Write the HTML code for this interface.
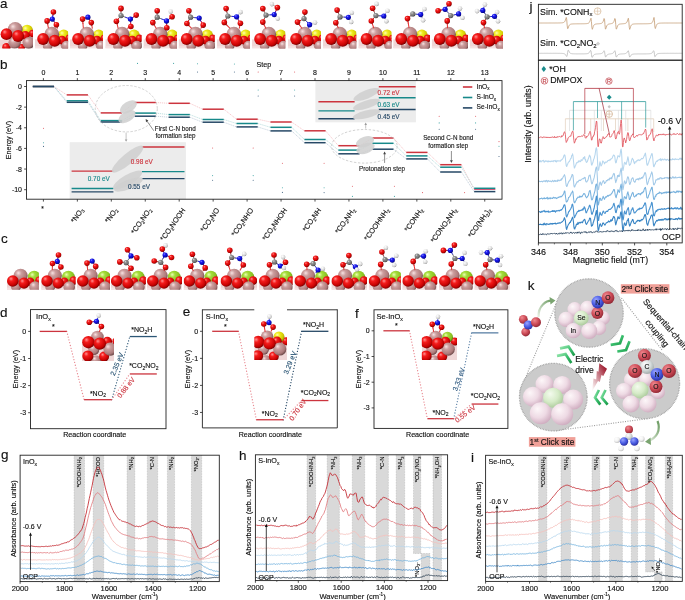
<!DOCTYPE html><html><head><meta charset="utf-8"><style>html,body{margin:0;padding:0;background:#fff;width:685px;height:600px;overflow:hidden;}svg{display:block;font-family:"Liberation Sans", sans-serif;filter:blur(0.3px);}</style></head><body>
<svg width="685" height="600" viewBox="0 0 685 600">
<defs>
<radialGradient id="gO" cx="0.4" cy="0.36" r="0.68" fx="0.34" fy="0.3"><stop offset="0" stop-color="#ff9090"/><stop offset="0.3" stop-color="#f41c1c"/><stop offset="0.75" stop-color="#c80202"/><stop offset="1" stop-color="#6a0000"/></radialGradient>
<radialGradient id="gIn" cx="0.4" cy="0.36" r="0.68" fx="0.34" fy="0.3"><stop offset="0" stop-color="#f8e2e2"/><stop offset="0.3" stop-color="#cc9e9e"/><stop offset="0.75" stop-color="#ac7a7a"/><stop offset="1" stop-color="#624040"/></radialGradient>
<radialGradient id="gS" cx="0.4" cy="0.36" r="0.68" fx="0.34" fy="0.3"><stop offset="0" stop-color="#ffffb0"/><stop offset="0.3" stop-color="#f0ec20"/><stop offset="0.75" stop-color="#d0c800"/><stop offset="1" stop-color="#807800"/></radialGradient>
<radialGradient id="gSe" cx="0.4" cy="0.36" r="0.68" fx="0.34" fy="0.3"><stop offset="0" stop-color="#eaffb0"/><stop offset="0.3" stop-color="#a4dc3c"/><stop offset="0.75" stop-color="#88c020"/><stop offset="1" stop-color="#4a7a08"/></radialGradient>
<radialGradient id="gN" cx="0.4" cy="0.36" r="0.68" fx="0.34" fy="0.3"><stop offset="0" stop-color="#9090ff"/><stop offset="0.3" stop-color="#2020f0"/><stop offset="0.75" stop-color="#0808c0"/><stop offset="1" stop-color="#000060"/></radialGradient>
<radialGradient id="gC" cx="0.4" cy="0.36" r="0.68" fx="0.34" fy="0.3"><stop offset="0" stop-color="#e0e0e0"/><stop offset="0.3" stop-color="#909090"/><stop offset="0.75" stop-color="#707070"/><stop offset="1" stop-color="#303030"/></radialGradient>
<radialGradient id="gH" cx="0.4" cy="0.36" r="0.68" fx="0.34" fy="0.3"><stop offset="0" stop-color="#ffffff"/><stop offset="0.3" stop-color="#f0f0f0"/><stop offset="0.75" stop-color="#d0d0d0"/><stop offset="1" stop-color="#888888"/></radialGradient>
</defs>
<rect x="0" y="0" width="685" height="600" fill="#fff" stroke="none" stroke-width="1" />
<rect x="69.7" y="142.2" width="116.2" height="57" fill="#ececec" stroke="none" stroke-width="1" />
<rect x="315.4" y="80.6" width="100.5" height="41.7" fill="#ececec" stroke="none" stroke-width="1" />
<line x1="54" y1="86.5" x2="66.75" y2="94.9" stroke="#f0a0a6" stroke-width="0.55" stroke-dasharray="1.2 0.8"/>
<line x1="87.95" y1="94.9" x2="100.7" y2="112.9" stroke="#f0a0a6" stroke-width="0.55" stroke-dasharray="1.2 0.8"/>
<line x1="121.9" y1="112.9" x2="134.65" y2="102.5" stroke="#f0a0a6" stroke-width="0.55" stroke-dasharray="1.2 0.8"/>
<line x1="155.85" y1="102.5" x2="168.6" y2="103.3" stroke="#f0a0a6" stroke-width="0.55" stroke-dasharray="1.2 0.8"/>
<line x1="189.8" y1="103.3" x2="202.55" y2="109.2" stroke="#f0a0a6" stroke-width="0.55" stroke-dasharray="1.2 0.8"/>
<line x1="223.75" y1="109.2" x2="236.5" y2="119.2" stroke="#f0a0a6" stroke-width="0.55" stroke-dasharray="1.2 0.8"/>
<line x1="257.7" y1="119.2" x2="270.45" y2="122" stroke="#f0a0a6" stroke-width="0.55" stroke-dasharray="1.2 0.8"/>
<line x1="291.65" y1="122" x2="304.4" y2="130.8" stroke="#f0a0a6" stroke-width="0.55" stroke-dasharray="1.2 0.8"/>
<line x1="325.6" y1="130.8" x2="338.35" y2="145.7" stroke="#f0a0a6" stroke-width="0.55" stroke-dasharray="1.2 0.8"/>
<line x1="359.55" y1="145.7" x2="372.3" y2="138" stroke="#f0a0a6" stroke-width="0.55" stroke-dasharray="1.2 0.8"/>
<line x1="393.5" y1="138" x2="406.25" y2="152.4" stroke="#f0a0a6" stroke-width="0.55" stroke-dasharray="1.2 0.8"/>
<line x1="427.45" y1="152.4" x2="440.2" y2="164.7" stroke="#f0a0a6" stroke-width="0.55" stroke-dasharray="1.2 0.8"/>
<line x1="461.4" y1="164.7" x2="474.15" y2="189.5" stroke="#f0a0a6" stroke-width="0.55" stroke-dasharray="1.2 0.8"/>
<line x1="54" y1="86.5" x2="66.75" y2="100.8" stroke="#8cc8c8" stroke-width="0.55" stroke-dasharray="1.2 0.8"/>
<line x1="87.95" y1="100.8" x2="100.7" y2="120.6" stroke="#8cc8c8" stroke-width="0.55" stroke-dasharray="1.2 0.8"/>
<line x1="121.9" y1="120.6" x2="134.65" y2="113.1" stroke="#8cc8c8" stroke-width="0.55" stroke-dasharray="1.2 0.8"/>
<line x1="155.85" y1="113.1" x2="168.6" y2="114.6" stroke="#8cc8c8" stroke-width="0.55" stroke-dasharray="1.2 0.8"/>
<line x1="189.8" y1="114.6" x2="202.55" y2="119.5" stroke="#8cc8c8" stroke-width="0.55" stroke-dasharray="1.2 0.8"/>
<line x1="223.75" y1="119.5" x2="236.5" y2="123.5" stroke="#8cc8c8" stroke-width="0.55" stroke-dasharray="1.2 0.8"/>
<line x1="257.7" y1="123.5" x2="270.45" y2="127.3" stroke="#8cc8c8" stroke-width="0.55" stroke-dasharray="1.2 0.8"/>
<line x1="291.65" y1="127.3" x2="304.4" y2="139.5" stroke="#8cc8c8" stroke-width="0.55" stroke-dasharray="1.2 0.8"/>
<line x1="325.6" y1="139.5" x2="338.35" y2="150.1" stroke="#8cc8c8" stroke-width="0.55" stroke-dasharray="1.2 0.8"/>
<line x1="359.55" y1="150.1" x2="372.3" y2="143.3" stroke="#8cc8c8" stroke-width="0.55" stroke-dasharray="1.2 0.8"/>
<line x1="393.5" y1="143.3" x2="406.25" y2="155.9" stroke="#8cc8c8" stroke-width="0.55" stroke-dasharray="1.2 0.8"/>
<line x1="427.45" y1="155.9" x2="440.2" y2="167.2" stroke="#8cc8c8" stroke-width="0.55" stroke-dasharray="1.2 0.8"/>
<line x1="461.4" y1="167.2" x2="474.15" y2="188.3" stroke="#8cc8c8" stroke-width="0.55" stroke-dasharray="1.2 0.8"/>
<line x1="54" y1="86.5" x2="66.75" y2="102.3" stroke="#9cb0c4" stroke-width="0.55" stroke-dasharray="1.2 0.8"/>
<line x1="87.95" y1="102.3" x2="100.7" y2="122" stroke="#9cb0c4" stroke-width="0.55" stroke-dasharray="1.2 0.8"/>
<line x1="121.9" y1="122" x2="134.65" y2="116.2" stroke="#9cb0c4" stroke-width="0.55" stroke-dasharray="1.2 0.8"/>
<line x1="155.85" y1="116.2" x2="168.6" y2="117.2" stroke="#9cb0c4" stroke-width="0.55" stroke-dasharray="1.2 0.8"/>
<line x1="189.8" y1="117.2" x2="202.55" y2="122.2" stroke="#9cb0c4" stroke-width="0.55" stroke-dasharray="1.2 0.8"/>
<line x1="223.75" y1="122.2" x2="236.5" y2="126.9" stroke="#9cb0c4" stroke-width="0.55" stroke-dasharray="1.2 0.8"/>
<line x1="257.7" y1="126.9" x2="270.45" y2="130.9" stroke="#9cb0c4" stroke-width="0.55" stroke-dasharray="1.2 0.8"/>
<line x1="291.65" y1="130.9" x2="304.4" y2="142.7" stroke="#9cb0c4" stroke-width="0.55" stroke-dasharray="1.2 0.8"/>
<line x1="325.6" y1="142.7" x2="338.35" y2="153.8" stroke="#9cb0c4" stroke-width="0.55" stroke-dasharray="1.2 0.8"/>
<line x1="359.55" y1="153.8" x2="372.3" y2="149.2" stroke="#9cb0c4" stroke-width="0.55" stroke-dasharray="1.2 0.8"/>
<line x1="393.5" y1="149.2" x2="406.25" y2="158.9" stroke="#9cb0c4" stroke-width="0.55" stroke-dasharray="1.2 0.8"/>
<line x1="427.45" y1="158.9" x2="440.2" y2="172" stroke="#9cb0c4" stroke-width="0.55" stroke-dasharray="1.2 0.8"/>
<line x1="461.4" y1="172" x2="474.15" y2="191.6" stroke="#9cb0c4" stroke-width="0.55" stroke-dasharray="1.2 0.8"/>
<line x1="32.8" y1="86.5" x2="54" y2="86.5" stroke="#cc343e" stroke-width="1.5" />
<line x1="32.8" y1="86.5" x2="54" y2="86.5" stroke="#17898a" stroke-width="1.5" />
<line x1="32.8" y1="86.5" x2="54" y2="86.5" stroke="#264866" stroke-width="1.5" />
<line x1="66.75" y1="94.9" x2="87.95" y2="94.9" stroke="#cc343e" stroke-width="1.5" />
<line x1="66.75" y1="100.8" x2="87.95" y2="100.8" stroke="#17898a" stroke-width="1.5" />
<line x1="66.75" y1="102.3" x2="87.95" y2="102.3" stroke="#264866" stroke-width="1.5" />
<line x1="100.7" y1="112.9" x2="121.9" y2="112.9" stroke="#cc343e" stroke-width="1.5" />
<line x1="100.7" y1="120.6" x2="121.9" y2="120.6" stroke="#17898a" stroke-width="1.5" />
<line x1="100.7" y1="122" x2="121.9" y2="122" stroke="#264866" stroke-width="1.5" />
<line x1="134.65" y1="102.5" x2="155.85" y2="102.5" stroke="#cc343e" stroke-width="1.5" />
<line x1="134.65" y1="113.1" x2="155.85" y2="113.1" stroke="#17898a" stroke-width="1.5" />
<line x1="134.65" y1="116.2" x2="155.85" y2="116.2" stroke="#264866" stroke-width="1.5" />
<line x1="168.6" y1="103.3" x2="189.8" y2="103.3" stroke="#cc343e" stroke-width="1.5" />
<line x1="168.6" y1="114.6" x2="189.8" y2="114.6" stroke="#17898a" stroke-width="1.5" />
<line x1="168.6" y1="117.2" x2="189.8" y2="117.2" stroke="#264866" stroke-width="1.5" />
<line x1="202.55" y1="109.2" x2="223.75" y2="109.2" stroke="#cc343e" stroke-width="1.5" />
<line x1="202.55" y1="119.5" x2="223.75" y2="119.5" stroke="#17898a" stroke-width="1.5" />
<line x1="202.55" y1="122.2" x2="223.75" y2="122.2" stroke="#264866" stroke-width="1.5" />
<line x1="236.5" y1="119.2" x2="257.7" y2="119.2" stroke="#cc343e" stroke-width="1.5" />
<line x1="236.5" y1="123.5" x2="257.7" y2="123.5" stroke="#17898a" stroke-width="1.5" />
<line x1="236.5" y1="126.9" x2="257.7" y2="126.9" stroke="#264866" stroke-width="1.5" />
<line x1="270.45" y1="122" x2="291.65" y2="122" stroke="#cc343e" stroke-width="1.5" />
<line x1="270.45" y1="127.3" x2="291.65" y2="127.3" stroke="#17898a" stroke-width="1.5" />
<line x1="270.45" y1="130.9" x2="291.65" y2="130.9" stroke="#264866" stroke-width="1.5" />
<line x1="304.4" y1="130.8" x2="325.6" y2="130.8" stroke="#cc343e" stroke-width="1.5" />
<line x1="304.4" y1="139.5" x2="325.6" y2="139.5" stroke="#17898a" stroke-width="1.5" />
<line x1="304.4" y1="142.7" x2="325.6" y2="142.7" stroke="#264866" stroke-width="1.5" />
<line x1="338.35" y1="145.7" x2="359.55" y2="145.7" stroke="#cc343e" stroke-width="1.5" />
<line x1="338.35" y1="150.1" x2="359.55" y2="150.1" stroke="#17898a" stroke-width="1.5" />
<line x1="338.35" y1="153.8" x2="359.55" y2="153.8" stroke="#264866" stroke-width="1.5" />
<line x1="372.3" y1="138" x2="393.5" y2="138" stroke="#cc343e" stroke-width="1.5" />
<line x1="372.3" y1="143.3" x2="393.5" y2="143.3" stroke="#17898a" stroke-width="1.5" />
<line x1="372.3" y1="149.2" x2="393.5" y2="149.2" stroke="#264866" stroke-width="1.5" />
<line x1="406.25" y1="152.4" x2="427.45" y2="152.4" stroke="#cc343e" stroke-width="1.5" />
<line x1="406.25" y1="155.9" x2="427.45" y2="155.9" stroke="#17898a" stroke-width="1.5" />
<line x1="406.25" y1="158.9" x2="427.45" y2="158.9" stroke="#264866" stroke-width="1.5" />
<line x1="440.2" y1="164.7" x2="461.4" y2="164.7" stroke="#cc343e" stroke-width="1.5" />
<line x1="440.2" y1="167.2" x2="461.4" y2="167.2" stroke="#17898a" stroke-width="1.5" />
<line x1="440.2" y1="172" x2="461.4" y2="172" stroke="#264866" stroke-width="1.5" />
<line x1="474.15" y1="188.3" x2="495.35" y2="188.3" stroke="#17898a" stroke-width="1.5" />
<line x1="474.15" y1="191.6" x2="495.35" y2="191.6" stroke="#264866" stroke-width="1.5" />
<line x1="474.15" y1="189.5" x2="495.35" y2="189.5" stroke="#d45a7a" stroke-width="1" />
<ellipse cx="128.4" cy="107" rx="9.5" ry="5.2" fill="#cfcfcf" opacity="0.85" transform="rotate(-32 128.4 107)"/>
<ellipse cx="127" cy="116.6" rx="9.5" ry="5.2" fill="#cfcfcf" opacity="0.85" transform="rotate(-32 127 116.6)"/>
<ellipse cx="365" cy="141.8" rx="9.5" ry="5" fill="#cfcfcf" opacity="0.85" transform="rotate(-20 365 141.8)"/>
<ellipse cx="365.5" cy="148.5" rx="9.5" ry="5" fill="#cfcfcf" opacity="0.85" transform="rotate(-20 365.5 148.5)"/>
<ellipse cx="126.3" cy="108.7" rx="31" ry="23.2" fill="none" stroke="#b4b4b4" stroke-width="0.6" stroke-dasharray="2.4 1.6"/>
<ellipse cx="364.4" cy="146.3" rx="32.8" ry="16.8" fill="none" stroke="#b4b4b4" stroke-width="0.6" stroke-dasharray="2.4 1.6"/>
<line x1="71.6" y1="171.1" x2="113.4" y2="171.1" stroke="#cc343e" stroke-width="1.4" />
<line x1="141.8" y1="147" x2="184.5" y2="147" stroke="#cc343e" stroke-width="1.4" />
<line x1="71.6" y1="188.5" x2="113.4" y2="188.5" stroke="#17898a" stroke-width="1.4" />
<line x1="71.6" y1="191.9" x2="113.4" y2="191.9" stroke="#264866" stroke-width="1.4" />
<line x1="141.8" y1="171.6" x2="184.5" y2="171.6" stroke="#17898a" stroke-width="1.4" />
<line x1="141.8" y1="178.6" x2="184.5" y2="178.6" stroke="#264866" stroke-width="1.4" />
<ellipse cx="127.6" cy="159.1" rx="20" ry="5.4" fill="#cfcfcf" opacity="0.85" transform="rotate(-40 127.6 159.1)"/>
<ellipse cx="127.6" cy="180" rx="16.5" ry="5.2" fill="#cfcfcf" opacity="0.85" transform="rotate(-30 127.6 180)"/>
<ellipse cx="128.5" cy="184.5" rx="15.5" ry="4.6" fill="#cfcfcf" opacity="0.85" transform="rotate(-22 128.5 184.5)"/>
<text x="141.8" y="163.6" font-size="6.4" text-anchor="middle" fill="#cc343e"  stroke="#cc343e" stroke-width="0.14">0.98 eV</text>
<text x="98.8" y="180.6" font-size="6.4" text-anchor="middle" fill="#17898a"  stroke="#17898a" stroke-width="0.14">0.70 eV</text>
<text x="139" y="188.9" font-size="6.4" text-anchor="middle" fill="#264866"  stroke="#264866" stroke-width="0.14">0.55 eV</text>
<line x1="318.4" y1="101.8" x2="354.6" y2="101.8" stroke="#cc343e" stroke-width="1.4" />
<line x1="318.4" y1="110.9" x2="354.6" y2="110.9" stroke="#17898a" stroke-width="1.4" />
<line x1="318.4" y1="118.8" x2="354.6" y2="118.8" stroke="#264866" stroke-width="1.4" />
<line x1="378.8" y1="86.7" x2="415.6" y2="86.7" stroke="#cc343e" stroke-width="1.4" />
<line x1="378.8" y1="97.8" x2="415.6" y2="97.8" stroke="#17898a" stroke-width="1.4" />
<line x1="378.8" y1="109.5" x2="415.6" y2="109.5" stroke="#264866" stroke-width="1.4" />
<ellipse cx="366.5" cy="94.5" rx="14" ry="4.2" fill="#cfcfcf" opacity="0.85" transform="rotate(-22 366.5 94.5)"/>
<ellipse cx="366.5" cy="104.5" rx="14" ry="4" fill="#cfcfcf" opacity="0.85" transform="rotate(-18 366.5 104.5)"/>
<ellipse cx="366.5" cy="114.3" rx="14" ry="3.8" fill="#cfcfcf" opacity="0.85" transform="rotate(-14 366.5 114.3)"/>
<text x="377.6" y="95.2" font-size="6.4" text-anchor="start" fill="#cc343e"  stroke="#cc343e" stroke-width="0.14">0.72 eV</text>
<text x="377.6" y="107.4" font-size="6.4" text-anchor="start" fill="#17898a"  stroke="#17898a" stroke-width="0.14">0.63 eV</text>
<text x="377.6" y="119" font-size="6.4" text-anchor="start" fill="#264866"  stroke="#264866" stroke-width="0.14">0.45 eV</text>
<line x1="126.1" y1="132.6" x2="126.1" y2="139.9" stroke="#9a9a9a" stroke-width="0.6" />
<path d="M126.1 141.8 L124.8 139.4 L127.4 139.4 Z" fill="#9a9a9a"/>
<line x1="365.7" y1="128.6" x2="365.7" y2="124.5" stroke="#9a9a9a" stroke-width="0.6" />
<path d="M365.7 122.6 L367 125 L364.4 125 Z" fill="#9a9a9a"/>
<line x1="153.8" y1="130.8" x2="146.92" y2="120.98" stroke="#444" stroke-width="0.6" />
<path d="M145.6 119.1 L148.35 120.59 L146.06 122.2 Z" fill="#444"/>
<line x1="384.6" y1="162.9" x2="384.6" y2="153.8" stroke="#444" stroke-width="0.6" />
<path d="M384.6 151.5 L386 154.3 L383.2 154.3 Z" fill="#444"/>
<line x1="451.4" y1="151" x2="451.4" y2="160.7" stroke="#444" stroke-width="0.6" />
<path d="M451.4 163 L450 160.2 L452.8 160.2 Z" fill="#444"/>
<text x="175.3" y="130.8" font-size="6.3" text-anchor="middle" fill="#1a1a1a"  stroke="#1a1a1a" stroke-width="0.14">First C-N bond</text>
<text x="175.5" y="137.7" font-size="6.3" text-anchor="middle" fill="#1a1a1a"  stroke="#1a1a1a" stroke-width="0.14">formation step</text>
<text x="382" y="170.8" font-size="6.3" text-anchor="middle" fill="#1a1a1a"  stroke="#1a1a1a" stroke-width="0.14">Protonation step</text>
<text x="448.2" y="140.2" font-size="6.3" text-anchor="middle" fill="#1a1a1a"  stroke="#1a1a1a" stroke-width="0.14">Second C-N bond</text>
<text x="448.2" y="148.4" font-size="6.3" text-anchor="middle" fill="#1a1a1a"  stroke="#1a1a1a" stroke-width="0.14">formation step</text>
<line x1="462.9" y1="87" x2="472.3" y2="87" stroke="#cc343e" stroke-width="1.6" />
<text x="476.6" y="88.5" font-size="6.6" fill="#111" stroke="#111" stroke-width="0.14">InO<tspan font-size="4.6" dy="1.6">x</tspan></text>
<line x1="462.9" y1="97.5" x2="472.3" y2="97.5" stroke="#17898a" stroke-width="1.6" />
<text x="476.6" y="99" font-size="6.6" fill="#111" stroke="#111" stroke-width="0.14">S-InO<tspan font-size="4.6" dy="1.6">x</tspan></text>
<line x1="462.9" y1="107.9" x2="472.3" y2="107.9" stroke="#264866" stroke-width="1.6" />
<text x="476.6" y="109.4" font-size="6.6" fill="#111" stroke="#111" stroke-width="0.14">Se-InO<tspan font-size="4.6" dy="1.6">x</tspan></text>
<circle cx="43.5" cy="128.2" r="0.55" fill="#e05a62" />
<circle cx="43.5" cy="142.8" r="0.55" fill="#48a8a8" />
<circle cx="43.5" cy="146.4" r="0.55" fill="#4a6a88" />
<circle cx="137.5" cy="63.4" r="0.55" fill="#48a8a8" />
<circle cx="173.6" cy="63.4" r="0.55" fill="#48a8a8" />
<circle cx="197.5" cy="63.8" r="0.55" fill="#48a8a8" />
<circle cx="197.5" cy="72" r="0.55" fill="#4a6a88" />
<circle cx="234.4" cy="64" r="0.55" fill="#48a8a8" />
<circle cx="234.4" cy="72" r="0.55" fill="#4a6a88" />
<circle cx="258.2" cy="72" r="0.55" fill="#e05a62" />
<circle cx="258.2" cy="90" r="0.55" fill="#48a8a8" />
<circle cx="258.2" cy="96" r="0.55" fill="#4a6a88" />
<circle cx="294.6" cy="72" r="0.55" fill="#e05a62" />
<circle cx="294.6" cy="90" r="0.55" fill="#48a8a8" />
<circle cx="294.6" cy="96" r="0.55" fill="#4a6a88" />
<circle cx="212.6" cy="148" r="0.55" fill="#e05a62" />
<circle cx="212.6" cy="175.6" r="0.55" fill="#48a8a8" />
<circle cx="212.6" cy="180.2" r="0.55" fill="#4a6a88" />
<circle cx="253.2" cy="148" r="0.55" fill="#e05a62" />
<circle cx="253.2" cy="175.6" r="0.55" fill="#48a8a8" />
<circle cx="253.2" cy="180.2" r="0.55" fill="#4a6a88" />
<circle cx="282.4" cy="163.2" r="0.55" fill="#e05a62" />
<circle cx="282.4" cy="187.8" r="0.55" fill="#48a8a8" />
<circle cx="282.4" cy="192.4" r="0.55" fill="#4a6a88" />
<circle cx="324.1" cy="163.2" r="0.55" fill="#e05a62" />
<circle cx="324.1" cy="187.8" r="0.55" fill="#48a8a8" />
<circle cx="324.1" cy="192.6" r="0.55" fill="#4a6a88" />
<circle cx="352.4" cy="186.2" r="0.55" fill="#e05a62" />
<circle cx="352.4" cy="196.4" r="0.55" fill="#48a8a8" />
<circle cx="394.4" cy="186.2" r="0.55" fill="#e05a62" />
<circle cx="394.4" cy="196.4" r="0.55" fill="#48a8a8" />
<circle cx="422.5" cy="192.6" r="0.55" fill="#e05a62" />
<circle cx="464.6" cy="192.6" r="0.55" fill="#e05a62" />
<circle cx="439.2" cy="116.2" r="0.55" fill="#e05a62" />
<circle cx="439.2" cy="122.9" r="0.55" fill="#48a8a8" />
<circle cx="439.2" cy="129.2" r="0.55" fill="#4a6a88" />
<circle cx="475.6" cy="116.2" r="0.55" fill="#e05a62" />
<circle cx="475.6" cy="122.9" r="0.55" fill="#48a8a8" />
<circle cx="475.6" cy="129.2" r="0.55" fill="#4a6a88" />
<circle cx="499" cy="141.6" r="0.55" fill="#e05a62" />
<circle cx="499" cy="146.3" r="0.55" fill="#48a8a8" />
<circle cx="499" cy="156.5" r="0.55" fill="#4a6a88" />
<rect x="26.5" y="80.6" width="475.5" height="118.6" fill="none" stroke="#222" stroke-width="0.9" />
<line x1="43.4" y1="80.6" x2="43.4" y2="78.1" stroke="#222" stroke-width="0.8" />
<line x1="43.4" y1="199.2" x2="43.4" y2="201.6" stroke="#222" stroke-width="0.8" />
<text x="43.4" y="75.1" font-size="7" text-anchor="middle" fill="#111"  stroke="#111" stroke-width="0.14">0</text>
<line x1="77.35" y1="80.6" x2="77.35" y2="78.1" stroke="#222" stroke-width="0.8" />
<line x1="77.35" y1="199.2" x2="77.35" y2="201.6" stroke="#222" stroke-width="0.8" />
<text x="77.35" y="75.1" font-size="7" text-anchor="middle" fill="#111"  stroke="#111" stroke-width="0.14">1</text>
<line x1="111.3" y1="80.6" x2="111.3" y2="78.1" stroke="#222" stroke-width="0.8" />
<line x1="111.3" y1="199.2" x2="111.3" y2="201.6" stroke="#222" stroke-width="0.8" />
<text x="111.3" y="75.1" font-size="7" text-anchor="middle" fill="#111"  stroke="#111" stroke-width="0.14">2</text>
<line x1="145.25" y1="80.6" x2="145.25" y2="78.1" stroke="#222" stroke-width="0.8" />
<line x1="145.25" y1="199.2" x2="145.25" y2="201.6" stroke="#222" stroke-width="0.8" />
<text x="145.25" y="75.1" font-size="7" text-anchor="middle" fill="#111"  stroke="#111" stroke-width="0.14">3</text>
<line x1="179.2" y1="80.6" x2="179.2" y2="78.1" stroke="#222" stroke-width="0.8" />
<line x1="179.2" y1="199.2" x2="179.2" y2="201.6" stroke="#222" stroke-width="0.8" />
<text x="179.2" y="75.1" font-size="7" text-anchor="middle" fill="#111"  stroke="#111" stroke-width="0.14">4</text>
<line x1="213.15" y1="80.6" x2="213.15" y2="78.1" stroke="#222" stroke-width="0.8" />
<line x1="213.15" y1="199.2" x2="213.15" y2="201.6" stroke="#222" stroke-width="0.8" />
<text x="213.15" y="75.1" font-size="7" text-anchor="middle" fill="#111"  stroke="#111" stroke-width="0.14">5</text>
<line x1="247.1" y1="80.6" x2="247.1" y2="78.1" stroke="#222" stroke-width="0.8" />
<line x1="247.1" y1="199.2" x2="247.1" y2="201.6" stroke="#222" stroke-width="0.8" />
<text x="247.1" y="75.1" font-size="7" text-anchor="middle" fill="#111"  stroke="#111" stroke-width="0.14">6</text>
<line x1="281.05" y1="80.6" x2="281.05" y2="78.1" stroke="#222" stroke-width="0.8" />
<line x1="281.05" y1="199.2" x2="281.05" y2="201.6" stroke="#222" stroke-width="0.8" />
<text x="281.05" y="75.1" font-size="7" text-anchor="middle" fill="#111"  stroke="#111" stroke-width="0.14">7</text>
<line x1="315" y1="80.6" x2="315" y2="78.1" stroke="#222" stroke-width="0.8" />
<line x1="315" y1="199.2" x2="315" y2="201.6" stroke="#222" stroke-width="0.8" />
<text x="315" y="75.1" font-size="7" text-anchor="middle" fill="#111"  stroke="#111" stroke-width="0.14">8</text>
<line x1="348.95" y1="80.6" x2="348.95" y2="78.1" stroke="#222" stroke-width="0.8" />
<line x1="348.95" y1="199.2" x2="348.95" y2="201.6" stroke="#222" stroke-width="0.8" />
<text x="348.95" y="75.1" font-size="7" text-anchor="middle" fill="#111"  stroke="#111" stroke-width="0.14">9</text>
<line x1="382.9" y1="80.6" x2="382.9" y2="78.1" stroke="#222" stroke-width="0.8" />
<line x1="382.9" y1="199.2" x2="382.9" y2="201.6" stroke="#222" stroke-width="0.8" />
<text x="382.9" y="75.1" font-size="7" text-anchor="middle" fill="#111"  stroke="#111" stroke-width="0.14">10</text>
<line x1="416.85" y1="80.6" x2="416.85" y2="78.1" stroke="#222" stroke-width="0.8" />
<line x1="416.85" y1="199.2" x2="416.85" y2="201.6" stroke="#222" stroke-width="0.8" />
<text x="416.85" y="75.1" font-size="7" text-anchor="middle" fill="#111"  stroke="#111" stroke-width="0.14">11</text>
<line x1="450.8" y1="80.6" x2="450.8" y2="78.1" stroke="#222" stroke-width="0.8" />
<line x1="450.8" y1="199.2" x2="450.8" y2="201.6" stroke="#222" stroke-width="0.8" />
<text x="450.8" y="75.1" font-size="7" text-anchor="middle" fill="#111"  stroke="#111" stroke-width="0.14">12</text>
<line x1="484.75" y1="80.6" x2="484.75" y2="78.1" stroke="#222" stroke-width="0.8" />
<line x1="484.75" y1="199.2" x2="484.75" y2="201.6" stroke="#222" stroke-width="0.8" />
<text x="484.75" y="75.1" font-size="7" text-anchor="middle" fill="#111"  stroke="#111" stroke-width="0.14">13</text>
<line x1="26.5" y1="86.5" x2="24.1" y2="86.5" stroke="#222" stroke-width="0.8" />
<text x="22" y="89" font-size="7" text-anchor="end" fill="#111"  stroke="#111" stroke-width="0.14">0</text>
<line x1="26.5" y1="107.14" x2="24.1" y2="107.14" stroke="#222" stroke-width="0.8" />
<text x="22" y="109.64" font-size="7" text-anchor="end" fill="#111"  stroke="#111" stroke-width="0.14">-2</text>
<line x1="26.5" y1="127.78" x2="24.1" y2="127.78" stroke="#222" stroke-width="0.8" />
<text x="22" y="130.28" font-size="7" text-anchor="end" fill="#111"  stroke="#111" stroke-width="0.14">-4</text>
<line x1="26.5" y1="148.42" x2="24.1" y2="148.42" stroke="#222" stroke-width="0.8" />
<text x="22" y="150.92" font-size="7" text-anchor="end" fill="#111"  stroke="#111" stroke-width="0.14">-6</text>
<line x1="26.5" y1="169.06" x2="24.1" y2="169.06" stroke="#222" stroke-width="0.8" />
<text x="22" y="171.56" font-size="7" text-anchor="end" fill="#111"  stroke="#111" stroke-width="0.14">-8</text>
<line x1="26.5" y1="189.7" x2="24.1" y2="189.7" stroke="#222" stroke-width="0.8" />
<text x="22" y="192.2" font-size="7" text-anchor="end" fill="#111"  stroke="#111" stroke-width="0.14">-10</text>
<text x="263.9" y="67.3" font-size="7.2" text-anchor="middle" fill="#111"  stroke="#111" stroke-width="0.14">Step</text>
<text x="10.6" y="140" font-size="7.2" fill="#111" text-anchor="middle" transform="rotate(-90 10.6 140)" stroke="#111" stroke-width="0.14">Energy (eV)</text>
<text x="42.4" y="211" font-size="6.5" text-anchor="middle" fill="#111"  stroke="#111" stroke-width="0.14">*</text>
<text x="83.95" y="210.2" font-size="7.3" fill="#111" text-anchor="end" transform="rotate(-55 83.95 210.2)" stroke="#111" stroke-width="0.14">*NO<tspan font-size="4.6" dy="1.4">3</tspan></text>
<text x="117.9" y="210.2" font-size="7.3" fill="#111" text-anchor="end" transform="rotate(-55 117.9 210.2)" stroke="#111" stroke-width="0.14">*NO<tspan font-size="4.6" dy="1.4">2</tspan></text>
<text x="151.85" y="210.2" font-size="7.3" fill="#111" text-anchor="end" transform="rotate(-55 151.85 210.2)" stroke="#111" stroke-width="0.14">*CO<tspan font-size="4.6" dy="1.4">2</tspan><tspan dy="-1.4">NO</tspan><tspan font-size="4.6" dy="1.4">2</tspan></text>
<text x="185.8" y="210.2" font-size="7.3" fill="#111" text-anchor="end" transform="rotate(-55 185.8 210.2)" stroke="#111" stroke-width="0.14">*CO<tspan font-size="4.6" dy="1.4">2</tspan><tspan dy="-1.4">NOOH</tspan></text>
<text x="219.75" y="210.2" font-size="7.3" fill="#111" text-anchor="end" transform="rotate(-55 219.75 210.2)" stroke="#111" stroke-width="0.14">*CO<tspan font-size="4.6" dy="1.4">2</tspan><tspan dy="-1.4">NO</tspan></text>
<text x="253.7" y="210.2" font-size="7.3" fill="#111" text-anchor="end" transform="rotate(-55 253.7 210.2)" stroke="#111" stroke-width="0.14">*CO<tspan font-size="4.6" dy="1.4">2</tspan><tspan dy="-1.4">NHO</tspan></text>
<text x="287.65" y="210.2" font-size="7.3" fill="#111" text-anchor="end" transform="rotate(-55 287.65 210.2)" stroke="#111" stroke-width="0.14">*CO<tspan font-size="4.6" dy="1.4">2</tspan><tspan dy="-1.4">NHOH</tspan></text>
<text x="321.6" y="210.2" font-size="7.3" fill="#111" text-anchor="end" transform="rotate(-55 321.6 210.2)" stroke="#111" stroke-width="0.14">*CO<tspan font-size="4.6" dy="1.4">2</tspan><tspan dy="-1.4">NH</tspan></text>
<text x="355.55" y="210.2" font-size="7.3" fill="#111" text-anchor="end" transform="rotate(-55 355.55 210.2)" stroke="#111" stroke-width="0.14">*CO<tspan font-size="4.6" dy="1.4">2</tspan><tspan dy="-1.4">NH</tspan><tspan font-size="4.6" dy="1.4">2</tspan></text>
<text x="389.5" y="210.2" font-size="7.3" fill="#111" text-anchor="end" transform="rotate(-55 389.5 210.2)" stroke="#111" stroke-width="0.14">*COOHNH<tspan font-size="4.6" dy="1.4">2</tspan></text>
<text x="423.45" y="210.2" font-size="7.3" fill="#111" text-anchor="end" transform="rotate(-55 423.45 210.2)" stroke="#111" stroke-width="0.14">*CONH<tspan font-size="4.6" dy="1.4">2</tspan></text>
<text x="457.4" y="210.2" font-size="7.3" fill="#111" text-anchor="end" transform="rotate(-55 457.4 210.2)" stroke="#111" stroke-width="0.14">*CONO<tspan font-size="4.6" dy="1.4">2</tspan><tspan dy="-1.4">NH</tspan><tspan font-size="4.6" dy="1.4">2</tspan></text>
<text x="491.35" y="210.2" font-size="7.3" fill="#111" text-anchor="end" transform="rotate(-55 491.35 210.2)" stroke="#111" stroke-width="0.14">*CO(NH<tspan font-size="4.6" dy="1.4">2</tspan><tspan dy="-1.4">)</tspan><tspan font-size="4.6" dy="1.4">2</tspan></text>
<clipPath id="cl1"><rect x="-1" y="21.6" width="34" height="27"/></clipPath><g clip-path="url(#cl1)">
<rect x="-1" y="39.6" width="34" height="9" fill="#efd6d6" stroke="none" stroke-width="1" />
<rect x="-1" y="46.4" width="34" height="2.2" fill="#f4e2e2" stroke="none" stroke-width="1" />
<circle cx="6.4" cy="47.2" r="4.2" fill="url(#gO)" />
<circle cx="21.6" cy="47.5" r="3.4" fill="url(#gO)" />
<circle cx="14.6" cy="42.6" r="6.2" fill="url(#gIn)" />
<circle cx="28.7" cy="42.6" r="6.2" fill="url(#gIn)" />
<circle cx="27.1" cy="30.4" r="5.7" fill="url(#gS)" />
<circle cx="32.7" cy="33.6" r="3.8" fill="url(#gO)" />
<circle cx="25.4" cy="35.4" r="4.4" fill="url(#gO)" />
<circle cx="15.2" cy="29.4" r="7.4" fill="url(#gIn)" />
<circle cx="6.5" cy="34.2" r="5.9" fill="url(#gO)" />
<circle cx="18.1" cy="36" r="6" fill="url(#gO)" />
<circle cx="28.7" cy="42.8" r="5.8" fill="url(#gIn)" />
</g>
<clipPath id="cl2"><rect x="35" y="21.4" width="33.1" height="27"/></clipPath><g clip-path="url(#cl2)">
<rect x="35" y="39.4" width="33.1" height="9" fill="#efd6d6" stroke="none" stroke-width="1" />
<rect x="35" y="46.2" width="33.1" height="2.2" fill="#f4e2e2" stroke="none" stroke-width="1" />
<circle cx="47.6" cy="45.9" r="4.8" fill="url(#gIn)" />
<circle cx="66.3" cy="45.3" r="5.6" fill="url(#gIn)" />
<circle cx="63.7" cy="35.2" r="5.7" fill="url(#gS)" />
<circle cx="69.3" cy="38.4" r="3.8" fill="url(#gO)" />
<circle cx="62" cy="40.2" r="4.4" fill="url(#gO)" />
<circle cx="51.8" cy="34.2" r="7.4" fill="url(#gIn)" />
<circle cx="43.1" cy="39" r="5.9" fill="url(#gO)" />
<circle cx="54.7" cy="40.8" r="6" fill="url(#gO)" />
<circle cx="66.6" cy="45.7" r="5" fill="url(#gIn)" />
</g>
<line x1="47.1" y1="20.9" x2="47.7" y2="24.3" stroke="#e01818" stroke-width="1.05" stroke-linecap="round"/>
<line x1="47.7" y1="24.3" x2="48.3" y2="27.7" stroke="#e03838" stroke-width="1.05" stroke-linecap="round"/>
<line x1="56.4" y1="24.7" x2="56.85" y2="26.45" stroke="#e01818" stroke-width="1.05" stroke-linecap="round"/>
<line x1="56.85" y1="26.45" x2="57.3" y2="28.2" stroke="#e03838" stroke-width="1.05" stroke-linecap="round"/>
<line x1="53.4" y1="12" x2="52.85" y2="15.55" stroke="#e01818" stroke-width="1" stroke-linecap="round"/>
<line x1="52.85" y1="15.55" x2="52.3" y2="19.1" stroke="#2020e0" stroke-width="1" stroke-linecap="round"/>
<line x1="52.3" y1="19.1" x2="49.7" y2="20" stroke="#2020e0" stroke-width="1" stroke-linecap="round"/>
<line x1="49.7" y1="20" x2="47.1" y2="20.9" stroke="#e01818" stroke-width="1" stroke-linecap="round"/>
<line x1="52.3" y1="19.1" x2="54.35" y2="21.9" stroke="#2020e0" stroke-width="1" stroke-linecap="round"/>
<line x1="54.35" y1="21.9" x2="56.4" y2="24.7" stroke="#e01818" stroke-width="1" stroke-linecap="round"/>
<circle cx="53.4" cy="12" r="2.8" fill="url(#gO)" />
<circle cx="52.3" cy="19.1" r="2.6" fill="url(#gN)" />
<circle cx="47.1" cy="20.9" r="2.8" fill="url(#gO)" />
<circle cx="56.4" cy="24.7" r="2.8" fill="url(#gO)" />
<clipPath id="cl3"><rect x="70" y="21.4" width="33" height="27"/></clipPath><g clip-path="url(#cl3)">
<rect x="70" y="39.4" width="33" height="9" fill="#efd6d6" stroke="none" stroke-width="1" />
<rect x="70" y="46.2" width="33" height="2.2" fill="#f4e2e2" stroke="none" stroke-width="1" />
<circle cx="82.6" cy="45.9" r="4.8" fill="url(#gIn)" />
<circle cx="101.3" cy="45.3" r="5.6" fill="url(#gIn)" />
<circle cx="98.7" cy="35.2" r="5.7" fill="url(#gS)" />
<circle cx="104.3" cy="38.4" r="3.8" fill="url(#gO)" />
<circle cx="97" cy="40.2" r="4.4" fill="url(#gO)" />
<circle cx="86.8" cy="34.2" r="7.4" fill="url(#gIn)" />
<circle cx="78.1" cy="39" r="5.9" fill="url(#gO)" />
<circle cx="89.7" cy="40.8" r="6" fill="url(#gO)" />
<circle cx="101.6" cy="45.7" r="5" fill="url(#gIn)" />
</g>
<line x1="82.6" y1="19.1" x2="82.95" y2="23.4" stroke="#e01818" stroke-width="1.05" stroke-linecap="round"/>
<line x1="82.95" y1="23.4" x2="83.3" y2="27.7" stroke="#e03838" stroke-width="1.05" stroke-linecap="round"/>
<line x1="91.3" y1="22.6" x2="91.8" y2="25.4" stroke="#e01818" stroke-width="1.05" stroke-linecap="round"/>
<line x1="91.8" y1="25.4" x2="92.3" y2="28.2" stroke="#e03838" stroke-width="1.05" stroke-linecap="round"/>
<line x1="87.9" y1="17.2" x2="85.25" y2="18.15" stroke="#2020e0" stroke-width="1" stroke-linecap="round"/>
<line x1="85.25" y1="18.15" x2="82.6" y2="19.1" stroke="#e01818" stroke-width="1" stroke-linecap="round"/>
<line x1="87.9" y1="17.2" x2="89.6" y2="19.9" stroke="#2020e0" stroke-width="1" stroke-linecap="round"/>
<line x1="89.6" y1="19.9" x2="91.3" y2="22.6" stroke="#e01818" stroke-width="1" stroke-linecap="round"/>
<circle cx="87.9" cy="17.2" r="2.6" fill="url(#gN)" />
<circle cx="82.6" cy="19.1" r="2.8" fill="url(#gO)" />
<circle cx="91.3" cy="22.6" r="2.8" fill="url(#gO)" />
<clipPath id="cl4"><rect x="105.3" y="21.4" width="36.4" height="27"/></clipPath><g clip-path="url(#cl4)">
<rect x="105.3" y="39.4" width="36.4" height="9" fill="#efd6d6" stroke="none" stroke-width="1" />
<rect x="105.3" y="46.2" width="36.4" height="2.2" fill="#f4e2e2" stroke="none" stroke-width="1" />
<circle cx="117.9" cy="45.9" r="4.8" fill="url(#gIn)" />
<circle cx="136.6" cy="45.3" r="5.6" fill="url(#gIn)" />
<circle cx="134" cy="35.2" r="5.7" fill="url(#gS)" />
<circle cx="139.6" cy="38.4" r="3.8" fill="url(#gO)" />
<circle cx="132.3" cy="40.2" r="4.4" fill="url(#gO)" />
<circle cx="122.1" cy="34.2" r="7.4" fill="url(#gIn)" />
<circle cx="113.4" cy="39" r="5.9" fill="url(#gO)" />
<circle cx="125" cy="40.8" r="6" fill="url(#gO)" />
<circle cx="136.9" cy="45.7" r="5" fill="url(#gIn)" />
</g>
<line x1="116.4" y1="21.2" x2="117.25" y2="24.7" stroke="#e01818" stroke-width="1.05" stroke-linecap="round"/>
<line x1="117.25" y1="24.7" x2="118.1" y2="28.2" stroke="#e03838" stroke-width="1.05" stroke-linecap="round"/>
<line x1="130.9" y1="26.5" x2="129.25" y2="27.35" stroke="#e01818" stroke-width="1.05" stroke-linecap="round"/>
<line x1="129.25" y1="27.35" x2="127.6" y2="28.2" stroke="#e03838" stroke-width="1.05" stroke-linecap="round"/>
<line x1="121" y1="8.4" x2="121" y2="12" stroke="#e01818" stroke-width="1" stroke-linecap="round"/>
<line x1="121" y1="12" x2="121" y2="15.6" stroke="#808080" stroke-width="1" stroke-linecap="round"/>
<line x1="121" y1="15.6" x2="125.7" y2="17.35" stroke="#808080" stroke-width="1" stroke-linecap="round"/>
<line x1="125.7" y1="17.35" x2="130.4" y2="19.1" stroke="#2020e0" stroke-width="1" stroke-linecap="round"/>
<line x1="130.4" y1="19.1" x2="133.3" y2="17.1" stroke="#2020e0" stroke-width="1" stroke-linecap="round"/>
<line x1="133.3" y1="17.1" x2="136.2" y2="15.1" stroke="#e01818" stroke-width="1" stroke-linecap="round"/>
<line x1="121" y1="15.6" x2="118.7" y2="18.4" stroke="#808080" stroke-width="1" stroke-linecap="round"/>
<line x1="118.7" y1="18.4" x2="116.4" y2="21.2" stroke="#e01818" stroke-width="1" stroke-linecap="round"/>
<line x1="130.4" y1="19.1" x2="130.65" y2="22.8" stroke="#2020e0" stroke-width="1" stroke-linecap="round"/>
<line x1="130.65" y1="22.8" x2="130.9" y2="26.5" stroke="#e01818" stroke-width="1" stroke-linecap="round"/>
<circle cx="121" cy="8.4" r="2.8" fill="url(#gO)" />
<circle cx="121" cy="15.6" r="2.6" fill="url(#gC)" />
<circle cx="130.4" cy="19.1" r="2.6" fill="url(#gN)" />
<circle cx="136.2" cy="15.1" r="2.8" fill="url(#gO)" />
<circle cx="116.4" cy="21.2" r="2.8" fill="url(#gO)" />
<circle cx="130.9" cy="26.5" r="2.8" fill="url(#gO)" />
<clipPath id="cl5"><rect x="143.4" y="21.4" width="33.6" height="27"/></clipPath><g clip-path="url(#cl5)">
<rect x="143.4" y="39.4" width="33.6" height="9" fill="#efd6d6" stroke="none" stroke-width="1" />
<rect x="143.4" y="46.2" width="33.6" height="2.2" fill="#f4e2e2" stroke="none" stroke-width="1" />
<circle cx="156" cy="45.9" r="4.8" fill="url(#gIn)" />
<circle cx="174.7" cy="45.3" r="5.6" fill="url(#gIn)" />
<circle cx="172.1" cy="35.2" r="5.7" fill="url(#gS)" />
<circle cx="177.7" cy="38.4" r="3.8" fill="url(#gO)" />
<circle cx="170.4" cy="40.2" r="4.4" fill="url(#gO)" />
<circle cx="160.2" cy="34.2" r="7.4" fill="url(#gIn)" />
<circle cx="151.5" cy="39" r="5.9" fill="url(#gO)" />
<circle cx="163.1" cy="40.8" r="6" fill="url(#gO)" />
<circle cx="175" cy="45.7" r="5" fill="url(#gIn)" />
</g>
<line x1="152.8" y1="22.6" x2="154.5" y2="25.4" stroke="#e01818" stroke-width="1.05" stroke-linecap="round"/>
<line x1="154.5" y1="25.4" x2="156.2" y2="28.2" stroke="#e03838" stroke-width="1.05" stroke-linecap="round"/>
<line x1="166.8" y1="27.7" x2="166.25" y2="27.95" stroke="#e01818" stroke-width="1.05" stroke-linecap="round"/>
<line x1="166.25" y1="27.95" x2="165.7" y2="28.2" stroke="#e03838" stroke-width="1.05" stroke-linecap="round"/>
<line x1="157.2" y1="10.7" x2="157.2" y2="13.95" stroke="#e01818" stroke-width="1" stroke-linecap="round"/>
<line x1="157.2" y1="13.95" x2="157.2" y2="17.2" stroke="#808080" stroke-width="1" stroke-linecap="round"/>
<line x1="157.2" y1="17.2" x2="161.85" y2="19.05" stroke="#808080" stroke-width="1" stroke-linecap="round"/>
<line x1="161.85" y1="19.05" x2="166.5" y2="20.9" stroke="#2020e0" stroke-width="1" stroke-linecap="round"/>
<line x1="166.5" y1="20.9" x2="169.3" y2="18.85" stroke="#2020e0" stroke-width="1" stroke-linecap="round"/>
<line x1="169.3" y1="18.85" x2="172.1" y2="16.8" stroke="#e01818" stroke-width="1" stroke-linecap="round"/>
<line x1="172.1" y1="16.8" x2="171.4" y2="14.2" stroke="#e01818" stroke-width="1" stroke-linecap="round"/>
<line x1="171.4" y1="14.2" x2="170.7" y2="11.6" stroke="#d8d8d8" stroke-width="1" stroke-linecap="round"/>
<line x1="157.2" y1="17.2" x2="155" y2="19.9" stroke="#808080" stroke-width="1" stroke-linecap="round"/>
<line x1="155" y1="19.9" x2="152.8" y2="22.6" stroke="#e01818" stroke-width="1" stroke-linecap="round"/>
<line x1="166.5" y1="20.9" x2="166.65" y2="24.3" stroke="#2020e0" stroke-width="1" stroke-linecap="round"/>
<line x1="166.65" y1="24.3" x2="166.8" y2="27.7" stroke="#e01818" stroke-width="1" stroke-linecap="round"/>
<circle cx="157.2" cy="10.7" r="2.8" fill="url(#gO)" />
<circle cx="157.2" cy="17.2" r="2.6" fill="url(#gC)" />
<circle cx="166.5" cy="20.9" r="2.6" fill="url(#gN)" />
<circle cx="172.1" cy="16.8" r="2.8" fill="url(#gO)" />
<circle cx="170.7" cy="11.6" r="2.3" fill="url(#gH)" />
<circle cx="152.8" cy="22.6" r="2.8" fill="url(#gO)" />
<circle cx="166.8" cy="27.7" r="2.8" fill="url(#gO)" />
<clipPath id="cl6"><rect x="178.6" y="21.4" width="36.2" height="27"/></clipPath><g clip-path="url(#cl6)">
<rect x="178.6" y="39.4" width="36.2" height="9" fill="#efd6d6" stroke="none" stroke-width="1" />
<rect x="178.6" y="46.2" width="36.2" height="2.2" fill="#f4e2e2" stroke="none" stroke-width="1" />
<circle cx="191.2" cy="45.9" r="4.8" fill="url(#gIn)" />
<circle cx="209.9" cy="45.3" r="5.6" fill="url(#gIn)" />
<circle cx="207.3" cy="35.2" r="5.7" fill="url(#gS)" />
<circle cx="212.9" cy="38.4" r="3.8" fill="url(#gO)" />
<circle cx="205.6" cy="40.2" r="4.4" fill="url(#gO)" />
<circle cx="195.4" cy="34.2" r="7.4" fill="url(#gIn)" />
<circle cx="186.7" cy="39" r="5.9" fill="url(#gO)" />
<circle cx="198.3" cy="40.8" r="6" fill="url(#gO)" />
<circle cx="210.2" cy="45.7" r="5" fill="url(#gIn)" />
</g>
<line x1="203.2" y1="25.1" x2="202.05" y2="26.65" stroke="#e01818" stroke-width="1.05" stroke-linecap="round"/>
<line x1="202.05" y1="26.65" x2="200.9" y2="28.2" stroke="#e03838" stroke-width="1.05" stroke-linecap="round"/>
<line x1="186.9" y1="23.5" x2="189.15" y2="25.85" stroke="#e01818" stroke-width="1.05" stroke-linecap="round"/>
<line x1="189.15" y1="25.85" x2="191.4" y2="28.2" stroke="#e03838" stroke-width="1.05" stroke-linecap="round"/>
<line x1="188.9" y1="10.7" x2="189.75" y2="13.95" stroke="#e01818" stroke-width="1" stroke-linecap="round"/>
<line x1="189.75" y1="13.95" x2="190.6" y2="17.2" stroke="#808080" stroke-width="1" stroke-linecap="round"/>
<line x1="190.6" y1="17.2" x2="194.9" y2="17.65" stroke="#808080" stroke-width="1" stroke-linecap="round"/>
<line x1="194.9" y1="17.65" x2="199.2" y2="18.1" stroke="#2020e0" stroke-width="1" stroke-linecap="round"/>
<line x1="199.2" y1="18.1" x2="201.2" y2="21.6" stroke="#2020e0" stroke-width="1" stroke-linecap="round"/>
<line x1="201.2" y1="21.6" x2="203.2" y2="25.1" stroke="#e01818" stroke-width="1" stroke-linecap="round"/>
<line x1="190.6" y1="17.2" x2="188.75" y2="20.35" stroke="#808080" stroke-width="1" stroke-linecap="round"/>
<line x1="188.75" y1="20.35" x2="186.9" y2="23.5" stroke="#e01818" stroke-width="1" stroke-linecap="round"/>
<circle cx="188.9" cy="10.7" r="2.8" fill="url(#gO)" />
<circle cx="190.6" cy="17.2" r="2.6" fill="url(#gC)" />
<circle cx="199.2" cy="18.1" r="2.6" fill="url(#gN)" />
<circle cx="203.2" cy="25.1" r="2.8" fill="url(#gO)" />
<circle cx="186.9" cy="23.5" r="2.8" fill="url(#gO)" />
<clipPath id="cl7"><rect x="217" y="21.4" width="33" height="27"/></clipPath><g clip-path="url(#cl7)">
<rect x="217" y="39.4" width="33" height="9" fill="#efd6d6" stroke="none" stroke-width="1" />
<rect x="217" y="46.2" width="33" height="2.2" fill="#f4e2e2" stroke="none" stroke-width="1" />
<circle cx="229.6" cy="45.9" r="4.8" fill="url(#gIn)" />
<circle cx="248.3" cy="45.3" r="5.6" fill="url(#gIn)" />
<circle cx="245.7" cy="35.2" r="5.7" fill="url(#gS)" />
<circle cx="251.3" cy="38.4" r="3.8" fill="url(#gO)" />
<circle cx="244" cy="40.2" r="4.4" fill="url(#gO)" />
<circle cx="233.8" cy="34.2" r="7.4" fill="url(#gIn)" />
<circle cx="225.1" cy="39" r="5.9" fill="url(#gO)" />
<circle cx="236.7" cy="40.8" r="6" fill="url(#gO)" />
<circle cx="248.6" cy="45.7" r="5" fill="url(#gIn)" />
</g>
<line x1="224.3" y1="22.4" x2="227.05" y2="25.3" stroke="#e01818" stroke-width="1.05" stroke-linecap="round"/>
<line x1="227.05" y1="25.3" x2="229.8" y2="28.2" stroke="#e03838" stroke-width="1.05" stroke-linecap="round"/>
<line x1="240.4" y1="23.3" x2="239.85" y2="25.75" stroke="#e01818" stroke-width="1.05" stroke-linecap="round"/>
<line x1="239.85" y1="25.75" x2="239.3" y2="28.2" stroke="#e03838" stroke-width="1.05" stroke-linecap="round"/>
<line x1="226.1" y1="8.6" x2="226.95" y2="12.3" stroke="#e01818" stroke-width="1" stroke-linecap="round"/>
<line x1="226.95" y1="12.3" x2="227.8" y2="16" stroke="#808080" stroke-width="1" stroke-linecap="round"/>
<line x1="227.8" y1="16" x2="232.2" y2="16.4" stroke="#808080" stroke-width="1" stroke-linecap="round"/>
<line x1="232.2" y1="16.4" x2="236.6" y2="16.8" stroke="#2020e0" stroke-width="1" stroke-linecap="round"/>
<line x1="236.6" y1="16.8" x2="238.6" y2="14.45" stroke="#2020e0" stroke-width="1" stroke-linecap="round"/>
<line x1="238.6" y1="14.45" x2="240.6" y2="12.1" stroke="#d8d8d8" stroke-width="1" stroke-linecap="round"/>
<line x1="227.8" y1="16" x2="226.05" y2="19.2" stroke="#808080" stroke-width="1" stroke-linecap="round"/>
<line x1="226.05" y1="19.2" x2="224.3" y2="22.4" stroke="#e01818" stroke-width="1" stroke-linecap="round"/>
<line x1="236.6" y1="16.8" x2="238.5" y2="20.05" stroke="#2020e0" stroke-width="1" stroke-linecap="round"/>
<line x1="238.5" y1="20.05" x2="240.4" y2="23.3" stroke="#e01818" stroke-width="1" stroke-linecap="round"/>
<circle cx="226.1" cy="8.6" r="2.8" fill="url(#gO)" />
<circle cx="227.8" cy="16" r="2.6" fill="url(#gC)" />
<circle cx="236.6" cy="16.8" r="2.6" fill="url(#gN)" />
<circle cx="240.6" cy="12.1" r="2.3" fill="url(#gH)" />
<circle cx="224.3" cy="22.4" r="2.8" fill="url(#gO)" />
<circle cx="240.4" cy="23.3" r="2.8" fill="url(#gO)" />
<clipPath id="cl8"><rect x="252" y="21.4" width="33.3" height="27"/></clipPath><g clip-path="url(#cl8)">
<rect x="252" y="39.4" width="33.3" height="9" fill="#efd6d6" stroke="none" stroke-width="1" />
<rect x="252" y="46.2" width="33.3" height="2.2" fill="#f4e2e2" stroke="none" stroke-width="1" />
<circle cx="264.6" cy="45.9" r="4.8" fill="url(#gIn)" />
<circle cx="283.3" cy="45.3" r="5.6" fill="url(#gIn)" />
<circle cx="280.7" cy="35.2" r="5.7" fill="url(#gS)" />
<circle cx="286.3" cy="38.4" r="3.8" fill="url(#gO)" />
<circle cx="279" cy="40.2" r="4.4" fill="url(#gO)" />
<circle cx="268.8" cy="34.2" r="7.4" fill="url(#gIn)" />
<circle cx="260.1" cy="39" r="5.9" fill="url(#gO)" />
<circle cx="271.7" cy="40.8" r="6" fill="url(#gO)" />
<circle cx="283.6" cy="45.7" r="5" fill="url(#gIn)" />
</g>
<line x1="262.8" y1="22.1" x2="264.3" y2="25.15" stroke="#e01818" stroke-width="1.05" stroke-linecap="round"/>
<line x1="264.3" y1="25.15" x2="265.8" y2="28.2" stroke="#e03838" stroke-width="1.05" stroke-linecap="round"/>
<line x1="262.8" y1="8.6" x2="264.4" y2="11.85" stroke="#e01818" stroke-width="1" stroke-linecap="round"/>
<line x1="264.4" y1="11.85" x2="266" y2="15.1" stroke="#808080" stroke-width="1" stroke-linecap="round"/>
<line x1="266" y1="15.1" x2="270.1" y2="14.85" stroke="#808080" stroke-width="1" stroke-linecap="round"/>
<line x1="270.1" y1="14.85" x2="274.2" y2="14.6" stroke="#2020e0" stroke-width="1" stroke-linecap="round"/>
<line x1="274.2" y1="14.6" x2="275.8" y2="11.1" stroke="#2020e0" stroke-width="1" stroke-linecap="round"/>
<line x1="275.8" y1="11.1" x2="277.4" y2="7.6" stroke="#e01818" stroke-width="1" stroke-linecap="round"/>
<line x1="277.4" y1="7.6" x2="274.65" y2="5.85" stroke="#e01818" stroke-width="1" stroke-linecap="round"/>
<line x1="274.65" y1="5.85" x2="271.9" y2="4.1" stroke="#d8d8d8" stroke-width="1" stroke-linecap="round"/>
<line x1="274.2" y1="14.6" x2="275.95" y2="16.6" stroke="#2020e0" stroke-width="1" stroke-linecap="round"/>
<line x1="275.95" y1="16.6" x2="277.7" y2="18.6" stroke="#d8d8d8" stroke-width="1" stroke-linecap="round"/>
<line x1="266" y1="15.1" x2="264.4" y2="18.6" stroke="#808080" stroke-width="1" stroke-linecap="round"/>
<line x1="264.4" y1="18.6" x2="262.8" y2="22.1" stroke="#e01818" stroke-width="1" stroke-linecap="round"/>
<circle cx="262.8" cy="8.6" r="2.8" fill="url(#gO)" />
<circle cx="266" cy="15.1" r="2.6" fill="url(#gC)" />
<circle cx="274.2" cy="14.6" r="2.6" fill="url(#gN)" />
<circle cx="277.4" cy="7.6" r="2.8" fill="url(#gO)" />
<circle cx="271.9" cy="4.1" r="2.3" fill="url(#gH)" />
<circle cx="277.7" cy="18.6" r="2.3" fill="url(#gH)" />
<circle cx="262.8" cy="22.1" r="2.8" fill="url(#gO)" />
<clipPath id="cl9"><rect x="288" y="21.4" width="33" height="27"/></clipPath><g clip-path="url(#cl9)">
<rect x="288" y="39.4" width="33" height="9" fill="#efd6d6" stroke="none" stroke-width="1" />
<rect x="288" y="46.2" width="33" height="2.2" fill="#f4e2e2" stroke="none" stroke-width="1" />
<circle cx="300.6" cy="45.9" r="4.8" fill="url(#gIn)" />
<circle cx="319.3" cy="45.3" r="5.6" fill="url(#gIn)" />
<circle cx="316.7" cy="35.2" r="5.7" fill="url(#gS)" />
<circle cx="322.3" cy="38.4" r="3.8" fill="url(#gO)" />
<circle cx="315" cy="40.2" r="4.4" fill="url(#gO)" />
<circle cx="304.8" cy="34.2" r="7.4" fill="url(#gIn)" />
<circle cx="296.1" cy="39" r="5.9" fill="url(#gO)" />
<circle cx="307.7" cy="40.8" r="6" fill="url(#gO)" />
<circle cx="319.6" cy="45.7" r="5" fill="url(#gIn)" />
</g>
<line x1="297.5" y1="22.1" x2="299.65" y2="25.15" stroke="#e01818" stroke-width="1.05" stroke-linecap="round"/>
<line x1="299.65" y1="25.15" x2="301.8" y2="28.2" stroke="#e03838" stroke-width="1.05" stroke-linecap="round"/>
<line x1="309.6" y1="24.7" x2="309.2" y2="26.2" stroke="#2020e0" stroke-width="1.05" stroke-linecap="round"/>
<line x1="309.2" y1="26.2" x2="308.8" y2="27.7" stroke="#4040e0" stroke-width="1.05" stroke-linecap="round"/>
<line x1="304.9" y1="12.1" x2="304.45" y2="15.35" stroke="#e01818" stroke-width="1" stroke-linecap="round"/>
<line x1="304.45" y1="15.35" x2="304" y2="18.6" stroke="#808080" stroke-width="1" stroke-linecap="round"/>
<line x1="304" y1="18.6" x2="306.8" y2="21.65" stroke="#808080" stroke-width="1" stroke-linecap="round"/>
<line x1="306.8" y1="21.65" x2="309.6" y2="24.7" stroke="#2020e0" stroke-width="1" stroke-linecap="round"/>
<line x1="309.6" y1="24.7" x2="312.3" y2="23.65" stroke="#2020e0" stroke-width="1" stroke-linecap="round"/>
<line x1="312.3" y1="23.65" x2="315" y2="22.6" stroke="#d8d8d8" stroke-width="1" stroke-linecap="round"/>
<line x1="304" y1="18.6" x2="300.75" y2="20.35" stroke="#808080" stroke-width="1" stroke-linecap="round"/>
<line x1="300.75" y1="20.35" x2="297.5" y2="22.1" stroke="#e01818" stroke-width="1" stroke-linecap="round"/>
<circle cx="304.9" cy="12.1" r="2.8" fill="url(#gO)" />
<circle cx="304" cy="18.6" r="2.6" fill="url(#gC)" />
<circle cx="309.6" cy="24.7" r="2.6" fill="url(#gN)" />
<circle cx="315" cy="22.6" r="2.3" fill="url(#gH)" />
<circle cx="297.5" cy="22.1" r="2.8" fill="url(#gO)" />
<clipPath id="cl10"><rect x="323" y="21.4" width="33.3" height="27"/></clipPath><g clip-path="url(#cl10)">
<rect x="323" y="39.4" width="33.3" height="9" fill="#efd6d6" stroke="none" stroke-width="1" />
<rect x="323" y="46.2" width="33.3" height="2.2" fill="#f4e2e2" stroke="none" stroke-width="1" />
<circle cx="335.6" cy="45.9" r="4.8" fill="url(#gIn)" />
<circle cx="354.3" cy="45.3" r="5.6" fill="url(#gIn)" />
<circle cx="351.7" cy="35.2" r="5.7" fill="url(#gS)" />
<circle cx="357.3" cy="38.4" r="3.8" fill="url(#gO)" />
<circle cx="350" cy="40.2" r="4.4" fill="url(#gO)" />
<circle cx="339.8" cy="34.2" r="7.4" fill="url(#gIn)" />
<circle cx="331.1" cy="39" r="5.9" fill="url(#gO)" />
<circle cx="342.7" cy="40.8" r="6" fill="url(#gO)" />
<circle cx="354.6" cy="45.7" r="5" fill="url(#gIn)" />
</g>
<line x1="335.8" y1="22.8" x2="337.05" y2="25.25" stroke="#e01818" stroke-width="1.05" stroke-linecap="round"/>
<line x1="337.05" y1="25.25" x2="338.3" y2="27.7" stroke="#e03838" stroke-width="1.05" stroke-linecap="round"/>
<line x1="337.1" y1="10.1" x2="338.55" y2="13.5" stroke="#e01818" stroke-width="1" stroke-linecap="round"/>
<line x1="338.55" y1="13.5" x2="340" y2="16.9" stroke="#808080" stroke-width="1" stroke-linecap="round"/>
<line x1="340" y1="16.9" x2="344.15" y2="17.1" stroke="#808080" stroke-width="1" stroke-linecap="round"/>
<line x1="344.15" y1="17.1" x2="348.3" y2="17.3" stroke="#2020e0" stroke-width="1" stroke-linecap="round"/>
<line x1="348.3" y1="17.3" x2="350.05" y2="15" stroke="#2020e0" stroke-width="1" stroke-linecap="round"/>
<line x1="350.05" y1="15" x2="351.8" y2="12.7" stroke="#d8d8d8" stroke-width="1" stroke-linecap="round"/>
<line x1="348.3" y1="17.3" x2="349.75" y2="19.6" stroke="#2020e0" stroke-width="1" stroke-linecap="round"/>
<line x1="349.75" y1="19.6" x2="351.2" y2="21.9" stroke="#d8d8d8" stroke-width="1" stroke-linecap="round"/>
<line x1="340" y1="16.9" x2="337.9" y2="19.85" stroke="#808080" stroke-width="1" stroke-linecap="round"/>
<line x1="337.9" y1="19.85" x2="335.8" y2="22.8" stroke="#e01818" stroke-width="1" stroke-linecap="round"/>
<circle cx="337.1" cy="10.1" r="2.8" fill="url(#gO)" />
<circle cx="340" cy="16.9" r="2.6" fill="url(#gC)" />
<circle cx="348.3" cy="17.3" r="2.6" fill="url(#gN)" />
<circle cx="351.8" cy="12.7" r="2.3" fill="url(#gH)" />
<circle cx="351.2" cy="21.9" r="2.3" fill="url(#gH)" />
<circle cx="335.8" cy="22.8" r="2.8" fill="url(#gO)" />
<clipPath id="cl11"><rect x="358.4" y="21.4" width="33.1" height="27"/></clipPath><g clip-path="url(#cl11)">
<rect x="358.4" y="39.4" width="33.1" height="9" fill="#efd6d6" stroke="none" stroke-width="1" />
<rect x="358.4" y="46.2" width="33.1" height="2.2" fill="#f4e2e2" stroke="none" stroke-width="1" />
<circle cx="371" cy="45.9" r="4.8" fill="url(#gIn)" />
<circle cx="389.7" cy="45.3" r="5.6" fill="url(#gIn)" />
<circle cx="387.1" cy="35.2" r="5.7" fill="url(#gS)" />
<circle cx="392.7" cy="38.4" r="3.8" fill="url(#gO)" />
<circle cx="385.4" cy="40.2" r="4.4" fill="url(#gO)" />
<circle cx="375.2" cy="34.2" r="7.4" fill="url(#gIn)" />
<circle cx="366.5" cy="39" r="5.9" fill="url(#gO)" />
<circle cx="378.1" cy="40.8" r="6" fill="url(#gO)" />
<circle cx="390" cy="45.7" r="5" fill="url(#gIn)" />
</g>
<line x1="371.3" y1="21" x2="372.5" y2="24.35" stroke="#e01818" stroke-width="1.05" stroke-linecap="round"/>
<line x1="372.5" y1="24.35" x2="373.7" y2="27.7" stroke="#e03838" stroke-width="1.05" stroke-linecap="round"/>
<line x1="376.6" y1="3.9" x2="374.6" y2="6.1" stroke="#d8d8d8" stroke-width="1" stroke-linecap="round"/>
<line x1="374.6" y1="6.1" x2="372.6" y2="8.3" stroke="#e01818" stroke-width="1" stroke-linecap="round"/>
<line x1="372.6" y1="8.3" x2="374.25" y2="11.95" stroke="#e01818" stroke-width="1" stroke-linecap="round"/>
<line x1="374.25" y1="11.95" x2="375.9" y2="15.6" stroke="#808080" stroke-width="1" stroke-linecap="round"/>
<line x1="375.9" y1="15.6" x2="379.85" y2="15.8" stroke="#808080" stroke-width="1" stroke-linecap="round"/>
<line x1="379.85" y1="15.8" x2="383.8" y2="16" stroke="#2020e0" stroke-width="1" stroke-linecap="round"/>
<line x1="383.8" y1="16" x2="385.65" y2="13.35" stroke="#2020e0" stroke-width="1" stroke-linecap="round"/>
<line x1="385.65" y1="13.35" x2="387.5" y2="10.7" stroke="#d8d8d8" stroke-width="1" stroke-linecap="round"/>
<line x1="383.8" y1="16" x2="385.1" y2="18.6" stroke="#2020e0" stroke-width="1" stroke-linecap="round"/>
<line x1="385.1" y1="18.6" x2="386.4" y2="21.2" stroke="#d8d8d8" stroke-width="1" stroke-linecap="round"/>
<line x1="375.9" y1="15.6" x2="373.6" y2="18.3" stroke="#808080" stroke-width="1" stroke-linecap="round"/>
<line x1="373.6" y1="18.3" x2="371.3" y2="21" stroke="#e01818" stroke-width="1" stroke-linecap="round"/>
<circle cx="376.6" cy="3.9" r="2.3" fill="url(#gH)" />
<circle cx="372.6" cy="8.3" r="2.8" fill="url(#gO)" />
<circle cx="375.9" cy="15.6" r="2.6" fill="url(#gC)" />
<circle cx="383.8" cy="16" r="2.6" fill="url(#gN)" />
<circle cx="387.5" cy="10.7" r="2.3" fill="url(#gH)" />
<circle cx="386.4" cy="21.2" r="2.3" fill="url(#gH)" />
<circle cx="371.3" cy="21" r="2.8" fill="url(#gO)" />
<clipPath id="cl12"><rect x="393.2" y="21.4" width="36.8" height="27"/></clipPath><g clip-path="url(#cl12)">
<rect x="393.2" y="39.4" width="36.8" height="9" fill="#efd6d6" stroke="none" stroke-width="1" />
<rect x="393.2" y="46.2" width="36.8" height="2.2" fill="#f4e2e2" stroke="none" stroke-width="1" />
<circle cx="405.8" cy="45.9" r="4.8" fill="url(#gIn)" />
<circle cx="424.5" cy="45.3" r="5.6" fill="url(#gIn)" />
<circle cx="421.9" cy="35.2" r="5.7" fill="url(#gS)" />
<circle cx="427.5" cy="38.4" r="3.8" fill="url(#gO)" />
<circle cx="420.2" cy="40.2" r="4.4" fill="url(#gO)" />
<circle cx="410" cy="34.2" r="7.4" fill="url(#gIn)" />
<circle cx="401.3" cy="39" r="5.9" fill="url(#gO)" />
<circle cx="412.9" cy="40.8" r="6" fill="url(#gO)" />
<circle cx="424.8" cy="45.7" r="5" fill="url(#gIn)" />
</g>
<line x1="407.5" y1="18.6" x2="408.25" y2="23.15" stroke="#e01818" stroke-width="1.05" stroke-linecap="round"/>
<line x1="408.25" y1="23.15" x2="409" y2="27.7" stroke="#e03838" stroke-width="1.05" stroke-linecap="round"/>
<line x1="407.5" y1="18.6" x2="410.15" y2="16.25" stroke="#e01818" stroke-width="1" stroke-linecap="round"/>
<line x1="410.15" y1="16.25" x2="412.8" y2="13.9" stroke="#808080" stroke-width="1" stroke-linecap="round"/>
<line x1="412.8" y1="13.9" x2="416.75" y2="14.25" stroke="#808080" stroke-width="1" stroke-linecap="round"/>
<line x1="416.75" y1="14.25" x2="420.7" y2="14.6" stroke="#2020e0" stroke-width="1" stroke-linecap="round"/>
<line x1="420.7" y1="14.6" x2="422.6" y2="11.8" stroke="#2020e0" stroke-width="1" stroke-linecap="round"/>
<line x1="422.6" y1="11.8" x2="424.5" y2="9" stroke="#d8d8d8" stroke-width="1" stroke-linecap="round"/>
<line x1="420.7" y1="14.6" x2="421.9" y2="17.45" stroke="#2020e0" stroke-width="1" stroke-linecap="round"/>
<line x1="421.9" y1="17.45" x2="423.1" y2="20.3" stroke="#d8d8d8" stroke-width="1" stroke-linecap="round"/>
<circle cx="407.5" cy="18.6" r="2.8" fill="url(#gO)" />
<circle cx="412.8" cy="13.9" r="2.6" fill="url(#gC)" />
<circle cx="420.7" cy="14.6" r="2.6" fill="url(#gN)" />
<circle cx="424.5" cy="9" r="2.3" fill="url(#gH)" />
<circle cx="423.1" cy="20.3" r="2.3" fill="url(#gH)" />
<clipPath id="cl13"><rect x="431.7" y="21.4" width="36.3" height="27"/></clipPath><g clip-path="url(#cl13)">
<rect x="431.7" y="39.4" width="36.3" height="9" fill="#efd6d6" stroke="none" stroke-width="1" />
<rect x="431.7" y="46.2" width="36.3" height="2.2" fill="#f4e2e2" stroke="none" stroke-width="1" />
<circle cx="444.3" cy="45.9" r="4.8" fill="url(#gIn)" />
<circle cx="463" cy="45.3" r="5.6" fill="url(#gIn)" />
<circle cx="460.4" cy="35.2" r="5.7" fill="url(#gS)" />
<circle cx="466" cy="38.4" r="3.8" fill="url(#gO)" />
<circle cx="458.7" cy="40.2" r="4.4" fill="url(#gO)" />
<circle cx="448.5" cy="34.2" r="7.4" fill="url(#gIn)" />
<circle cx="439.8" cy="39" r="5.9" fill="url(#gO)" />
<circle cx="451.4" cy="40.8" r="6" fill="url(#gO)" />
<circle cx="463.3" cy="45.7" r="5" fill="url(#gIn)" />
</g>
<line x1="447.2" y1="20.9" x2="447.35" y2="24.3" stroke="#e01818" stroke-width="1.05" stroke-linecap="round"/>
<line x1="447.35" y1="24.3" x2="447.5" y2="27.7" stroke="#e03838" stroke-width="1.05" stroke-linecap="round"/>
<line x1="449" y1="3.7" x2="447.05" y2="6.5" stroke="#e01818" stroke-width="1" stroke-linecap="round"/>
<line x1="447.05" y1="6.5" x2="445.1" y2="9.3" stroke="#2020e0" stroke-width="1" stroke-linecap="round"/>
<line x1="445.1" y1="9.3" x2="441.6" y2="10" stroke="#2020e0" stroke-width="1" stroke-linecap="round"/>
<line x1="441.6" y1="10" x2="438.1" y2="10.7" stroke="#e01818" stroke-width="1" stroke-linecap="round"/>
<line x1="445.1" y1="9.3" x2="447.9" y2="12.45" stroke="#2020e0" stroke-width="1" stroke-linecap="round"/>
<line x1="447.9" y1="12.45" x2="450.7" y2="15.6" stroke="#808080" stroke-width="1" stroke-linecap="round"/>
<line x1="450.7" y1="15.6" x2="454.65" y2="14.75" stroke="#808080" stroke-width="1" stroke-linecap="round"/>
<line x1="454.65" y1="14.75" x2="458.6" y2="13.9" stroke="#2020e0" stroke-width="1" stroke-linecap="round"/>
<line x1="458.6" y1="13.9" x2="459.3" y2="11.25" stroke="#2020e0" stroke-width="1" stroke-linecap="round"/>
<line x1="459.3" y1="11.25" x2="460" y2="8.6" stroke="#d8d8d8" stroke-width="1" stroke-linecap="round"/>
<line x1="458.6" y1="13.9" x2="460.55" y2="15.8" stroke="#2020e0" stroke-width="1" stroke-linecap="round"/>
<line x1="460.55" y1="15.8" x2="462.5" y2="17.7" stroke="#d8d8d8" stroke-width="1" stroke-linecap="round"/>
<line x1="450.7" y1="15.6" x2="448.95" y2="18.25" stroke="#808080" stroke-width="1" stroke-linecap="round"/>
<line x1="448.95" y1="18.25" x2="447.2" y2="20.9" stroke="#e01818" stroke-width="1" stroke-linecap="round"/>
<circle cx="449" cy="3.7" r="2.8" fill="url(#gO)" />
<circle cx="445.1" cy="9.3" r="2.6" fill="url(#gN)" />
<circle cx="438.1" cy="10.7" r="2.8" fill="url(#gO)" />
<circle cx="450.7" cy="15.6" r="2.6" fill="url(#gC)" />
<circle cx="458.6" cy="13.9" r="2.6" fill="url(#gN)" />
<circle cx="460" cy="8.6" r="2.3" fill="url(#gH)" />
<circle cx="462.5" cy="17.7" r="2.3" fill="url(#gH)" />
<circle cx="447.2" cy="20.9" r="2.8" fill="url(#gO)" />
<clipPath id="cl14"><rect x="469.7" y="21.4" width="33.3" height="27"/></clipPath><g clip-path="url(#cl14)">
<rect x="469.7" y="39.4" width="33.3" height="9" fill="#efd6d6" stroke="none" stroke-width="1" />
<rect x="469.7" y="46.2" width="33.3" height="2.2" fill="#f4e2e2" stroke="none" stroke-width="1" />
<circle cx="482.3" cy="45.9" r="4.8" fill="url(#gIn)" />
<circle cx="501" cy="45.3" r="5.6" fill="url(#gIn)" />
<circle cx="498.4" cy="35.2" r="5.7" fill="url(#gS)" />
<circle cx="504" cy="38.4" r="3.8" fill="url(#gO)" />
<circle cx="496.7" cy="40.2" r="4.4" fill="url(#gO)" />
<circle cx="486.5" cy="34.2" r="7.4" fill="url(#gIn)" />
<circle cx="477.8" cy="39" r="5.9" fill="url(#gO)" />
<circle cx="489.4" cy="40.8" r="6" fill="url(#gO)" />
<circle cx="501.3" cy="45.7" r="5" fill="url(#gIn)" />
</g>
<line x1="483.5" y1="22.6" x2="484" y2="25.15" stroke="#e01818" stroke-width="1.05" stroke-linecap="round"/>
<line x1="484" y1="25.15" x2="484.5" y2="27.7" stroke="#e03838" stroke-width="1.05" stroke-linecap="round"/>
<line x1="484.9" y1="4.6" x2="483.85" y2="7.5" stroke="#d8d8d8" stroke-width="1" stroke-linecap="round"/>
<line x1="483.85" y1="7.5" x2="482.8" y2="10.4" stroke="#2020e0" stroke-width="1" stroke-linecap="round"/>
<line x1="482.8" y1="10.4" x2="479.9" y2="10.75" stroke="#2020e0" stroke-width="1" stroke-linecap="round"/>
<line x1="479.9" y1="10.75" x2="477" y2="11.1" stroke="#d8d8d8" stroke-width="1" stroke-linecap="round"/>
<line x1="482.8" y1="10.4" x2="484.95" y2="13.6" stroke="#2020e0" stroke-width="1" stroke-linecap="round"/>
<line x1="484.95" y1="13.6" x2="487.1" y2="16.8" stroke="#808080" stroke-width="1" stroke-linecap="round"/>
<line x1="487.1" y1="16.8" x2="490.8" y2="16.55" stroke="#808080" stroke-width="1" stroke-linecap="round"/>
<line x1="490.8" y1="16.55" x2="494.5" y2="16.3" stroke="#2020e0" stroke-width="1" stroke-linecap="round"/>
<line x1="494.5" y1="16.3" x2="495.8" y2="14.2" stroke="#2020e0" stroke-width="1" stroke-linecap="round"/>
<line x1="495.8" y1="14.2" x2="497.1" y2="12.1" stroke="#d8d8d8" stroke-width="1" stroke-linecap="round"/>
<line x1="494.5" y1="16.3" x2="496.25" y2="18.75" stroke="#2020e0" stroke-width="1" stroke-linecap="round"/>
<line x1="496.25" y1="18.75" x2="498" y2="21.2" stroke="#d8d8d8" stroke-width="1" stroke-linecap="round"/>
<line x1="487.1" y1="16.8" x2="485.3" y2="19.7" stroke="#808080" stroke-width="1" stroke-linecap="round"/>
<line x1="485.3" y1="19.7" x2="483.5" y2="22.6" stroke="#e01818" stroke-width="1" stroke-linecap="round"/>
<circle cx="484.9" cy="4.6" r="2.3" fill="url(#gH)" />
<circle cx="482.8" cy="10.4" r="2.6" fill="url(#gN)" />
<circle cx="477" cy="11.1" r="2.3" fill="url(#gH)" />
<circle cx="487.1" cy="16.8" r="2.6" fill="url(#gC)" />
<circle cx="494.5" cy="16.3" r="2.6" fill="url(#gN)" />
<circle cx="497.1" cy="12.1" r="2.3" fill="url(#gH)" />
<circle cx="498" cy="21.2" r="2.3" fill="url(#gH)" />
<circle cx="483.5" cy="22.6" r="2.8" fill="url(#gO)" />
<clipPath id="cl15"><rect x="7" y="262.8" width="31.9" height="27"/></clipPath><g clip-path="url(#cl15)">
<rect x="7" y="280.8" width="31.9" height="9" fill="#efd6d6" stroke="none" stroke-width="1" />
<rect x="7" y="287.6" width="31.9" height="2.2" fill="#f4e2e2" stroke="none" stroke-width="1" />
<circle cx="16" cy="286.7" r="5" fill="url(#gIn)" />
<circle cx="34.2" cy="277.1" r="6.4" fill="url(#gSe)" />
<circle cx="39.5" cy="280.6" r="4.3" fill="url(#gO)" />
<circle cx="30.2" cy="281.7" r="4.2" fill="url(#gO)" />
<circle cx="20.6" cy="275.8" r="7.1" fill="url(#gIn)" />
<circle cx="12.8" cy="281" r="5.8" fill="url(#gO)" />
<circle cx="24" cy="283.1" r="5.6" fill="url(#gO)" />
<circle cx="35" cy="287" r="5.8" fill="url(#gIn)" />
</g>
<clipPath id="cl16"><rect x="41.2" y="262.8" width="34.5" height="27"/></clipPath><g clip-path="url(#cl16)">
<rect x="41.2" y="280.8" width="34.5" height="9" fill="#efd6d6" stroke="none" stroke-width="1" />
<rect x="41.2" y="287.6" width="34.5" height="2.2" fill="#f4e2e2" stroke="none" stroke-width="1" />
<circle cx="50.2" cy="286.7" r="5" fill="url(#gIn)" />
<circle cx="68.4" cy="277.1" r="6.4" fill="url(#gSe)" />
<circle cx="73.7" cy="280.6" r="4.3" fill="url(#gO)" />
<circle cx="64.4" cy="281.7" r="4.2" fill="url(#gO)" />
<circle cx="54.8" cy="275.8" r="7.1" fill="url(#gIn)" />
<circle cx="47" cy="281" r="5.8" fill="url(#gO)" />
<circle cx="58.2" cy="283.1" r="5.6" fill="url(#gO)" />
<circle cx="69.2" cy="287" r="5.8" fill="url(#gIn)" />
</g>
<line x1="52.5" y1="263.5" x2="52.4" y2="266.55" stroke="#e01818" stroke-width="1.05" stroke-linecap="round"/>
<line x1="52.4" y1="266.55" x2="52.3" y2="269.6" stroke="#e03838" stroke-width="1.05" stroke-linecap="round"/>
<line x1="60.9" y1="267" x2="60.35" y2="268.55" stroke="#e01818" stroke-width="1.05" stroke-linecap="round"/>
<line x1="60.35" y1="268.55" x2="59.8" y2="270.1" stroke="#e03838" stroke-width="1.05" stroke-linecap="round"/>
<line x1="58.5" y1="255" x2="57.9" y2="258.2" stroke="#e01818" stroke-width="1" stroke-linecap="round"/>
<line x1="57.9" y1="258.2" x2="57.3" y2="261.4" stroke="#2020e0" stroke-width="1" stroke-linecap="round"/>
<line x1="57.3" y1="261.4" x2="54.9" y2="262.45" stroke="#2020e0" stroke-width="1" stroke-linecap="round"/>
<line x1="54.9" y1="262.45" x2="52.5" y2="263.5" stroke="#e01818" stroke-width="1" stroke-linecap="round"/>
<line x1="57.3" y1="261.4" x2="59.1" y2="264.2" stroke="#2020e0" stroke-width="1" stroke-linecap="round"/>
<line x1="59.1" y1="264.2" x2="60.9" y2="267" stroke="#e01818" stroke-width="1" stroke-linecap="round"/>
<circle cx="58.5" cy="255" r="2.8" fill="url(#gO)" />
<circle cx="57.3" cy="261.4" r="2.6" fill="url(#gN)" />
<circle cx="52.5" cy="263.5" r="2.8" fill="url(#gO)" />
<circle cx="60.9" cy="267" r="2.8" fill="url(#gO)" />
<clipPath id="cl17"><rect x="77" y="262.8" width="33" height="27"/></clipPath><g clip-path="url(#cl17)">
<rect x="77" y="280.8" width="33" height="9" fill="#efd6d6" stroke="none" stroke-width="1" />
<rect x="77" y="287.6" width="33" height="2.2" fill="#f4e2e2" stroke="none" stroke-width="1" />
<circle cx="86" cy="286.7" r="5" fill="url(#gIn)" />
<circle cx="104.2" cy="277.1" r="6.4" fill="url(#gSe)" />
<circle cx="109.5" cy="280.6" r="4.3" fill="url(#gO)" />
<circle cx="100.2" cy="281.7" r="4.2" fill="url(#gO)" />
<circle cx="90.6" cy="275.8" r="7.1" fill="url(#gIn)" />
<circle cx="82.8" cy="281" r="5.8" fill="url(#gO)" />
<circle cx="94" cy="283.1" r="5.6" fill="url(#gO)" />
<circle cx="105" cy="287" r="5.8" fill="url(#gIn)" />
</g>
<line x1="87" y1="263.1" x2="87.3" y2="266.35" stroke="#e01818" stroke-width="1.05" stroke-linecap="round"/>
<line x1="87.3" y1="266.35" x2="87.6" y2="269.6" stroke="#e03838" stroke-width="1.05" stroke-linecap="round"/>
<line x1="95.7" y1="266.4" x2="95.65" y2="268.25" stroke="#e01818" stroke-width="1.05" stroke-linecap="round"/>
<line x1="95.65" y1="268.25" x2="95.6" y2="270.1" stroke="#e03838" stroke-width="1.05" stroke-linecap="round"/>
<line x1="92.2" y1="261.1" x2="89.6" y2="262.1" stroke="#2020e0" stroke-width="1" stroke-linecap="round"/>
<line x1="89.6" y1="262.1" x2="87" y2="263.1" stroke="#e01818" stroke-width="1" stroke-linecap="round"/>
<line x1="92.2" y1="261.1" x2="93.95" y2="263.75" stroke="#2020e0" stroke-width="1" stroke-linecap="round"/>
<line x1="93.95" y1="263.75" x2="95.7" y2="266.4" stroke="#e01818" stroke-width="1" stroke-linecap="round"/>
<circle cx="92.2" cy="261.1" r="2.6" fill="url(#gN)" />
<circle cx="87" cy="263.1" r="2.8" fill="url(#gO)" />
<circle cx="95.7" cy="266.4" r="2.8" fill="url(#gO)" />
<clipPath id="cl18"><rect x="110.9" y="262.8" width="35" height="27"/></clipPath><g clip-path="url(#cl18)">
<rect x="110.9" y="280.8" width="35" height="9" fill="#efd6d6" stroke="none" stroke-width="1" />
<rect x="110.9" y="287.6" width="35" height="2.2" fill="#f4e2e2" stroke="none" stroke-width="1" />
<circle cx="119.9" cy="286.7" r="5" fill="url(#gIn)" />
<circle cx="138.1" cy="277.1" r="6.4" fill="url(#gSe)" />
<circle cx="143.4" cy="280.6" r="4.3" fill="url(#gO)" />
<circle cx="134.1" cy="281.7" r="4.2" fill="url(#gO)" />
<circle cx="124.5" cy="275.8" r="7.1" fill="url(#gIn)" />
<circle cx="116.7" cy="281" r="5.8" fill="url(#gO)" />
<circle cx="127.9" cy="283.1" r="5.6" fill="url(#gO)" />
<circle cx="138.9" cy="287" r="5.8" fill="url(#gIn)" />
</g>
<line x1="131" y1="268.3" x2="129.75" y2="269.45" stroke="#e01818" stroke-width="1.05" stroke-linecap="round"/>
<line x1="129.75" y1="269.45" x2="128.5" y2="270.6" stroke="#e03838" stroke-width="1.05" stroke-linecap="round"/>
<line x1="127.5" y1="249.8" x2="129.25" y2="252.85" stroke="#e01818" stroke-width="1" stroke-linecap="round"/>
<line x1="129.25" y1="252.85" x2="131" y2="255.9" stroke="#2020e0" stroke-width="1" stroke-linecap="round"/>
<line x1="131" y1="255.9" x2="133.9" y2="256.85" stroke="#2020e0" stroke-width="1" stroke-linecap="round"/>
<line x1="133.9" y1="256.85" x2="136.8" y2="257.8" stroke="#e01818" stroke-width="1" stroke-linecap="round"/>
<line x1="131" y1="255.9" x2="128.6" y2="259.3" stroke="#2020e0" stroke-width="1" stroke-linecap="round"/>
<line x1="128.6" y1="259.3" x2="126.2" y2="262.7" stroke="#808080" stroke-width="1" stroke-linecap="round"/>
<line x1="126.2" y1="262.7" x2="123" y2="262.3" stroke="#808080" stroke-width="1" stroke-linecap="round"/>
<line x1="123" y1="262.3" x2="119.8" y2="261.9" stroke="#e01818" stroke-width="1" stroke-linecap="round"/>
<line x1="126.2" y1="262.7" x2="128.6" y2="265.5" stroke="#808080" stroke-width="1" stroke-linecap="round"/>
<line x1="128.6" y1="265.5" x2="131" y2="268.3" stroke="#e01818" stroke-width="1" stroke-linecap="round"/>
<circle cx="127.5" cy="249.8" r="2.8" fill="url(#gO)" />
<circle cx="131" cy="255.9" r="2.6" fill="url(#gN)" />
<circle cx="136.8" cy="257.8" r="2.8" fill="url(#gO)" />
<circle cx="126.2" cy="262.7" r="2.6" fill="url(#gC)" />
<circle cx="119.8" cy="261.9" r="2.8" fill="url(#gO)" />
<circle cx="131" cy="268.3" r="2.8" fill="url(#gO)" />
<clipPath id="cl19"><rect x="147" y="262.8" width="35" height="27"/></clipPath><g clip-path="url(#cl19)">
<rect x="147" y="280.8" width="35" height="9" fill="#efd6d6" stroke="none" stroke-width="1" />
<rect x="147" y="287.6" width="35" height="2.2" fill="#f4e2e2" stroke="none" stroke-width="1" />
<circle cx="156" cy="286.7" r="5" fill="url(#gIn)" />
<circle cx="174.2" cy="277.1" r="6.4" fill="url(#gSe)" />
<circle cx="179.5" cy="280.6" r="4.3" fill="url(#gO)" />
<circle cx="170.2" cy="281.7" r="4.2" fill="url(#gO)" />
<circle cx="160.6" cy="275.8" r="7.1" fill="url(#gIn)" />
<circle cx="152.8" cy="281" r="5.8" fill="url(#gO)" />
<circle cx="164" cy="283.1" r="5.6" fill="url(#gO)" />
<circle cx="175" cy="287" r="5.8" fill="url(#gIn)" />
</g>
<line x1="165.6" y1="267.4" x2="164.85" y2="269" stroke="#e01818" stroke-width="1.05" stroke-linecap="round"/>
<line x1="164.85" y1="269" x2="164.1" y2="270.6" stroke="#e03838" stroke-width="1.05" stroke-linecap="round"/>
<line x1="165.6" y1="245.4" x2="163.95" y2="247.25" stroke="#d8d8d8" stroke-width="1" stroke-linecap="round"/>
<line x1="163.95" y1="247.25" x2="162.3" y2="249.1" stroke="#e01818" stroke-width="1" stroke-linecap="round"/>
<line x1="162.3" y1="249.1" x2="163.7" y2="252.05" stroke="#e01818" stroke-width="1" stroke-linecap="round"/>
<line x1="163.7" y1="252.05" x2="165.1" y2="255" stroke="#2020e0" stroke-width="1" stroke-linecap="round"/>
<line x1="165.1" y1="255" x2="168.3" y2="256.25" stroke="#2020e0" stroke-width="1" stroke-linecap="round"/>
<line x1="168.3" y1="256.25" x2="171.5" y2="257.5" stroke="#e01818" stroke-width="1" stroke-linecap="round"/>
<line x1="165.1" y1="255" x2="162.9" y2="258.65" stroke="#2020e0" stroke-width="1" stroke-linecap="round"/>
<line x1="162.9" y1="258.65" x2="160.7" y2="262.3" stroke="#808080" stroke-width="1" stroke-linecap="round"/>
<line x1="160.7" y1="262.3" x2="157.45" y2="261.65" stroke="#808080" stroke-width="1" stroke-linecap="round"/>
<line x1="157.45" y1="261.65" x2="154.2" y2="261" stroke="#e01818" stroke-width="1" stroke-linecap="round"/>
<line x1="160.7" y1="262.3" x2="163.15" y2="264.85" stroke="#808080" stroke-width="1" stroke-linecap="round"/>
<line x1="163.15" y1="264.85" x2="165.6" y2="267.4" stroke="#e01818" stroke-width="1" stroke-linecap="round"/>
<circle cx="165.6" cy="245.4" r="2.3" fill="url(#gH)" />
<circle cx="162.3" cy="249.1" r="2.8" fill="url(#gO)" />
<circle cx="165.1" cy="255" r="2.6" fill="url(#gN)" />
<circle cx="171.5" cy="257.5" r="2.8" fill="url(#gO)" />
<circle cx="160.7" cy="262.3" r="2.6" fill="url(#gC)" />
<circle cx="154.2" cy="261" r="2.8" fill="url(#gO)" />
<circle cx="165.6" cy="267.4" r="2.8" fill="url(#gO)" />
<clipPath id="cl20"><rect x="183.6" y="262.8" width="34.3" height="27"/></clipPath><g clip-path="url(#cl20)">
<rect x="183.6" y="280.8" width="34.3" height="9" fill="#efd6d6" stroke="none" stroke-width="1" />
<rect x="183.6" y="287.6" width="34.3" height="2.2" fill="#f4e2e2" stroke="none" stroke-width="1" />
<circle cx="192.6" cy="286.7" r="5" fill="url(#gIn)" />
<circle cx="210.8" cy="277.1" r="6.4" fill="url(#gSe)" />
<circle cx="216.1" cy="280.6" r="4.3" fill="url(#gO)" />
<circle cx="206.8" cy="281.7" r="4.2" fill="url(#gO)" />
<circle cx="197.2" cy="275.8" r="7.1" fill="url(#gIn)" />
<circle cx="189.4" cy="281" r="5.8" fill="url(#gO)" />
<circle cx="200.6" cy="283.1" r="5.6" fill="url(#gO)" />
<circle cx="211.6" cy="287" r="5.8" fill="url(#gIn)" />
</g>
<line x1="190.8" y1="266.3" x2="192" y2="268.45" stroke="#e01818" stroke-width="1.05" stroke-linecap="round"/>
<line x1="192" y1="268.45" x2="193.2" y2="270.6" stroke="#e03838" stroke-width="1.05" stroke-linecap="round"/>
<line x1="205.2" y1="267.9" x2="204.2" y2="269.25" stroke="#e01818" stroke-width="1.05" stroke-linecap="round"/>
<line x1="204.2" y1="269.25" x2="203.2" y2="270.6" stroke="#e03838" stroke-width="1.05" stroke-linecap="round"/>
<line x1="192.4" y1="254.2" x2="193.45" y2="257.25" stroke="#e01818" stroke-width="1" stroke-linecap="round"/>
<line x1="193.45" y1="257.25" x2="194.5" y2="260.3" stroke="#808080" stroke-width="1" stroke-linecap="round"/>
<line x1="194.5" y1="260.3" x2="198.25" y2="261.3" stroke="#808080" stroke-width="1" stroke-linecap="round"/>
<line x1="198.25" y1="261.3" x2="202" y2="262.3" stroke="#2020e0" stroke-width="1" stroke-linecap="round"/>
<line x1="194.5" y1="260.3" x2="192.65" y2="263.3" stroke="#808080" stroke-width="1" stroke-linecap="round"/>
<line x1="192.65" y1="263.3" x2="190.8" y2="266.3" stroke="#e01818" stroke-width="1" stroke-linecap="round"/>
<line x1="202" y1="262.3" x2="203.6" y2="265.1" stroke="#2020e0" stroke-width="1" stroke-linecap="round"/>
<line x1="203.6" y1="265.1" x2="205.2" y2="267.9" stroke="#e01818" stroke-width="1" stroke-linecap="round"/>
<circle cx="192.4" cy="254.2" r="2.8" fill="url(#gO)" />
<circle cx="194.5" cy="260.3" r="2.6" fill="url(#gC)" />
<circle cx="202" cy="262.3" r="2.6" fill="url(#gN)" />
<circle cx="190.8" cy="266.3" r="2.8" fill="url(#gO)" />
<circle cx="205.2" cy="267.9" r="2.8" fill="url(#gO)" />
<clipPath id="cl21"><rect x="220.5" y="262.8" width="36.5" height="27"/></clipPath><g clip-path="url(#cl21)">
<rect x="220.5" y="280.8" width="36.5" height="9" fill="#efd6d6" stroke="none" stroke-width="1" />
<rect x="220.5" y="287.6" width="36.5" height="2.2" fill="#f4e2e2" stroke="none" stroke-width="1" />
<circle cx="229.5" cy="286.7" r="5" fill="url(#gIn)" />
<circle cx="247.7" cy="277.1" r="6.4" fill="url(#gSe)" />
<circle cx="253" cy="280.6" r="4.3" fill="url(#gO)" />
<circle cx="243.7" cy="281.7" r="4.2" fill="url(#gO)" />
<circle cx="234.1" cy="275.8" r="7.1" fill="url(#gIn)" />
<circle cx="226.3" cy="281" r="5.8" fill="url(#gO)" />
<circle cx="237.5" cy="283.1" r="5.6" fill="url(#gO)" />
<circle cx="248.5" cy="287" r="5.8" fill="url(#gIn)" />
</g>
<line x1="227.7" y1="263.1" x2="228.9" y2="266.6" stroke="#e01818" stroke-width="1.05" stroke-linecap="round"/>
<line x1="228.9" y1="266.6" x2="230.1" y2="270.1" stroke="#e03838" stroke-width="1.05" stroke-linecap="round"/>
<line x1="243.3" y1="265" x2="241.7" y2="267.55" stroke="#e01818" stroke-width="1.05" stroke-linecap="round"/>
<line x1="241.7" y1="267.55" x2="240.1" y2="270.1" stroke="#e03838" stroke-width="1.05" stroke-linecap="round"/>
<line x1="229.8" y1="250.2" x2="230.75" y2="253.85" stroke="#e01818" stroke-width="1" stroke-linecap="round"/>
<line x1="230.75" y1="253.85" x2="231.7" y2="257.5" stroke="#808080" stroke-width="1" stroke-linecap="round"/>
<line x1="231.7" y1="257.5" x2="235.7" y2="258.05" stroke="#808080" stroke-width="1" stroke-linecap="round"/>
<line x1="235.7" y1="258.05" x2="239.7" y2="258.6" stroke="#2020e0" stroke-width="1" stroke-linecap="round"/>
<line x1="239.7" y1="258.6" x2="241.95" y2="256.25" stroke="#2020e0" stroke-width="1" stroke-linecap="round"/>
<line x1="241.95" y1="256.25" x2="244.2" y2="253.9" stroke="#d8d8d8" stroke-width="1" stroke-linecap="round"/>
<line x1="231.7" y1="257.5" x2="229.7" y2="260.3" stroke="#808080" stroke-width="1" stroke-linecap="round"/>
<line x1="229.7" y1="260.3" x2="227.7" y2="263.1" stroke="#e01818" stroke-width="1" stroke-linecap="round"/>
<line x1="239.7" y1="258.6" x2="241.5" y2="261.8" stroke="#2020e0" stroke-width="1" stroke-linecap="round"/>
<line x1="241.5" y1="261.8" x2="243.3" y2="265" stroke="#e01818" stroke-width="1" stroke-linecap="round"/>
<circle cx="229.8" cy="250.2" r="2.8" fill="url(#gO)" />
<circle cx="231.7" cy="257.5" r="2.6" fill="url(#gC)" />
<circle cx="239.7" cy="258.6" r="2.6" fill="url(#gN)" />
<circle cx="244.2" cy="253.9" r="2.3" fill="url(#gH)" />
<circle cx="227.7" cy="263.1" r="2.8" fill="url(#gO)" />
<circle cx="243.3" cy="265" r="2.8" fill="url(#gO)" />
<clipPath id="cl22"><rect x="259" y="262.8" width="33.7" height="27"/></clipPath><g clip-path="url(#cl22)">
<rect x="259" y="280.8" width="33.7" height="9" fill="#efd6d6" stroke="none" stroke-width="1" />
<rect x="259" y="287.6" width="33.7" height="2.2" fill="#f4e2e2" stroke="none" stroke-width="1" />
<circle cx="268" cy="286.7" r="5" fill="url(#gIn)" />
<circle cx="286.2" cy="277.1" r="6.4" fill="url(#gSe)" />
<circle cx="291.5" cy="280.6" r="4.3" fill="url(#gO)" />
<circle cx="282.2" cy="281.7" r="4.2" fill="url(#gO)" />
<circle cx="272.6" cy="275.8" r="7.1" fill="url(#gIn)" />
<circle cx="264.8" cy="281" r="5.8" fill="url(#gO)" />
<circle cx="276" cy="283.1" r="5.6" fill="url(#gO)" />
<circle cx="287" cy="287" r="5.8" fill="url(#gIn)" />
</g>
<line x1="269.5" y1="264.7" x2="270.05" y2="267.15" stroke="#e01818" stroke-width="1.05" stroke-linecap="round"/>
<line x1="270.05" y1="267.15" x2="270.6" y2="269.6" stroke="#e03838" stroke-width="1.05" stroke-linecap="round"/>
<line x1="274" y1="255" x2="274.3" y2="258.5" stroke="#e01818" stroke-width="1" stroke-linecap="round"/>
<line x1="274.3" y1="258.5" x2="274.6" y2="262" stroke="#808080" stroke-width="1" stroke-linecap="round"/>
<line x1="274.6" y1="262" x2="277.5" y2="264" stroke="#808080" stroke-width="1" stroke-linecap="round"/>
<line x1="277.5" y1="264" x2="280.4" y2="266" stroke="#2020e0" stroke-width="1" stroke-linecap="round"/>
<line x1="280.4" y1="266" x2="282.95" y2="264.15" stroke="#2020e0" stroke-width="1" stroke-linecap="round"/>
<line x1="282.95" y1="264.15" x2="285.5" y2="262.3" stroke="#e01818" stroke-width="1" stroke-linecap="round"/>
<line x1="285.5" y1="262.3" x2="284.3" y2="259.7" stroke="#e01818" stroke-width="1" stroke-linecap="round"/>
<line x1="284.3" y1="259.7" x2="283.1" y2="257.1" stroke="#d8d8d8" stroke-width="1" stroke-linecap="round"/>
<line x1="280.4" y1="266" x2="282.15" y2="266.95" stroke="#2020e0" stroke-width="1" stroke-linecap="round"/>
<line x1="282.15" y1="266.95" x2="283.9" y2="267.9" stroke="#d8d8d8" stroke-width="1" stroke-linecap="round"/>
<line x1="274.6" y1="262" x2="272.05" y2="263.35" stroke="#808080" stroke-width="1" stroke-linecap="round"/>
<line x1="272.05" y1="263.35" x2="269.5" y2="264.7" stroke="#e01818" stroke-width="1" stroke-linecap="round"/>
<circle cx="274" cy="255" r="2.8" fill="url(#gO)" />
<circle cx="274.6" cy="262" r="2.6" fill="url(#gC)" />
<circle cx="283.1" cy="257.1" r="2.3" fill="url(#gH)" />
<circle cx="285.5" cy="262.3" r="2.8" fill="url(#gO)" />
<circle cx="280.4" cy="266" r="2.6" fill="url(#gN)" />
<circle cx="283.9" cy="267.9" r="2.3" fill="url(#gH)" />
<circle cx="269.5" cy="264.7" r="2.8" fill="url(#gO)" />
<clipPath id="cl23"><rect x="294.4" y="262.8" width="35" height="27"/></clipPath><g clip-path="url(#cl23)">
<rect x="294.4" y="280.8" width="35" height="9" fill="#efd6d6" stroke="none" stroke-width="1" />
<rect x="294.4" y="287.6" width="35" height="2.2" fill="#f4e2e2" stroke="none" stroke-width="1" />
<circle cx="303.4" cy="286.7" r="5" fill="url(#gIn)" />
<circle cx="321.6" cy="277.1" r="6.4" fill="url(#gSe)" />
<circle cx="326.9" cy="280.6" r="4.3" fill="url(#gO)" />
<circle cx="317.6" cy="281.7" r="4.2" fill="url(#gO)" />
<circle cx="308" cy="275.8" r="7.1" fill="url(#gIn)" />
<circle cx="300.2" cy="281" r="5.8" fill="url(#gO)" />
<circle cx="311.4" cy="283.1" r="5.6" fill="url(#gO)" />
<circle cx="322.4" cy="287" r="5.8" fill="url(#gIn)" />
</g>
<line x1="306.7" y1="264.2" x2="306.85" y2="266.9" stroke="#e01818" stroke-width="1.05" stroke-linecap="round"/>
<line x1="306.85" y1="266.9" x2="307" y2="269.6" stroke="#e03838" stroke-width="1.05" stroke-linecap="round"/>
<line x1="318.1" y1="270" x2="317.05" y2="271.3" stroke="#2020e0" stroke-width="1.05" stroke-linecap="round"/>
<line x1="317.05" y1="271.3" x2="316" y2="272.6" stroke="#4040e0" stroke-width="1.05" stroke-linecap="round"/>
<line x1="315.7" y1="258.3" x2="314.4" y2="260.95" stroke="#e01818" stroke-width="1" stroke-linecap="round"/>
<line x1="314.4" y1="260.95" x2="313.1" y2="263.6" stroke="#808080" stroke-width="1" stroke-linecap="round"/>
<line x1="313.1" y1="263.6" x2="309.9" y2="263.9" stroke="#808080" stroke-width="1" stroke-linecap="round"/>
<line x1="309.9" y1="263.9" x2="306.7" y2="264.2" stroke="#e01818" stroke-width="1" stroke-linecap="round"/>
<line x1="313.1" y1="263.6" x2="315.6" y2="266.8" stroke="#808080" stroke-width="1" stroke-linecap="round"/>
<line x1="315.6" y1="266.8" x2="318.1" y2="270" stroke="#2020e0" stroke-width="1" stroke-linecap="round"/>
<line x1="318.1" y1="270" x2="320.5" y2="269.35" stroke="#2020e0" stroke-width="1" stroke-linecap="round"/>
<line x1="320.5" y1="269.35" x2="322.9" y2="268.7" stroke="#d8d8d8" stroke-width="1" stroke-linecap="round"/>
<circle cx="315.7" cy="258.3" r="2.8" fill="url(#gO)" />
<circle cx="313.1" cy="263.6" r="2.6" fill="url(#gC)" />
<circle cx="306.7" cy="264.2" r="2.8" fill="url(#gO)" />
<circle cx="318.1" cy="270" r="2.6" fill="url(#gN)" />
<circle cx="322.9" cy="268.7" r="2.3" fill="url(#gH)" />
<clipPath id="cl24"><rect x="331.4" y="262.8" width="35.6" height="27"/></clipPath><g clip-path="url(#cl24)">
<rect x="331.4" y="280.8" width="35.6" height="9" fill="#efd6d6" stroke="none" stroke-width="1" />
<rect x="331.4" y="287.6" width="35.6" height="2.2" fill="#f4e2e2" stroke="none" stroke-width="1" />
<circle cx="340.4" cy="286.7" r="5" fill="url(#gIn)" />
<circle cx="358.6" cy="277.1" r="6.4" fill="url(#gSe)" />
<circle cx="363.9" cy="280.6" r="4.3" fill="url(#gO)" />
<circle cx="354.6" cy="281.7" r="4.2" fill="url(#gO)" />
<circle cx="345" cy="275.8" r="7.1" fill="url(#gIn)" />
<circle cx="337.2" cy="281" r="5.8" fill="url(#gO)" />
<circle cx="348.4" cy="283.1" r="5.6" fill="url(#gO)" />
<circle cx="359.4" cy="287" r="5.8" fill="url(#gIn)" />
</g>
<line x1="343" y1="264.7" x2="343.5" y2="267.15" stroke="#e01818" stroke-width="1.05" stroke-linecap="round"/>
<line x1="343.5" y1="267.15" x2="344" y2="269.6" stroke="#e03838" stroke-width="1.05" stroke-linecap="round"/>
<line x1="348.9" y1="255.5" x2="349.1" y2="258.9" stroke="#e01818" stroke-width="1" stroke-linecap="round"/>
<line x1="349.1" y1="258.9" x2="349.3" y2="262.3" stroke="#808080" stroke-width="1" stroke-linecap="round"/>
<line x1="349.3" y1="262.3" x2="346.15" y2="263.5" stroke="#808080" stroke-width="1" stroke-linecap="round"/>
<line x1="346.15" y1="263.5" x2="343" y2="264.7" stroke="#e01818" stroke-width="1" stroke-linecap="round"/>
<line x1="349.3" y1="262.3" x2="352.35" y2="264.55" stroke="#808080" stroke-width="1" stroke-linecap="round"/>
<line x1="352.35" y1="264.55" x2="355.4" y2="266.8" stroke="#2020e0" stroke-width="1" stroke-linecap="round"/>
<line x1="355.4" y1="266.8" x2="357.8" y2="265.35" stroke="#2020e0" stroke-width="1" stroke-linecap="round"/>
<line x1="357.8" y1="265.35" x2="360.2" y2="263.9" stroke="#d8d8d8" stroke-width="1" stroke-linecap="round"/>
<line x1="355.4" y1="266.8" x2="356.2" y2="268.15" stroke="#2020e0" stroke-width="1" stroke-linecap="round"/>
<line x1="356.2" y1="268.15" x2="357" y2="269.5" stroke="#d8d8d8" stroke-width="1" stroke-linecap="round"/>
<circle cx="348.9" cy="255.5" r="2.8" fill="url(#gO)" />
<circle cx="349.3" cy="262.3" r="2.6" fill="url(#gC)" />
<circle cx="343" cy="264.7" r="2.8" fill="url(#gO)" />
<circle cx="355.4" cy="266.8" r="2.6" fill="url(#gN)" />
<circle cx="360.2" cy="263.9" r="2.3" fill="url(#gH)" />
<circle cx="357" cy="269.5" r="2.3" fill="url(#gH)" />
<clipPath id="cl25"><rect x="368.7" y="262.8" width="32.2" height="27"/></clipPath><g clip-path="url(#cl25)">
<rect x="368.7" y="280.8" width="32.2" height="9" fill="#efd6d6" stroke="none" stroke-width="1" />
<rect x="368.7" y="287.6" width="32.2" height="2.2" fill="#f4e2e2" stroke="none" stroke-width="1" />
<circle cx="377.7" cy="286.7" r="5" fill="url(#gIn)" />
<circle cx="395.9" cy="277.1" r="6.4" fill="url(#gSe)" />
<circle cx="401.2" cy="280.6" r="4.3" fill="url(#gO)" />
<circle cx="391.9" cy="281.7" r="4.2" fill="url(#gO)" />
<circle cx="382.3" cy="275.8" r="7.1" fill="url(#gIn)" />
<circle cx="374.5" cy="281" r="5.8" fill="url(#gO)" />
<circle cx="385.7" cy="283.1" r="5.6" fill="url(#gO)" />
<circle cx="396.7" cy="287" r="5.8" fill="url(#gIn)" />
</g>
<line x1="380.7" y1="264.4" x2="381" y2="267" stroke="#e01818" stroke-width="1.05" stroke-linecap="round"/>
<line x1="381" y1="267" x2="381.3" y2="269.6" stroke="#e03838" stroke-width="1.05" stroke-linecap="round"/>
<line x1="385.9" y1="247.7" x2="383.9" y2="249.85" stroke="#d8d8d8" stroke-width="1" stroke-linecap="round"/>
<line x1="383.9" y1="249.85" x2="381.9" y2="252" stroke="#e01818" stroke-width="1" stroke-linecap="round"/>
<line x1="381.9" y1="252" x2="383.5" y2="255.8" stroke="#e01818" stroke-width="1" stroke-linecap="round"/>
<line x1="383.5" y1="255.8" x2="385.1" y2="259.6" stroke="#808080" stroke-width="1" stroke-linecap="round"/>
<line x1="385.1" y1="259.6" x2="388.7" y2="259.85" stroke="#808080" stroke-width="1" stroke-linecap="round"/>
<line x1="388.7" y1="259.85" x2="392.3" y2="260.1" stroke="#2020e0" stroke-width="1" stroke-linecap="round"/>
<line x1="392.3" y1="260.1" x2="394.3" y2="257.9" stroke="#2020e0" stroke-width="1" stroke-linecap="round"/>
<line x1="394.3" y1="257.9" x2="396.3" y2="255.7" stroke="#d8d8d8" stroke-width="1" stroke-linecap="round"/>
<line x1="392.3" y1="260.1" x2="393.25" y2="262.5" stroke="#2020e0" stroke-width="1" stroke-linecap="round"/>
<line x1="393.25" y1="262.5" x2="394.2" y2="264.9" stroke="#d8d8d8" stroke-width="1" stroke-linecap="round"/>
<line x1="385.1" y1="259.6" x2="382.9" y2="262" stroke="#808080" stroke-width="1" stroke-linecap="round"/>
<line x1="382.9" y1="262" x2="380.7" y2="264.4" stroke="#e01818" stroke-width="1" stroke-linecap="round"/>
<circle cx="385.9" cy="247.7" r="2.3" fill="url(#gH)" />
<circle cx="381.9" cy="252" r="2.8" fill="url(#gO)" />
<circle cx="385.1" cy="259.6" r="2.6" fill="url(#gC)" />
<circle cx="392.3" cy="260.1" r="2.6" fill="url(#gN)" />
<circle cx="396.3" cy="255.7" r="2.3" fill="url(#gH)" />
<circle cx="394.2" cy="264.9" r="2.3" fill="url(#gH)" />
<circle cx="380.7" cy="264.4" r="2.8" fill="url(#gO)" />
<clipPath id="cl26"><rect x="402.3" y="262.8" width="35" height="27"/></clipPath><g clip-path="url(#cl26)">
<rect x="402.3" y="280.8" width="35" height="9" fill="#efd6d6" stroke="none" stroke-width="1" />
<rect x="402.3" y="287.6" width="35" height="2.2" fill="#f4e2e2" stroke="none" stroke-width="1" />
<circle cx="411.3" cy="286.7" r="5" fill="url(#gIn)" />
<circle cx="429.5" cy="277.1" r="6.4" fill="url(#gSe)" />
<circle cx="434.8" cy="280.6" r="4.3" fill="url(#gO)" />
<circle cx="425.5" cy="281.7" r="4.2" fill="url(#gO)" />
<circle cx="415.9" cy="275.8" r="7.1" fill="url(#gIn)" />
<circle cx="408.1" cy="281" r="5.8" fill="url(#gO)" />
<circle cx="419.3" cy="283.1" r="5.6" fill="url(#gO)" />
<circle cx="430.3" cy="287" r="5.8" fill="url(#gIn)" />
</g>
<line x1="413.2" y1="261.4" x2="414.05" y2="265.5" stroke="#e01818" stroke-width="1.05" stroke-linecap="round"/>
<line x1="414.05" y1="265.5" x2="414.9" y2="269.6" stroke="#e03838" stroke-width="1.05" stroke-linecap="round"/>
<line x1="417.2" y1="256.1" x2="420.4" y2="256.1" stroke="#808080" stroke-width="1" stroke-linecap="round"/>
<line x1="420.4" y1="256.1" x2="423.6" y2="256.1" stroke="#2020e0" stroke-width="1" stroke-linecap="round"/>
<line x1="423.6" y1="256.1" x2="424.65" y2="253.65" stroke="#2020e0" stroke-width="1" stroke-linecap="round"/>
<line x1="424.65" y1="253.65" x2="425.7" y2="251.2" stroke="#d8d8d8" stroke-width="1" stroke-linecap="round"/>
<line x1="423.6" y1="256.1" x2="424.4" y2="258.9" stroke="#2020e0" stroke-width="1" stroke-linecap="round"/>
<line x1="424.4" y1="258.9" x2="425.2" y2="261.7" stroke="#d8d8d8" stroke-width="1" stroke-linecap="round"/>
<line x1="417.2" y1="256.1" x2="415.2" y2="258.75" stroke="#808080" stroke-width="1" stroke-linecap="round"/>
<line x1="415.2" y1="258.75" x2="413.2" y2="261.4" stroke="#e01818" stroke-width="1" stroke-linecap="round"/>
<circle cx="417.2" cy="256.1" r="2.6" fill="url(#gC)" />
<circle cx="423.6" cy="256.1" r="2.6" fill="url(#gN)" />
<circle cx="425.7" cy="251.2" r="2.3" fill="url(#gH)" />
<circle cx="425.2" cy="261.7" r="2.3" fill="url(#gH)" />
<circle cx="413.2" cy="261.4" r="2.8" fill="url(#gO)" />
<clipPath id="cl27"><rect x="439" y="262.8" width="34.3" height="27"/></clipPath><g clip-path="url(#cl27)">
<rect x="439" y="280.8" width="34.3" height="9" fill="#efd6d6" stroke="none" stroke-width="1" />
<rect x="439" y="287.6" width="34.3" height="2.2" fill="#f4e2e2" stroke="none" stroke-width="1" />
<circle cx="448" cy="286.7" r="5" fill="url(#gIn)" />
<circle cx="466.2" cy="277.1" r="6.4" fill="url(#gSe)" />
<circle cx="471.5" cy="280.6" r="4.3" fill="url(#gO)" />
<circle cx="462.2" cy="281.7" r="4.2" fill="url(#gO)" />
<circle cx="452.6" cy="275.8" r="7.1" fill="url(#gIn)" />
<circle cx="444.8" cy="281" r="5.8" fill="url(#gO)" />
<circle cx="456" cy="283.1" r="5.6" fill="url(#gO)" />
<circle cx="467" cy="287" r="5.8" fill="url(#gIn)" />
</g>
<line x1="451.2" y1="264.1" x2="451.4" y2="266.85" stroke="#e01818" stroke-width="1.05" stroke-linecap="round"/>
<line x1="451.4" y1="266.85" x2="451.6" y2="269.6" stroke="#e03838" stroke-width="1.05" stroke-linecap="round"/>
<line x1="454.4" y1="245.1" x2="452.4" y2="247.75" stroke="#e01818" stroke-width="1" stroke-linecap="round"/>
<line x1="452.4" y1="247.75" x2="450.4" y2="250.4" stroke="#2020e0" stroke-width="1" stroke-linecap="round"/>
<line x1="450.4" y1="250.4" x2="446.9" y2="250.4" stroke="#2020e0" stroke-width="1" stroke-linecap="round"/>
<line x1="446.9" y1="250.4" x2="443.4" y2="250.4" stroke="#e01818" stroke-width="1" stroke-linecap="round"/>
<line x1="450.4" y1="250.4" x2="452.65" y2="254.45" stroke="#2020e0" stroke-width="1" stroke-linecap="round"/>
<line x1="452.65" y1="254.45" x2="454.9" y2="258.5" stroke="#808080" stroke-width="1" stroke-linecap="round"/>
<line x1="454.9" y1="258.5" x2="458.55" y2="258.5" stroke="#808080" stroke-width="1" stroke-linecap="round"/>
<line x1="458.55" y1="258.5" x2="462.2" y2="258.5" stroke="#2020e0" stroke-width="1" stroke-linecap="round"/>
<line x1="462.2" y1="258.5" x2="463.4" y2="255.65" stroke="#2020e0" stroke-width="1" stroke-linecap="round"/>
<line x1="463.4" y1="255.65" x2="464.6" y2="252.8" stroke="#d8d8d8" stroke-width="1" stroke-linecap="round"/>
<line x1="462.2" y1="258.5" x2="463.8" y2="261.15" stroke="#2020e0" stroke-width="1" stroke-linecap="round"/>
<line x1="463.8" y1="261.15" x2="465.4" y2="263.8" stroke="#d8d8d8" stroke-width="1" stroke-linecap="round"/>
<line x1="454.9" y1="258.5" x2="453.05" y2="261.3" stroke="#808080" stroke-width="1" stroke-linecap="round"/>
<line x1="453.05" y1="261.3" x2="451.2" y2="264.1" stroke="#e01818" stroke-width="1" stroke-linecap="round"/>
<circle cx="454.4" cy="245.1" r="2.8" fill="url(#gO)" />
<circle cx="450.4" cy="250.4" r="2.6" fill="url(#gN)" />
<circle cx="443.4" cy="250.4" r="2.8" fill="url(#gO)" />
<circle cx="454.9" cy="258.5" r="2.6" fill="url(#gC)" />
<circle cx="462.2" cy="258.5" r="2.6" fill="url(#gN)" />
<circle cx="464.6" cy="252.8" r="2.3" fill="url(#gH)" />
<circle cx="465.4" cy="263.8" r="2.3" fill="url(#gH)" />
<circle cx="451.2" cy="264.1" r="2.8" fill="url(#gO)" />
<clipPath id="cl28"><rect x="474.3" y="262.8" width="35.5" height="27"/></clipPath><g clip-path="url(#cl28)">
<rect x="474.3" y="280.8" width="35.5" height="9" fill="#efd6d6" stroke="none" stroke-width="1" />
<rect x="474.3" y="287.6" width="35.5" height="2.2" fill="#f4e2e2" stroke="none" stroke-width="1" />
<circle cx="483.3" cy="286.7" r="5" fill="url(#gIn)" />
<circle cx="501.5" cy="277.1" r="6.4" fill="url(#gSe)" />
<circle cx="506.8" cy="280.6" r="4.3" fill="url(#gO)" />
<circle cx="497.5" cy="281.7" r="4.2" fill="url(#gO)" />
<circle cx="487.9" cy="275.8" r="7.1" fill="url(#gIn)" />
<circle cx="480.1" cy="281" r="5.8" fill="url(#gO)" />
<circle cx="491.3" cy="283.1" r="5.6" fill="url(#gO)" />
<circle cx="502.3" cy="287" r="5.8" fill="url(#gIn)" />
</g>
<line x1="485.7" y1="264.7" x2="486.3" y2="267.15" stroke="#e01818" stroke-width="1.05" stroke-linecap="round"/>
<line x1="486.3" y1="267.15" x2="486.9" y2="269.6" stroke="#e03838" stroke-width="1.05" stroke-linecap="round"/>
<line x1="490.1" y1="248.2" x2="488.65" y2="250.4" stroke="#d8d8d8" stroke-width="1" stroke-linecap="round"/>
<line x1="488.65" y1="250.4" x2="487.2" y2="252.6" stroke="#2020e0" stroke-width="1" stroke-linecap="round"/>
<line x1="487.2" y1="252.6" x2="484.1" y2="252.6" stroke="#2020e0" stroke-width="1" stroke-linecap="round"/>
<line x1="484.1" y1="252.6" x2="481" y2="252.6" stroke="#d8d8d8" stroke-width="1" stroke-linecap="round"/>
<line x1="487.2" y1="252.6" x2="488.65" y2="256.1" stroke="#2020e0" stroke-width="1" stroke-linecap="round"/>
<line x1="488.65" y1="256.1" x2="490.1" y2="259.6" stroke="#808080" stroke-width="1" stroke-linecap="round"/>
<line x1="490.1" y1="259.6" x2="493.75" y2="259.9" stroke="#808080" stroke-width="1" stroke-linecap="round"/>
<line x1="493.75" y1="259.9" x2="497.4" y2="260.2" stroke="#2020e0" stroke-width="1" stroke-linecap="round"/>
<line x1="497.4" y1="260.2" x2="499.2" y2="258.25" stroke="#2020e0" stroke-width="1" stroke-linecap="round"/>
<line x1="499.2" y1="258.25" x2="501" y2="256.3" stroke="#d8d8d8" stroke-width="1" stroke-linecap="round"/>
<line x1="497.4" y1="260.2" x2="498.7" y2="262.6" stroke="#2020e0" stroke-width="1" stroke-linecap="round"/>
<line x1="498.7" y1="262.6" x2="500" y2="265" stroke="#d8d8d8" stroke-width="1" stroke-linecap="round"/>
<line x1="490.1" y1="259.6" x2="487.9" y2="262.15" stroke="#808080" stroke-width="1" stroke-linecap="round"/>
<line x1="487.9" y1="262.15" x2="485.7" y2="264.7" stroke="#e01818" stroke-width="1" stroke-linecap="round"/>
<circle cx="490.1" cy="248.2" r="2.3" fill="url(#gH)" />
<circle cx="487.2" cy="252.6" r="2.6" fill="url(#gN)" />
<circle cx="481" cy="252.6" r="2.3" fill="url(#gH)" />
<circle cx="490.1" cy="259.6" r="2.6" fill="url(#gC)" />
<circle cx="497.4" cy="260.2" r="2.6" fill="url(#gN)" />
<circle cx="501" cy="256.3" r="2.3" fill="url(#gH)" />
<circle cx="500" cy="265" r="2.3" fill="url(#gH)" />
<circle cx="485.7" cy="264.7" r="2.8" fill="url(#gO)" />
<rect x="30.5" y="309.6" width="135.5" height="119.1" fill="none" stroke="#222" stroke-width="0.9" />
<line x1="30.5" y1="331.4" x2="28.1" y2="331.4" stroke="#222" stroke-width="0.8" />
<text x="26.2" y="333.9" font-size="7" text-anchor="end" fill="#111"  stroke="#111" stroke-width="0.14">0</text>
<line x1="30.5" y1="358.5" x2="28.1" y2="358.5" stroke="#222" stroke-width="0.8" />
<text x="26.2" y="361" font-size="7" text-anchor="end" fill="#111"  stroke="#111" stroke-width="0.14">-1</text>
<line x1="30.5" y1="385.6" x2="28.1" y2="385.6" stroke="#222" stroke-width="0.8" />
<text x="26.2" y="388.1" font-size="7" text-anchor="end" fill="#111"  stroke="#111" stroke-width="0.14">-2</text>
<line x1="30.5" y1="412.7" x2="28.1" y2="412.7" stroke="#222" stroke-width="0.8" />
<text x="26.2" y="415.2" font-size="7" text-anchor="end" fill="#111"  stroke="#111" stroke-width="0.14">-3</text>
<text x="17.6" y="369" font-size="7.2" fill="#111" text-anchor="middle" transform="rotate(-90 17.6 369)" stroke="#111" stroke-width="0.14">Energy (eV)</text>
<text x="94.7" y="436.8" font-size="7.1" text-anchor="middle" fill="#111"  stroke="#111" stroke-width="0.14">Reaction coordinate</text>
<text x="36.1" y="318.9" font-size="7.5" fill="#111" stroke="#111" stroke-width="0.14">InO<tspan font-size="5.2" dy="1.8">x</tspan></text>
<line x1="66.8" y1="331.4" x2="84.1" y2="399.69" stroke="#e88890" stroke-width="1.3" stroke-dasharray="0.01 2.9" stroke-linecap="round"/>
<line x1="111.7" y1="399.69" x2="129.8" y2="336.55" stroke="#2c5676" stroke-width="1.3" stroke-dasharray="0.01 2.9" stroke-linecap="round"/>
<line x1="111.7" y1="399.69" x2="129.8" y2="373.95" stroke="#e88890" stroke-width="1.3" stroke-dasharray="0.01 2.9" stroke-linecap="round"/>
<line x1="39.7" y1="331.4" x2="66.8" y2="331.4" stroke="#cc343e" stroke-width="1.3" />
<line x1="84.1" y1="399.69" x2="111.7" y2="399.69" stroke="#cc343e" stroke-width="1.3" />
<line x1="129.8" y1="336.55" x2="156.8" y2="336.55" stroke="#2c5676" stroke-width="1.3" />
<line x1="129.8" y1="373.95" x2="156.8" y2="373.95" stroke="#cc343e" stroke-width="1.3" />
<text x="53.25" y="328.6" font-size="7" text-anchor="middle" fill="#111"  stroke="#111" stroke-width="0.14">*</text>
<text x="97.9" y="395.69" font-size="7" text-anchor="middle" fill="#111"  stroke="#111" stroke-width="0.14">*NO<tspan font-size="5" dy="1.6">2</tspan></text>
<text x="141.8" y="332.25" font-size="7" text-anchor="middle" fill="#111"  stroke="#111" stroke-width="0.14">*NO<tspan font-size="5" dy="1.6">2</tspan><tspan dy="-1.6">H</tspan></text>
<text x="143.8" y="367.95" font-size="7" text-anchor="middle" fill="#111"  stroke="#111" stroke-width="0.14">*CO<tspan font-size="5" dy="1.6">2</tspan><tspan dy="-1.6">NO</tspan><tspan font-size="5" dy="1.6">2</tspan></text>
<clipPath id="cl29"><rect x="82" y="312" width="32" height="49"/></clipPath><g clip-path="url(#cl29)">
<rect x="82" y="339" width="32" height="24" fill="#efd6d6" stroke="none" stroke-width="1" />
<circle cx="96" cy="360.5" r="5" fill="url(#gIn)" />
<circle cx="93.8" cy="349.5" r="5.5" fill="url(#gIn)" />
<circle cx="104.1" cy="356.6" r="5" fill="url(#gO)" />
<circle cx="87.9" cy="356" r="5.6" fill="url(#gO)" />
<circle cx="116.4" cy="341.5" r="4" fill="url(#gO)" />
<circle cx="107.3" cy="341.6" r="4.8" fill="url(#gO)" />
<circle cx="110" cy="349.2" r="6.6" fill="url(#gIn)" />
<circle cx="97.4" cy="337" r="6.3" fill="url(#gIn)" />
<circle cx="88.4" cy="342.2" r="6.2" fill="url(#gO)" />
<circle cx="99.8" cy="343.6" r="6.2" fill="url(#gO)" />
</g>
<line x1="101.4" y1="326.5" x2="100.4" y2="329" stroke="#e01818" stroke-width="1.05" stroke-linecap="round"/>
<line x1="100.4" y1="329" x2="99.4" y2="331.5" stroke="#e03838" stroke-width="1.05" stroke-linecap="round"/>
<line x1="98.7" y1="315.6" x2="97.6" y2="318.45" stroke="#d8d8d8" stroke-width="1" stroke-linecap="round"/>
<line x1="97.6" y1="318.45" x2="96.5" y2="321.3" stroke="#2020e0" stroke-width="1" stroke-linecap="round"/>
<line x1="96.5" y1="321.3" x2="92.9" y2="321.75" stroke="#2020e0" stroke-width="1" stroke-linecap="round"/>
<line x1="92.9" y1="321.75" x2="89.3" y2="322.2" stroke="#e01818" stroke-width="1" stroke-linecap="round"/>
<line x1="96.5" y1="321.3" x2="98.95" y2="323.9" stroke="#2020e0" stroke-width="1" stroke-linecap="round"/>
<line x1="98.95" y1="323.9" x2="101.4" y2="326.5" stroke="#e01818" stroke-width="1" stroke-linecap="round"/>
<circle cx="98.7" cy="315.6" r="2.3" fill="url(#gH)" />
<circle cx="96.5" cy="321.3" r="2.6" fill="url(#gN)" />
<circle cx="89.3" cy="322.2" r="2.8" fill="url(#gO)" />
<circle cx="101.4" cy="326.5" r="2.8" fill="url(#gO)" />
<text x="117" y="366.6" font-size="7" fill="#2c5676" text-anchor="middle" transform="rotate(-67 117 364.2)" stroke="#2c5676" stroke-width="0.14">2.35 eV</text>
<text x="126" y="390" font-size="7" fill="#cc343e" text-anchor="middle" transform="rotate(-52 126 387.6)" stroke="#cc343e" stroke-width="0.14">0.88 eV</text>
<line x1="202.4" y1="309.8" x2="254.3" y2="309.8" stroke="#222" stroke-width="0.9" />
<line x1="287" y1="309.8" x2="337.3" y2="309.8" stroke="#222" stroke-width="0.9" />
<line x1="202.4" y1="309.35" x2="202.4" y2="427.9" stroke="#222" stroke-width="0.9" />
<line x1="337.3" y1="309.35" x2="337.3" y2="427.9" stroke="#222" stroke-width="0.9" />
<line x1="202.4" y1="427.9" x2="337.3" y2="427.9" stroke="#222" stroke-width="0.9" />
<line x1="202.4" y1="331.3" x2="200" y2="331.3" stroke="#222" stroke-width="0.8" />
<text x="198.1" y="333.8" font-size="7" text-anchor="end" fill="#111"  stroke="#111" stroke-width="0.14">0</text>
<line x1="202.4" y1="358.35" x2="200" y2="358.35" stroke="#222" stroke-width="0.8" />
<text x="198.1" y="360.85" font-size="7" text-anchor="end" fill="#111"  stroke="#111" stroke-width="0.14">-1</text>
<line x1="202.4" y1="385.4" x2="200" y2="385.4" stroke="#222" stroke-width="0.8" />
<text x="198.1" y="387.9" font-size="7" text-anchor="end" fill="#111"  stroke="#111" stroke-width="0.14">-2</text>
<line x1="202.4" y1="412.45" x2="200" y2="412.45" stroke="#222" stroke-width="0.8" />
<text x="198.1" y="414.95" font-size="7" text-anchor="end" fill="#111"  stroke="#111" stroke-width="0.14">-3</text>
<text x="189.6" y="369" font-size="7.2" fill="#111" text-anchor="middle" transform="rotate(-90 189.6 369)" stroke="#111" stroke-width="0.14">Energy (eV)</text>
<text x="270.3" y="436.8" font-size="7.1" text-anchor="middle" fill="#111"  stroke="#111" stroke-width="0.14">Reaction coordinate</text>
<text x="205.8" y="319.1" font-size="7.5" fill="#111" stroke="#111" stroke-width="0.14">S-InO<tspan font-size="5.2" dy="1.8">x</tspan></text>
<line x1="238.5" y1="331.3" x2="256.4" y2="419.75" stroke="#e88890" stroke-width="1.3" stroke-dasharray="0.01 2.9" stroke-linecap="round"/>
<line x1="283.2" y1="419.75" x2="301.6" y2="331.3" stroke="#264866" stroke-width="1.3" stroke-dasharray="0.01 2.9" stroke-linecap="round"/>
<line x1="283.2" y1="419.75" x2="301.6" y2="400.55" stroke="#e88890" stroke-width="1.3" stroke-dasharray="0.01 2.9" stroke-linecap="round"/>
<line x1="212.2" y1="331.3" x2="238.5" y2="331.3" stroke="#cc343e" stroke-width="1.3" />
<line x1="256.4" y1="419.75" x2="283.2" y2="419.75" stroke="#cc343e" stroke-width="1.3" />
<line x1="301.6" y1="331.3" x2="328.4" y2="331.3" stroke="#264866" stroke-width="1.3" />
<line x1="301.6" y1="400.55" x2="328.4" y2="400.55" stroke="#cc343e" stroke-width="1.3" />
<text x="225.35" y="328.5" font-size="7" text-anchor="middle" fill="#111"  stroke="#111" stroke-width="0.14">*</text>
<text x="269.8" y="415.75" font-size="7" text-anchor="middle" fill="#111"  stroke="#111" stroke-width="0.14">*NO<tspan font-size="5" dy="1.6">2</tspan></text>
<text x="313.5" y="327" font-size="7" text-anchor="middle" fill="#111"  stroke="#111" stroke-width="0.14">*NO<tspan font-size="5" dy="1.6">2</tspan><tspan dy="-1.6">H</tspan></text>
<text x="315.5" y="394.55" font-size="7" text-anchor="middle" fill="#111"  stroke="#111" stroke-width="0.14">*CO<tspan font-size="5" dy="1.6">2</tspan><tspan dy="-1.6">NO</tspan><tspan font-size="5" dy="1.6">2</tspan></text>
<clipPath id="cl30"><rect x="254.3" y="312" width="32.7" height="48"/></clipPath><g clip-path="url(#cl30)">
<rect x="254.3" y="338.8" width="32.7" height="23.2" fill="#efd6d6" stroke="none" stroke-width="1" />
<circle cx="265.7" cy="360.3" r="5" fill="url(#gIn)" />
<circle cx="263.5" cy="349.3" r="5.5" fill="url(#gIn)" />
<circle cx="273.8" cy="356.4" r="5" fill="url(#gO)" />
<circle cx="257.6" cy="355.8" r="5.6" fill="url(#gO)" />
<circle cx="286.1" cy="341.3" r="4" fill="url(#gO)" />
<circle cx="279" cy="337" r="5.5" fill="url(#gS)" />
<circle cx="277" cy="341.4" r="4.8" fill="url(#gO)" />
<circle cx="279.7" cy="349" r="6.6" fill="url(#gIn)" />
<circle cx="267.1" cy="336.8" r="6.3" fill="url(#gIn)" />
<circle cx="258.1" cy="342" r="6.2" fill="url(#gO)" />
<circle cx="269.5" cy="343.4" r="6.2" fill="url(#gO)" />
</g>
<line x1="263.8" y1="324" x2="264.45" y2="327.65" stroke="#e01818" stroke-width="1.05" stroke-linecap="round"/>
<line x1="264.45" y1="327.65" x2="265.1" y2="331.3" stroke="#e03838" stroke-width="1.05" stroke-linecap="round"/>
<line x1="273.1" y1="327.1" x2="272.1" y2="329.2" stroke="#e01818" stroke-width="1.05" stroke-linecap="round"/>
<line x1="272.1" y1="329.2" x2="271.1" y2="331.3" stroke="#e03838" stroke-width="1.05" stroke-linecap="round"/>
<line x1="269.5" y1="316.6" x2="269.25" y2="319.6" stroke="#d8d8d8" stroke-width="1" stroke-linecap="round"/>
<line x1="269.25" y1="319.6" x2="269" y2="322.6" stroke="#2020e0" stroke-width="1" stroke-linecap="round"/>
<line x1="269" y1="322.6" x2="266.4" y2="323.3" stroke="#2020e0" stroke-width="1" stroke-linecap="round"/>
<line x1="266.4" y1="323.3" x2="263.8" y2="324" stroke="#e01818" stroke-width="1" stroke-linecap="round"/>
<line x1="269" y1="322.6" x2="271.05" y2="324.85" stroke="#2020e0" stroke-width="1" stroke-linecap="round"/>
<line x1="271.05" y1="324.85" x2="273.1" y2="327.1" stroke="#e01818" stroke-width="1" stroke-linecap="round"/>
<circle cx="269.5" cy="316.6" r="2.3" fill="url(#gH)" />
<circle cx="269" cy="322.6" r="2.6" fill="url(#gN)" />
<circle cx="263.8" cy="324" r="2.8" fill="url(#gO)" />
<circle cx="273.1" cy="327.1" r="2.8" fill="url(#gO)" />
<text x="290" y="365.1" font-size="7" fill="#2c5676" text-anchor="middle" transform="rotate(-68 290 362.7)" stroke="#2c5676" stroke-width="0.14">3.29 eV</text>
<text x="297.7" y="412.4" font-size="7" fill="#cc343e" text-anchor="middle" transform="rotate(-55 297.7 410)" stroke="#cc343e" stroke-width="0.14">0.70 eV</text>
<rect x="374" y="309.8" width="133.9" height="118.6" fill="none" stroke="#222" stroke-width="0.9" />
<line x1="374" y1="330.8" x2="371.6" y2="330.8" stroke="#222" stroke-width="0.8" />
<text x="369.7" y="333.3" font-size="7" text-anchor="end" fill="#111"  stroke="#111" stroke-width="0.14">0</text>
<line x1="374" y1="356.5" x2="371.6" y2="356.5" stroke="#222" stroke-width="0.8" />
<text x="369.7" y="359" font-size="7" text-anchor="end" fill="#111"  stroke="#111" stroke-width="0.14">-1</text>
<line x1="374" y1="382.2" x2="371.6" y2="382.2" stroke="#222" stroke-width="0.8" />
<text x="369.7" y="384.7" font-size="7" text-anchor="end" fill="#111"  stroke="#111" stroke-width="0.14">-2</text>
<line x1="374" y1="407.9" x2="371.6" y2="407.9" stroke="#222" stroke-width="0.8" />
<text x="369.7" y="410.4" font-size="7" text-anchor="end" fill="#111"  stroke="#111" stroke-width="0.14">-3</text>
<text x="361.4" y="369" font-size="7.2" fill="#111" text-anchor="middle" transform="rotate(-90 361.4 369)" stroke="#111" stroke-width="0.14">Energy (eV)</text>
<text x="437.6" y="436.8" font-size="7.1" text-anchor="middle" fill="#111"  stroke="#111" stroke-width="0.14">Reaction coordinate</text>
<text x="376.5" y="319.1" font-size="7.5" fill="#111" stroke="#111" stroke-width="0.14">Se-InO<tspan font-size="5.2" dy="1.8">x</tspan></text>
<line x1="409.5" y1="330.8" x2="427.4" y2="418.69" stroke="#e88890" stroke-width="1.3" stroke-dasharray="0.01 2.9" stroke-linecap="round"/>
<line x1="453.7" y1="418.69" x2="471.6" y2="332.86" stroke="#5b80a6" stroke-width="1.3" stroke-dasharray="0.01 2.9" stroke-linecap="round"/>
<line x1="453.7" y1="418.69" x2="471.6" y2="404.05" stroke="#e88890" stroke-width="1.3" stroke-dasharray="0.01 2.9" stroke-linecap="round"/>
<line x1="383.4" y1="330.8" x2="409.5" y2="330.8" stroke="#cc343e" stroke-width="1.3" />
<line x1="427.4" y1="418.69" x2="453.7" y2="418.69" stroke="#cc343e" stroke-width="1.3" />
<line x1="471.6" y1="332.86" x2="498.4" y2="332.86" stroke="#5b80a6" stroke-width="1.3" />
<line x1="471.6" y1="404.05" x2="498.4" y2="404.05" stroke="#cc343e" stroke-width="1.3" />
<text x="396.45" y="328" font-size="7" text-anchor="middle" fill="#111"  stroke="#111" stroke-width="0.14">*</text>
<text x="440.55" y="414.69" font-size="7" text-anchor="middle" fill="#111"  stroke="#111" stroke-width="0.14">*NO<tspan font-size="5" dy="1.6">2</tspan></text>
<text x="483.5" y="328.56" font-size="7" text-anchor="middle" fill="#111"  stroke="#111" stroke-width="0.14">*NO<tspan font-size="5" dy="1.6">2</tspan><tspan dy="-1.6">H</tspan></text>
<text x="485.5" y="398.05" font-size="7" text-anchor="middle" fill="#111"  stroke="#111" stroke-width="0.14">*CO<tspan font-size="5" dy="1.6">2</tspan><tspan dy="-1.6">NO</tspan><tspan font-size="5" dy="1.6">2</tspan></text>
<clipPath id="cl31"><rect x="421.8" y="312" width="35.2" height="48"/></clipPath><g clip-path="url(#cl31)">
<rect x="421.8" y="339" width="35.2" height="23" fill="#efd6d6" stroke="none" stroke-width="1" />
<circle cx="434.2" cy="360.5" r="5" fill="url(#gIn)" />
<circle cx="432" cy="349.5" r="5.5" fill="url(#gIn)" />
<circle cx="442.3" cy="356.6" r="5" fill="url(#gO)" />
<circle cx="426.1" cy="356" r="5.6" fill="url(#gO)" />
<circle cx="454.6" cy="341.5" r="4" fill="url(#gO)" />
<circle cx="447.5" cy="337.2" r="5.5" fill="url(#gSe)" />
<circle cx="445.5" cy="341.6" r="4.8" fill="url(#gO)" />
<circle cx="448.2" cy="349.2" r="6.6" fill="url(#gIn)" />
<circle cx="435.6" cy="337" r="6.3" fill="url(#gIn)" />
<circle cx="426.6" cy="342.2" r="6.2" fill="url(#gO)" />
<circle cx="438" cy="343.6" r="6.2" fill="url(#gO)" />
</g>
<line x1="432.3" y1="324.2" x2="432.95" y2="327.85" stroke="#e01818" stroke-width="1.05" stroke-linecap="round"/>
<line x1="432.95" y1="327.85" x2="433.6" y2="331.5" stroke="#e03838" stroke-width="1.05" stroke-linecap="round"/>
<line x1="441.6" y1="327.3" x2="440.6" y2="329.4" stroke="#e01818" stroke-width="1.05" stroke-linecap="round"/>
<line x1="440.6" y1="329.4" x2="439.6" y2="331.5" stroke="#e03838" stroke-width="1.05" stroke-linecap="round"/>
<line x1="438" y1="316.8" x2="437.75" y2="319.8" stroke="#d8d8d8" stroke-width="1" stroke-linecap="round"/>
<line x1="437.75" y1="319.8" x2="437.5" y2="322.8" stroke="#2020e0" stroke-width="1" stroke-linecap="round"/>
<line x1="437.5" y1="322.8" x2="434.9" y2="323.5" stroke="#2020e0" stroke-width="1" stroke-linecap="round"/>
<line x1="434.9" y1="323.5" x2="432.3" y2="324.2" stroke="#e01818" stroke-width="1" stroke-linecap="round"/>
<line x1="437.5" y1="322.8" x2="439.55" y2="325.05" stroke="#2020e0" stroke-width="1" stroke-linecap="round"/>
<line x1="439.55" y1="325.05" x2="441.6" y2="327.3" stroke="#e01818" stroke-width="1" stroke-linecap="round"/>
<circle cx="438" cy="316.8" r="2.3" fill="url(#gH)" />
<circle cx="437.5" cy="322.8" r="2.6" fill="url(#gN)" />
<circle cx="432.3" cy="324.2" r="2.8" fill="url(#gO)" />
<circle cx="441.6" cy="327.3" r="2.8" fill="url(#gO)" />
<text x="458.8" y="381.7" font-size="7" fill="#3c6488" text-anchor="middle" transform="rotate(-70 458.8 379.3)" stroke="#3c6488" stroke-width="0.14">3.33 eV</text>
<text x="465.2" y="416.2" font-size="7" fill="#cc343e" text-anchor="middle" transform="rotate(-38 465.2 413.8)" stroke="#cc343e" stroke-width="0.14">0.55 eV</text>
<rect x="74.1" y="455.2" width="10.4" height="126.4" fill="#d9d9d9" stroke="none" stroke-width="1" />
<line x1="74.1" y1="455.2" x2="74.1" y2="581.6" stroke="#9a9a9a" stroke-width="0.45" stroke-dasharray="0.7 0.9"/>
<line x1="84.5" y1="455.2" x2="84.5" y2="581.6" stroke="#9a9a9a" stroke-width="0.45" stroke-dasharray="0.7 0.9"/>
<rect x="93.2" y="455.2" width="10.5" height="126.4" fill="#d9d9d9" stroke="none" stroke-width="1" />
<line x1="93.2" y1="455.2" x2="93.2" y2="581.6" stroke="#9a9a9a" stroke-width="0.45" stroke-dasharray="0.7 0.9"/>
<line x1="103.7" y1="455.2" x2="103.7" y2="581.6" stroke="#9a9a9a" stroke-width="0.45" stroke-dasharray="0.7 0.9"/>
<rect x="127.1" y="455.2" width="7.7" height="126.4" fill="#d9d9d9" stroke="none" stroke-width="1" />
<line x1="127.1" y1="455.2" x2="127.1" y2="581.6" stroke="#9a9a9a" stroke-width="0.45" stroke-dasharray="0.7 0.9"/>
<line x1="134.8" y1="455.2" x2="134.8" y2="581.6" stroke="#9a9a9a" stroke-width="0.45" stroke-dasharray="0.7 0.9"/>
<rect x="147.3" y="455.2" width="10.4" height="126.4" fill="#d9d9d9" stroke="none" stroke-width="1" />
<line x1="147.3" y1="455.2" x2="147.3" y2="581.6" stroke="#9a9a9a" stroke-width="0.45" stroke-dasharray="0.7 0.9"/>
<line x1="157.7" y1="455.2" x2="157.7" y2="581.6" stroke="#9a9a9a" stroke-width="0.45" stroke-dasharray="0.7 0.9"/>
<rect x="167.4" y="455.2" width="7.2" height="126.4" fill="#d9d9d9" stroke="none" stroke-width="1" />
<line x1="167.4" y1="455.2" x2="167.4" y2="581.6" stroke="#9a9a9a" stroke-width="0.45" stroke-dasharray="0.7 0.9"/>
<line x1="174.6" y1="455.2" x2="174.6" y2="581.6" stroke="#9a9a9a" stroke-width="0.45" stroke-dasharray="0.7 0.9"/>
<rect x="191.4" y="455.2" width="10.3" height="126.4" fill="#d9d9d9" stroke="none" stroke-width="1" />
<line x1="191.4" y1="455.2" x2="191.4" y2="581.6" stroke="#9a9a9a" stroke-width="0.45" stroke-dasharray="0.7 0.9"/>
<line x1="201.7" y1="455.2" x2="201.7" y2="581.6" stroke="#9a9a9a" stroke-width="0.45" stroke-dasharray="0.7 0.9"/>
<text x="80.89" y="457" font-size="5.8" fill="#111" text-anchor="end" transform="rotate(-90 80.89 457)" stroke="#111" stroke-width="0.14">*COOHNH<tspan font-size="4" dy="1.3">2</tspan></text>
<text x="100.09" y="457" font-size="5.8" fill="#111" text-anchor="end" transform="rotate(-90 100.09 457)" stroke="#111" stroke-width="0.14">*HCOO</text>
<text x="132.79" y="457" font-size="5.8" fill="#111" text-anchor="end" transform="rotate(-90 132.79 457)" stroke="#111" stroke-width="0.14">*NH<tspan font-size="4" dy="1.3">2</tspan></text>
<text x="154.19" y="457" font-size="5.8" fill="#111" text-anchor="end" transform="rotate(-90 154.19 457)" stroke="#111" stroke-width="0.14">*C-N</text>
<text x="172.79" y="457" font-size="5.8" fill="#111" text-anchor="end" transform="rotate(-90 172.79 457)" stroke="#111" stroke-width="0.14">*NH<tspan font-size="4" dy="1.3">2</tspan></text>
<text x="197.99" y="457" font-size="5.8" fill="#111" text-anchor="end" transform="rotate(-90 197.99 457)" stroke="#111" stroke-width="0.14">*NO<tspan font-size="4" dy="1.3">2</tspan><tspan font-size="4" dy="-2.2">-</tspan></text>
<path d="M20.7 545.82 L21.4 545.69 L22.1 545.7 L22.8 545.61 L23.5 545.79 L24.2 546.09 L24.9 545.99 L25.6 546.15 L26.3 546.03 L27 546.1 L27.7 546.11 L28.4 545.78 L29.1 546.33 L29.8 546.3 L30.5 546.34 L31.2 545.95 L31.9 545.98 L32.6 546.19 L33.3 546.31 L34 546.5 L34.7 546.47 L35.4 546.61 L36.1 546.4 L36.8 546.62 L37.5 546.65 L38.2 546.45 L38.9 546.94 L39.6 546.71 L40.3 546.84 L41 546.47 L41.7 546.44 L42.4 546.5 L43.1 546.53 L43.8 546.66 L44.5 546.56 L45.2 546.39 L45.9 546.25 L46.6 546.3 L47.3 546.61 L48 546.16 L48.7 546.32 L49.4 546.3 L50.1 545.85 L50.8 546.1 L51.5 546.28 L52.2 545.54 L52.9 545.8 L53.6 545.76 L54.3 545.53 L55 545.7 L55.7 545.48 L56.4 545.07 L57.1 545.39 L57.8 545.2 L58.5 545.08 L59.2 544.99 L59.9 544.59 L60.6 544.34 L61.3 543.85 L62 544.02 L62.7 543.56 L63.4 543.39 L64.1 543.02 L64.8 542.88 L65.5 542.76 L66.2 542.91 L66.9 542.01 L67.6 541.86 L68.3 541.9 L69 541.79 L69.7 541.23 L70.4 540.31 L71.1 539.74 L71.8 539.84 L72.5 539.12 L73.2 538.51 L73.9 538.38 L74.6 537.82 L75.3 537.02 L76 536.39 L76.7 535.74 L77.4 535.23 L78.1 534.24 L78.8 533.36 L79.5 532.48 L80.2 531.2 L80.9 530.83 L81.6 529.64 L82.3 528.11 L83 525.74 L83.7 523.6 L84.4 521.11 L85.1 517.57 L85.8 514.83 L86.5 512 L87.2 508.3 L87.9 505.55 L88.6 501.99 L89.3 498.57 L90 495.41 L90.7 492.22 L91.4 488.85 L92.1 485.75 L92.8 481.83 L93.5 478.26 L94.2 475.35 L94.9 472.66 L95.6 470.4 L96.3 469.12 L97 468.1 L97.7 467.2 L98.4 467.14 L99.1 468.05 L99.8 469.11 L100.5 470.47 L101.2 472.58 L101.9 474.17 L102.6 476.9 L103.3 478.82 L104 481.68 L104.7 484.92 L105.4 487.93 L106.1 490.53 L106.8 492.91 L107.5 495.3 L108.2 497.64 L108.9 499.95 L109.6 501.87 L110.3 503.85 L111 505.69 L111.7 507.28 L112.4 509.04 L113.1 510.51 L113.8 512.21 L114.5 513.19 L115.2 514.25 L115.9 515.37 L116.6 516.46 L117.3 517.56 L118 518.13 L118.7 518.99 L119.4 519.91 L120.1 519.56 L120.8 520.28 L121.5 520.89 L122.2 521.2 L122.9 521.39 L123.6 521.44 L124.3 521.82 L125 521.92 L125.7 521.94 L126.4 522.76 L127.1 522.61 L127.8 522.76 L128.5 523.22 L129.2 523.59 L129.9 524.02 L130.6 523.88 L131.3 524.69 L132 525.32 L132.7 525.17 L133.4 525.61 L134.1 526.01 L134.8 526.18 L135.5 526.47 L136.2 525.98 L136.9 526.36 L137.6 526.45 L138.3 526.68 L139 526.79 L139.7 525.99 L140.4 526.66 L141.1 525.98 L141.8 526.16 L142.5 525.43 L143.2 525.43 L143.9 525.28 L144.6 524.65 L145.3 524.36 L146 524.16 L146.7 523.69 L147.4 523.27 L148.1 523.18 L148.8 522.67 L149.5 522 L150.2 522.25 L150.9 521.16 L151.6 521.34 L152.3 520.97 L153 521.04 L153.7 521.3 L154.4 521.48 L155.1 521.93 L155.8 521.92 L156.5 522.37 L157.2 523.21 L157.9 523.26 L158.6 523.57 L159.3 523.81 L160 524.7 L160.7 524.95 L161.4 525.43 L162.1 525.27 L162.8 525.76 L163.5 525.81 L164.2 526.43 L164.9 526.79 L165.6 526.45 L166.3 527.08 L167 527.07 L167.7 526.93 L168.4 526.65 L169.1 527.39 L169.8 527.15 L170.5 527.09 L171.2 527.34 L171.9 527.38 L172.6 527.63 L173.3 527.17 L174 527.65 L174.7 527.77 L175.4 527.82 L176.1 527.55 L176.8 527.48 L177.5 527.88 L178.2 527.73 L178.9 527.77 L179.6 528.07 L180.3 527.77 L181 527.41 L181.7 527.84 L182.4 527.6 L183.1 528.21 L183.8 528.19 L184.5 528.1 L185.2 528.33 L185.9 528.56 L186.6 528.46 L187.3 528.78 L188 528.65 L188.7 529.16 L189.4 529.71 L190.1 530.44 L190.8 531.05 L191.5 532.76 L192.2 533.82 L192.9 535.69 L193.6 537.2 L194.3 539.39 L195 540.63 L195.7 542.63 L196.4 544.32 L197.1 545.91 L197.8 547.08 L198.5 548.11 L199.2 548.82 L199.9 548.54 L200.6 548.56 L201.3 548.56 L202 548.2 L202.7 547.82 L203.4 547.76 L204.1 547.85 L204.8 547.05 L205.5 546.99 L206.2 547.03 L206.9 546.7 L207.6 546.25 L208.3 546.09 L209 545.63 L209.7 545.01 L210.4 544.57 L211.1 544.39 L211.8 544.32 L212.5 543.65 L213.2 543.21 L213.9 542.83 L214.6 542.24 L215.3 542.08 L216 541.41 L216.7 541.29 L217.4 540.34 L218.1 540.52 L218.8 540.03" fill="none" stroke="#c3262e" stroke-width="0.85" stroke-linejoin="round" />
<path d="M20.7 552.45 L21.4 552.25 L22.1 551.87 L22.8 552.15 L23.5 552.39 L24.2 552.25 L24.9 552.51 L25.6 552.52 L26.3 552.51 L27 552.46 L27.7 552.68 L28.4 552.56 L29.1 552.53 L29.8 552.04 L30.5 552.65 L31.2 552.75 L31.9 552.45 L32.6 552.43 L33.3 552.93 L34 552.21 L34.7 552.67 L35.4 553.08 L36.1 552.43 L36.8 552.77 L37.5 553.02 L38.2 552.63 L38.9 552.79 L39.6 552.87 L40.3 552.52 L41 552.69 L41.7 552.78 L42.4 552.9 L43.1 552.73 L43.8 552.71 L44.5 552.55 L45.2 552.68 L45.9 552.93 L46.6 552.78 L47.3 552.59 L48 552.58 L48.7 553.28 L49.4 552.97 L50.1 552.86 L50.8 552.2 L51.5 552.83 L52.2 552.79 L52.9 553.01 L53.6 552.74 L54.3 552.61 L55 552.7 L55.7 552.17 L56.4 552.69 L57.1 552.46 L57.8 552.13 L58.5 552.4 L59.2 552.35 L59.9 551.54 L60.6 551.51 L61.3 551.52 L62 551.31 L62.7 551.01 L63.4 550.71 L64.1 551.14 L64.8 550.75 L65.5 550.15 L66.2 550 L66.9 550.5 L67.6 550.26 L68.3 550.34 L69 550.05 L69.7 549.61 L70.4 549.71 L71.1 549.07 L71.8 549.17 L72.5 549.07 L73.2 548.89 L73.9 548.28 L74.6 547.98 L75.3 547.61 L76 547.07 L76.7 546.55 L77.4 545.84 L78.1 545.06 L78.8 544.53 L79.5 543.56 L80.2 542.49 L80.9 541.55 L81.6 540.6 L82.3 539.4 L83 538.1 L83.7 536.06 L84.4 533.55 L85.1 530.65 L85.8 527.54 L86.5 525.03 L87.2 522.06 L87.9 518.76 L88.6 515.58 L89.3 512.94 L90 510.1 L90.7 507.49 L91.4 505.59 L92.1 503.21 L92.8 501.39 L93.5 498.96 L94.2 496.77 L94.9 495.49 L95.6 494.8 L96.3 493.58 L97 492.89 L97.7 492.82 L98.4 493.22 L99.1 493.66 L99.8 494.3 L100.5 495.43 L101.2 496.22 L101.9 497.11 L102.6 498.39 L103.3 499.89 L104 501.19 L104.7 502.88 L105.4 504.36 L106.1 506.58 L106.8 508.82 L107.5 510.61 L108.2 512.73 L108.9 514.47 L109.6 516.38 L110.3 517.98 L111 520.28 L111.7 521.66 L112.4 522.85 L113.1 524.19 L113.8 525.84 L114.5 526.33 L115.2 527.58 L115.9 528.55 L116.6 529.22 L117.3 529.79 L118 530.8 L118.7 531.5 L119.4 532.26 L120.1 532.73 L120.8 533.06 L121.5 533.65 L122.2 533.97 L122.9 534.24 L123.6 534.52 L124.3 534.73 L125 535.16 L125.7 535.04 L126.4 535.34 L127.1 535.67 L127.8 535.57 L128.5 535.97 L129.2 535.86 L129.9 536.33 L130.6 536.8 L131.3 537.02 L132 537.11 L132.7 537.29 L133.4 537.25 L134.1 538.1 L134.8 538.02 L135.5 538.31 L136.2 538.07 L136.9 538.35 L137.6 538.15 L138.3 538.78 L139 538.9 L139.7 538.4 L140.4 538.8 L141.1 538.88 L141.8 538.28 L142.5 538.1 L143.2 538.05 L143.9 537.92 L144.6 537.55 L145.3 537.65 L146 537.55 L146.7 537.5 L147.4 537.38 L148.1 537.4 L148.8 537.2 L149.5 536.59 L150.2 536.66 L150.9 536.48 L151.6 536.45 L152.3 536.66 L153 536.75 L153.7 536.98 L154.4 536.74 L155.1 537.02 L155.8 537.51 L156.5 537.72 L157.2 537.96 L157.9 538.25 L158.6 538.33 L159.3 538.8 L160 538.87 L160.7 538.89 L161.4 538.86 L162.1 539.04 L162.8 538.61 L163.5 539.02 L164.2 539.29 L164.9 539.04 L165.6 539.43 L166.3 539.46 L167 539.2 L167.7 539.47 L168.4 539.51 L169.1 539.71 L169.8 539.79 L170.5 539.71 L171.2 539.6 L171.9 539.8 L172.6 539.89 L173.3 540.12 L174 540.12 L174.7 540.01 L175.4 539.99 L176.1 540.28 L176.8 540.29 L177.5 540.3 L178.2 540.57 L178.9 540.57 L179.6 540.77 L180.3 540.93 L181 540.83 L181.7 541.46 L182.4 541.03 L183.1 541.43 L183.8 541.35 L184.5 541.69 L185.2 541.14 L185.9 541.64 L186.6 542.04 L187.3 542.33 L188 542.92 L188.7 542.78 L189.4 543.27 L190.1 543.5 L190.8 544.04 L191.5 544.68 L192.2 545.44 L192.9 546.61 L193.6 547.42 L194.3 549.05 L195 549.8 L195.7 551.44 L196.4 553.5 L197.1 554.8 L197.8 556.51 L198.5 558.08 L199.2 558.69 L199.9 558.88 L200.6 559.11 L201.3 558.96 L202 558.64 L202.7 557.98 L203.4 558.18 L204.1 557.83 L204.8 557.14 L205.5 556.8 L206.2 556.25 L206.9 556.2 L207.6 555.34 L208.3 555.17 L209 554.51 L209.7 554.04 L210.4 553.9 L211.1 553.58 L211.8 552.84 L212.5 552.23 L213.2 552.04 L213.9 551.37 L214.6 550.96 L215.3 550.73 L216 550.21 L216.7 549.46 L217.4 549.64 L218.1 548.85 L218.8 548.72" fill="none" stroke="#e27a7e" stroke-width="0.85" stroke-linejoin="round" />
<path d="M20.7 559.79 L21.4 559.45 L22.1 560.15 L22.8 560.07 L23.5 559.56 L24.2 559.5 L24.9 559.48 L25.6 560.04 L26.3 559.71 L27 559.8 L27.7 559.75 L28.4 559.79 L29.1 559.6 L29.8 559.83 L30.5 559.54 L31.2 559.81 L31.9 559.89 L32.6 559.93 L33.3 559.79 L34 559.66 L34.7 559.88 L35.4 559.75 L36.1 560.17 L36.8 560.01 L37.5 559.84 L38.2 559.77 L38.9 559.72 L39.6 559.68 L40.3 559.8 L41 559.93 L41.7 559.97 L42.4 559.98 L43.1 560.29 L43.8 559.73 L44.5 559.87 L45.2 560.42 L45.9 559.49 L46.6 559.75 L47.3 559.89 L48 559.88 L48.7 559.92 L49.4 559.79 L50.1 559.9 L50.8 559.83 L51.5 559.96 L52.2 559.42 L52.9 559.61 L53.6 559.77 L54.3 559.55 L55 559.54 L55.7 559.85 L56.4 559.58 L57.1 559.82 L57.8 559.82 L58.5 559.71 L59.2 559.73 L59.9 559.58 L60.6 559.29 L61.3 559.52 L62 559.56 L62.7 559.29 L63.4 559.29 L64.1 559.37 L64.8 558.93 L65.5 559.12 L66.2 559.23 L66.9 558.61 L67.6 558.6 L68.3 558.38 L69 558.56 L69.7 558.14 L70.4 558.07 L71.1 557.55 L71.8 557.45 L72.5 557.19 L73.2 556.55 L73.9 556.88 L74.6 556.44 L75.3 555.54 L76 555.65 L76.7 555.08 L77.4 554.82 L78.1 554.43 L78.8 553.67 L79.5 553.51 L80.2 553.39 L80.9 552.45 L81.6 551.77 L82.3 551.02 L83 550.26 L83.7 549.63 L84.4 548.79 L85.1 547.28 L85.8 545.86 L86.5 544.79 L87.2 542.7 L87.9 541.09 L88.6 539.64 L89.3 537.74 L90 535.41 L90.7 533.33 L91.4 531.64 L92.1 529.8 L92.8 527.74 L93.5 526.23 L94.2 524.51 L94.9 523.17 L95.6 521.68 L96.3 520.52 L97 519.68 L97.7 519.53 L98.4 519.47 L99.1 519.22 L99.8 519.71 L100.5 519.79 L101.2 520.56 L101.9 521.51 L102.6 522.71 L103.3 523.56 L104 524.98 L104.7 526.46 L105.4 527.58 L106.1 529.3 L106.8 530.5 L107.5 531.97 L108.2 532.95 L108.9 534.06 L109.6 535.73 L110.3 537.01 L111 538.03 L111.7 539.41 L112.4 540.18 L113.1 541 L113.8 542 L114.5 542.31 L115.2 543.15 L115.9 543.88 L116.6 544.6 L117.3 544.9 L118 545.45 L118.7 545.67 L119.4 546.25 L120.1 546.88 L120.8 546.74 L121.5 547.65 L122.2 547.33 L122.9 547.71 L123.6 547.97 L124.3 548.35 L125 548.1 L125.7 548.11 L126.4 548.82 L127.1 549.02 L127.8 549.14 L128.5 549.7 L129.2 549.36 L129.9 549.53 L130.6 549.82 L131.3 549.85 L132 550.24 L132.7 549.79 L133.4 550.08 L134.1 549.57 L134.8 550.53 L135.5 550.39 L136.2 550.74 L136.9 551.08 L137.6 550.73 L138.3 550.76 L139 550.79 L139.7 550.8 L140.4 550.92 L141.1 551.24 L141.8 551.18 L142.5 551.25 L143.2 551.25 L143.9 551.52 L144.6 551.48 L145.3 551.4 L146 551.61 L146.7 551.49 L147.4 551.33 L148.1 551.9 L148.8 551.74 L149.5 551.51 L150.2 551.96 L150.9 551.87 L151.6 551.55 L152.3 552.25 L153 552.06 L153.7 552.23 L154.4 552.16 L155.1 552.15 L155.8 551.94 L156.5 552.5 L157.2 552.38 L157.9 552.38 L158.6 552.57 L159.3 552.58 L160 552.77 L160.7 552.62 L161.4 552.76 L162.1 552.41 L162.8 552.83 L163.5 553.12 L164.2 553.33 L164.9 553.07 L165.6 553.2 L166.3 553.62 L167 553.33 L167.7 553.63 L168.4 553.91 L169.1 553.68 L169.8 554.02 L170.5 553.73 L171.2 554.02 L171.9 554.07 L172.6 554.22 L173.3 554.53 L174 554.9 L174.7 554.4 L175.4 554.54 L176.1 554.87 L176.8 554.68 L177.5 555.11 L178.2 555.25 L178.9 555.21 L179.6 555.5 L180.3 555.21 L181 555.8 L181.7 555.48 L182.4 555.78 L183.1 555.95 L183.8 556.12 L184.5 556.51 L185.2 556.49 L185.9 556.54 L186.6 556.88 L187.3 557.23 L188 557.07 L188.7 557.29 L189.4 557.62 L190.1 557.58 L190.8 557.45 L191.5 558.43 L192.2 558.62 L192.9 558.04 L193.6 558.71 L194.3 559.07 L195 559.44 L195.7 559.62 L196.4 559.64 L197.1 559.65 L197.8 560 L198.5 560.24 L199.2 559.82 L199.9 559.78 L200.6 559.89 L201.3 559.39 L202 559.59 L202.7 559.4 L203.4 559.42 L204.1 559.04 L204.8 558.86 L205.5 558.83 L206.2 558.76 L206.9 558.49 L207.6 558.47 L208.3 558.46 L209 558.39 L209.7 558.33 L210.4 557.68 L211.1 557.6 L211.8 557.04 L212.5 557.78 L213.2 557.11 L213.9 557.1 L214.6 557.07 L215.3 556.55 L216 556.78 L216.7 556.55 L217.4 556.07 L218.1 556.39 L218.8 556.49" fill="none" stroke="#f6c0bc" stroke-width="0.85" stroke-linejoin="round" />
<path d="M20.7 563.86 L21.4 563.74 L22.1 563.8 L22.8 563.79 L23.5 563.96 L24.2 563.66 L24.9 563.88 L25.6 563.63 L26.3 563.86 L27 563.56 L27.7 563.7 L28.4 564.07 L29.1 563.82 L29.8 563.71 L30.5 563.51 L31.2 563.59 L31.9 563.79 L32.6 563.95 L33.3 563.85 L34 563.87 L34.7 563.77 L35.4 564.05 L36.1 563.71 L36.8 563.68 L37.5 563.97 L38.2 563.81 L38.9 563.75 L39.6 563.69 L40.3 563.76 L41 563.94 L41.7 563.88 L42.4 563.57 L43.1 563.9 L43.8 563.85 L44.5 563.62 L45.2 563.97 L45.9 563.76 L46.6 563.75 L47.3 563.97 L48 564.07 L48.7 563.67 L49.4 563.89 L50.1 563.62 L50.8 564.25 L51.5 563.68 L52.2 564.01 L52.9 563.63 L53.6 563.92 L54.3 564.19 L55 563.22 L55.7 563.63 L56.4 563.8 L57.1 563.66 L57.8 563.53 L58.5 564.08 L59.2 563.64 L59.9 563.27 L60.6 563.75 L61.3 563.2 L62 563.73 L62.7 563.33 L63.4 563.42 L64.1 563.57 L64.8 563.27 L65.5 562.88 L66.2 562.73 L66.9 563.2 L67.6 563.01 L68.3 562.58 L69 562.79 L69.7 562.59 L70.4 562.48 L71.1 561.75 L71.8 561.99 L72.5 562.06 L73.2 561.86 L73.9 561.72 L74.6 560.86 L75.3 561.18 L76 561.01 L76.7 561.17 L77.4 560.18 L78.1 559.99 L78.8 559.71 L79.5 559.49 L80.2 558.78 L80.9 558.6 L81.6 557.64 L82.3 557.22 L83 556.38 L83.7 555.78 L84.4 554.82 L85.1 553.81 L85.8 553.48 L86.5 552.38 L87.2 551.17 L87.9 550.19 L88.6 549.17 L89.3 547.57 L90 546.56 L90.7 545.54 L91.4 544.45 L92.1 543.3 L92.8 542.01 L93.5 541.77 L94.2 540.72 L94.9 539.85 L95.6 539.05 L96.3 538.51 L97 537.83 L97.7 537.3 L98.4 537.18 L99.1 537.29 L99.8 537.56 L100.5 537.89 L101.2 538.8 L101.9 539.1 L102.6 540.32 L103.3 540.89 L104 542.1 L104.7 543.23 L105.4 543.87 L106.1 544.46 L106.8 545.35 L107.5 546.12 L108.2 546.49 L108.9 547.45 L109.6 548.31 L110.3 548.85 L111 549.59 L111.7 550.29 L112.4 550.79 L113.1 551.24 L113.8 551.54 L114.5 551.71 L115.2 552.09 L115.9 552.34 L116.6 552.61 L117.3 552.9 L118 552.83 L118.7 553.34 L119.4 553.61 L120.1 553.62 L120.8 554 L121.5 554.29 L122.2 554.33 L122.9 554.94 L123.6 554.17 L124.3 554.8 L125 554.63 L125.7 555.35 L126.4 555.83 L127.1 554.93 L127.8 555.59 L128.5 555.79 L129.2 555.74 L129.9 556.02 L130.6 555.56 L131.3 556.28 L132 556.28 L132.7 556.29 L133.4 556.25 L134.1 556.58 L134.8 556.43 L135.5 556.64 L136.2 556.57 L136.9 556.28 L137.6 556.79 L138.3 556.9 L139 557.07 L139.7 556.8 L140.4 557.02 L141.1 557.2 L141.8 557.13 L142.5 557.37 L143.2 557.53 L143.9 556.96 L144.6 556.75 L145.3 557.3 L146 557.43 L146.7 557.3 L147.4 557.27 L148.1 556.98 L148.8 556.96 L149.5 557.28 L150.2 556.94 L150.9 556.78 L151.6 556.98 L152.3 557.72 L153 557.65 L153.7 557.19 L154.4 557.23 L155.1 557.48 L155.8 557.35 L156.5 557.82 L157.2 557.61 L157.9 557.48 L158.6 558.03 L159.3 557.72 L160 557.95 L160.7 557.98 L161.4 557.99 L162.1 558.2 L162.8 558.07 L163.5 557.92 L164.2 557.92 L164.9 558.19 L165.6 558.37 L166.3 558.59 L167 558.69 L167.7 558.86 L168.4 558.85 L169.1 558.75 L169.8 558.84 L170.5 558.63 L171.2 559.09 L171.9 559.3 L172.6 559.38 L173.3 559.33 L174 559.4 L174.7 559.7 L175.4 559.59 L176.1 559.81 L176.8 559.86 L177.5 559.87 L178.2 560.16 L178.9 559.87 L179.6 559.99 L180.3 559.98 L181 560.06 L181.7 560.61 L182.4 560.73 L183.1 560.46 L183.8 560.64 L184.5 560.84 L185.2 560.85 L185.9 561 L186.6 560.59 L187.3 560.79 L188 561.08 L188.7 561.35 L189.4 561.16 L190.1 561.04 L190.8 561.21 L191.5 561.22 L192.2 561.26 L192.9 561.8 L193.6 561.44 L194.3 561.64 L195 562.13 L195.7 562 L196.4 561.89 L197.1 561.75 L197.8 562.01 L198.5 562.3 L199.2 562.14 L199.9 562.3 L200.6 562.09 L201.3 562.2 L202 562.08 L202.7 562.23 L203.4 562.42 L204.1 561.88 L204.8 562.17 L205.5 562.24 L206.2 562.09 L206.9 562.16 L207.6 562.39 L208.3 562.65 L209 562.39 L209.7 562.36 L210.4 562 L211.1 562.73 L211.8 562.39 L212.5 562.4 L213.2 562.22 L213.9 562.47 L214.6 562.29 L215.3 562.56 L216 562.67 L216.7 562.62 L217.4 562.7 L218.1 562.5 L218.8 562.97" fill="none" stroke="#b8d8ee" stroke-width="0.85" stroke-linejoin="round" />
<path d="M20.7 568.04 L21.4 568.37 L22.1 568.26 L22.8 568.21 L23.5 568.35 L24.2 568.48 L24.9 568.19 L25.6 568.41 L26.3 568.73 L27 568.59 L27.7 568.43 L28.4 568.49 L29.1 568.45 L29.8 568.47 L30.5 568.64 L31.2 568.48 L31.9 568.03 L32.6 568.52 L33.3 568.35 L34 568.67 L34.7 568.43 L35.4 568.59 L36.1 569.01 L36.8 568.37 L37.5 568.36 L38.2 568.32 L38.9 568.13 L39.6 568.24 L40.3 568.7 L41 568.51 L41.7 568.27 L42.4 568.35 L43.1 568.78 L43.8 568.51 L44.5 568.6 L45.2 568.74 L45.9 568.95 L46.6 569.07 L47.3 568.89 L48 568.72 L48.7 568.73 L49.4 569.06 L50.1 568.98 L50.8 568.63 L51.5 568.79 L52.2 568.75 L52.9 568.7 L53.6 568.59 L54.3 568.42 L55 568.57 L55.7 568.36 L56.4 568.91 L57.1 568.76 L57.8 568.4 L58.5 568.91 L59.2 568.79 L59.9 568.22 L60.6 568.95 L61.3 568.73 L62 568.96 L62.7 568.27 L63.4 568.6 L64.1 568.54 L64.8 568.46 L65.5 568.41 L66.2 568.54 L66.9 567.98 L67.6 567.98 L68.3 567.88 L69 567.98 L69.7 567.9 L70.4 568.01 L71.1 567.9 L71.8 567.75 L72.5 567.51 L73.2 567.44 L73.9 567.6 L74.6 567.43 L75.3 567.16 L76 566.91 L76.7 567.1 L77.4 566.47 L78.1 566.49 L78.8 566.34 L79.5 565.8 L80.2 565.74 L80.9 565.05 L81.6 565.17 L82.3 564.68 L83 563.98 L83.7 564.09 L84.4 563.41 L85.1 563.44 L85.8 562.6 L86.5 562.23 L87.2 561.83 L87.9 561.2 L88.6 560.81 L89.3 560.14 L90 559.9 L90.7 559.29 L91.4 558.89 L92.1 557.89 L92.8 558.28 L93.5 557.66 L94.2 556.92 L94.9 556.94 L95.6 556.7 L96.3 556.56 L97 555.93 L97.7 556.34 L98.4 555.96 L99.1 556.52 L99.8 556.15 L100.5 556.5 L101.2 556.53 L101.9 556.66 L102.6 557.4 L103.3 557.68 L104 558.11 L104.7 558.29 L105.4 558.37 L106.1 558.54 L106.8 559.15 L107.5 559.57 L108.2 559.96 L108.9 560.65 L109.6 560.99 L110.3 561.24 L111 561.65 L111.7 561.87 L112.4 562.17 L113.1 562.49 L113.8 562.73 L114.5 562.59 L115.2 562.61 L115.9 563.36 L116.6 563.26 L117.3 563.6 L118 563.19 L118.7 563.59 L119.4 563.79 L120.1 563.61 L120.8 563.91 L121.5 564.26 L122.2 564.44 L122.9 564.64 L123.6 564.24 L124.3 564.23 L125 564.7 L125.7 564.87 L126.4 564.8 L127.1 564.58 L127.8 565.06 L128.5 565.12 L129.2 565.13 L129.9 564.97 L130.6 565.18 L131.3 565.32 L132 565.08 L132.7 564.86 L133.4 565.33 L134.1 565.4 L134.8 565.34 L135.5 565.54 L136.2 565.28 L136.9 565.42 L137.6 565.41 L138.3 565.62 L139 565.86 L139.7 565.53 L140.4 566.04 L141.1 565.98 L141.8 565.88 L142.5 565.88 L143.2 566.17 L143.9 565.83 L144.6 565.89 L145.3 565.75 L146 566.1 L146.7 566.32 L147.4 566.2 L148.1 566.22 L148.8 566.13 L149.5 566.24 L150.2 565.95 L150.9 566.48 L151.6 566.21 L152.3 566.09 L153 566.17 L153.7 566.18 L154.4 566.53 L155.1 566.58 L155.8 566.12 L156.5 566.59 L157.2 566.59 L157.9 566.31 L158.6 566.14 L159.3 566.3 L160 566.33 L160.7 566.54 L161.4 566.4 L162.1 566.08 L162.8 566.54 L163.5 566.19 L164.2 566.68 L164.9 566.27 L165.6 566.37 L166.3 566.35 L167 566.41 L167.7 566.78 L168.4 566.69 L169.1 566.64 L169.8 566.59 L170.5 566.21 L171.2 566.42 L171.9 566.41 L172.6 566.32 L173.3 566.61 L174 566.36 L174.7 566.36 L175.4 566.29 L176.1 566.08 L176.8 566.61 L177.5 566.76 L178.2 566.53 L178.9 566.3 L179.6 565.95 L180.3 566.52 L181 566.72 L181.7 566.52 L182.4 566.63 L183.1 566.72 L183.8 566.61 L184.5 566.26 L185.2 566.51 L185.9 566.4 L186.6 565.87 L187.3 566.01 L188 565.72 L188.7 565.83 L189.4 565.75 L190.1 565.15 L190.8 564.64 L191.5 564.99 L192.2 564.5 L192.9 564.43 L193.6 563.64 L194.3 563.94 L195 563.99 L195.7 563.84 L196.4 563.3 L197.1 563.34 L197.8 563.26 L198.5 563.58 L199.2 563.77 L199.9 563.86 L200.6 563.93 L201.3 564.77 L202 564.99 L202.7 565.68 L203.4 566.09 L204.1 566.81 L204.8 567.12 L205.5 567.17 L206.2 567.69 L206.9 568.33 L207.6 568.22 L208.3 568.75 L209 569.24 L209.7 569.56 L210.4 569.71 L211.1 569.62 L211.8 569.88 L212.5 570.41 L213.2 570.64 L213.9 571.27 L214.6 570.76 L215.3 571.31 L216 571.38 L216.7 571.02 L217.4 571.3 L218.1 571.59 L218.8 571.55" fill="none" stroke="#74b2de" stroke-width="0.85" stroke-linejoin="round" />
<path d="M20.7 576.19 L21.4 575.93 L22.1 576.19 L22.8 575.96 L23.5 575.98 L24.2 576.19 L24.9 575.97 L25.6 576.14 L26.3 576.4 L27 576.08 L27.7 576.05 L28.4 576.22 L29.1 576 L29.8 576.29 L30.5 575.81 L31.2 576.19 L31.9 575.96 L32.6 575.9 L33.3 576.42 L34 575.89 L34.7 576.41 L35.4 576.19 L36.1 576.35 L36.8 575.86 L37.5 576.29 L38.2 576.34 L38.9 576.02 L39.6 576.02 L40.3 576.53 L41 576.07 L41.7 575.95 L42.4 575.91 L43.1 576.12 L43.8 576.09 L44.5 576.06 L45.2 576.36 L45.9 575.95 L46.6 576.11 L47.3 576.3 L48 575.8 L48.7 576.21 L49.4 576.36 L50.1 575.72 L50.8 575.76 L51.5 575.77 L52.2 575.6 L52.9 576.06 L53.6 575.59 L54.3 576.05 L55 576.24 L55.7 575.62 L56.4 575.87 L57.1 575.54 L57.8 576.07 L58.5 575.76 L59.2 575.84 L59.9 575.9 L60.6 575.99 L61.3 575.8 L62 575.86 L62.7 575.73 L63.4 575.86 L64.1 575.59 L64.8 575.82 L65.5 575.41 L66.2 575.68 L66.9 576.15 L67.6 575.77 L68.3 575.49 L69 575.77 L69.7 575.51 L70.4 575.36 L71.1 575.52 L71.8 575.79 L72.5 575.7 L73.2 575.57 L73.9 575.37 L74.6 575.31 L75.3 575.75 L76 575.48 L76.7 575.2 L77.4 574.91 L78.1 575 L78.8 575.71 L79.5 574.92 L80.2 575.06 L80.9 575.04 L81.6 574.89 L82.3 574.78 L83 574.47 L83.7 574.43 L84.4 574.87 L85.1 574.25 L85.8 574.42 L86.5 573.73 L87.2 573.82 L87.9 573.73 L88.6 573.67 L89.3 573.03 L90 573.17 L90.7 572.92 L91.4 572.5 L92.1 572.57 L92.8 572.11 L93.5 571.94 L94.2 571.89 L94.9 571.16 L95.6 571.51 L96.3 571.18 L97 570.98 L97.7 571.12 L98.4 571.35 L99.1 571.15 L99.8 571.54 L100.5 571.14 L101.2 571.22 L101.9 571.91 L102.6 571.81 L103.3 572.05 L104 571.82 L104.7 572.27 L105.4 572.27 L106.1 572.44 L106.8 572.4 L107.5 572.72 L108.2 572.44 L108.9 572.46 L109.6 572.45 L110.3 573.06 L111 572.77 L111.7 572.79 L112.4 572.9 L113.1 573.08 L113.8 572.99 L114.5 573.27 L115.2 573.27 L115.9 573.36 L116.6 573.34 L117.3 573.61 L118 573.57 L118.7 573.74 L119.4 573.81 L120.1 573.87 L120.8 573.41 L121.5 573.77 L122.2 573.76 L122.9 574.1 L123.6 573.66 L124.3 573.86 L125 573.97 L125.7 573.98 L126.4 574.27 L127.1 574 L127.8 574.3 L128.5 573.83 L129.2 573.77 L129.9 574.39 L130.6 574.25 L131.3 574.27 L132 574.21 L132.7 574.29 L133.4 573.96 L134.1 574.4 L134.8 574.12 L135.5 574.43 L136.2 574.26 L136.9 573.86 L137.6 574 L138.3 574.5 L139 574.26 L139.7 574.22 L140.4 574.36 L141.1 574.23 L141.8 574.22 L142.5 574.36 L143.2 574.38 L143.9 574.67 L144.6 574.39 L145.3 574.76 L146 574.76 L146.7 574.75 L147.4 574.63 L148.1 574.45 L148.8 574.46 L149.5 574.42 L150.2 574.31 L150.9 574.45 L151.6 574.35 L152.3 574.81 L153 574.6 L153.7 574.41 L154.4 574.12 L155.1 574.51 L155.8 574.44 L156.5 574.32 L157.2 574.31 L157.9 574.1 L158.6 574.67 L159.3 574.55 L160 575.09 L160.7 574.58 L161.4 574.56 L162.1 574.89 L162.8 574.63 L163.5 574.65 L164.2 574.55 L164.9 574.51 L165.6 574.94 L166.3 574.85 L167 575 L167.7 574.6 L168.4 574.68 L169.1 574.51 L169.8 574.89 L170.5 574.43 L171.2 574.84 L171.9 574.96 L172.6 575.05 L173.3 574.61 L174 575.05 L174.7 574.72 L175.4 574.75 L176.1 574.67 L176.8 575.2 L177.5 575.33 L178.2 574.92 L178.9 574.92 L179.6 575.04 L180.3 575.64 L181 575.37 L181.7 575.08 L182.4 574.85 L183.1 575.09 L183.8 575.47 L184.5 575.61 L185.2 575.18 L185.9 575.09 L186.6 575.11 L187.3 574.81 L188 575.33 L188.7 574.89 L189.4 575.27 L190.1 574.65 L190.8 574.59 L191.5 574.66 L192.2 574.12 L192.9 574.06 L193.6 573.49 L194.3 572.85 L195 572.81 L195.7 572.5 L196.4 571.64 L197.1 572.03 L197.8 571.41 L198.5 571.17 L199.2 570.45 L199.9 570.64 L200.6 570.86 L201.3 571.41 L202 571.25 L202.7 571.76 L203.4 571.95 L204.1 572.72 L204.8 573.21 L205.5 573.11 L206.2 573.53 L206.9 573.92 L207.6 574.29 L208.3 574.26 L209 574.21 L209.7 574.17 L210.4 574.34 L211.1 574.52 L211.8 574.79 L212.5 574.86 L213.2 575.3 L213.9 575.12 L214.6 574.93 L215.3 575.54 L216 575.49 L216.7 575.4 L217.4 575.3 L218.1 575.13 L218.8 575.36" fill="none" stroke="#3f88c6" stroke-width="0.85" stroke-linejoin="round" />
<path d="M20.7 578.64 L21.4 578.53 L22.1 578.84 L22.8 578.84 L23.5 578.92 L24.2 578.92 L24.9 579.07 L25.6 578.62 L26.3 578.99 L27 578.59 L27.7 578.93 L28.4 578.82 L29.1 578.83 L29.8 578.98 L30.5 578.78 L31.2 579 L31.9 578.95 L32.6 578.8 L33.3 578.66 L34 578.62 L34.7 578.66 L35.4 578.73 L36.1 578.76 L36.8 579.36 L37.5 578.89 L38.2 578.91 L38.9 578.58 L39.6 578.61 L40.3 578.69 L41 578.79 L41.7 578.54 L42.4 579.07 L43.1 578.63 L43.8 578.95 L44.5 578.27 L45.2 578.73 L45.9 578.79 L46.6 578.77 L47.3 578.85 L48 578.78 L48.7 578.75 L49.4 578.34 L50.1 578.57 L50.8 578.25 L51.5 578.84 L52.2 578.77 L52.9 578.67 L53.6 578.54 L54.3 578.58 L55 579.07 L55.7 579.04 L56.4 578.68 L57.1 578.95 L57.8 578.37 L58.5 578.3 L59.2 578.59 L59.9 578.51 L60.6 578.57 L61.3 578.71 L62 579.28 L62.7 578.54 L63.4 578.68 L64.1 578.72 L64.8 578.66 L65.5 578.85 L66.2 579.01 L66.9 578.41 L67.6 578.69 L68.3 578.6 L69 578.72 L69.7 578.34 L70.4 578.29 L71.1 578.18 L71.8 578.74 L72.5 578.68 L73.2 578.65 L73.9 578.16 L74.6 578.56 L75.3 578.48 L76 578.35 L76.7 578.44 L77.4 578.76 L78.1 578.73 L78.8 578.62 L79.5 578.72 L80.2 578.5 L80.9 578.63 L81.6 578.62 L82.3 578.72 L83 578.6 L83.7 578.58 L84.4 578.58 L85.1 578.48 L85.8 579.05 L86.5 578.71 L87.2 578.69 L87.9 579.06 L88.6 578.88 L89.3 578.29 L90 578.74 L90.7 578.77 L91.4 578.98 L92.1 578.86 L92.8 578.75 L93.5 578.36 L94.2 578.42 L94.9 578.65 L95.6 578.7 L96.3 578.39 L97 578.52 L97.7 578.52 L98.4 578.61 L99.1 578.67 L99.8 578.54 L100.5 578.35 L101.2 578.85 L101.9 578.92 L102.6 578.58 L103.3 578.81 L104 578.69 L104.7 578.74 L105.4 578.71 L106.1 578.46 L106.8 578.73 L107.5 578.82 L108.2 578.44 L108.9 579.01 L109.6 579.04 L110.3 578.99 L111 579.03 L111.7 578.78 L112.4 578.57 L113.1 578.52 L113.8 578.48 L114.5 578.67 L115.2 578.64 L115.9 578.79 L116.6 578.25 L117.3 579.12 L118 579.12 L118.7 578.67 L119.4 578.81 L120.1 578.77 L120.8 578.74 L121.5 578.65 L122.2 578.67 L122.9 578.53 L123.6 578.74 L124.3 578.7 L125 578.78 L125.7 578.55 L126.4 578.73 L127.1 578.74 L127.8 578.85 L128.5 578.53 L129.2 578.83 L129.9 578.95 L130.6 578.87 L131.3 578.69 L132 578.67 L132.7 578.72 L133.4 578.92 L134.1 579.09 L134.8 578.76 L135.5 578.66 L136.2 578.87 L136.9 578.84 L137.6 578.63 L138.3 578.67 L139 578.8 L139.7 578.96 L140.4 578.59 L141.1 578.63 L141.8 578.94 L142.5 578.6 L143.2 578.87 L143.9 578.93 L144.6 578.84 L145.3 578.66 L146 578.86 L146.7 578.81 L147.4 578.95 L148.1 578.72 L148.8 579.11 L149.5 578.56 L150.2 578.87 L150.9 578.91 L151.6 579.1 L152.3 578.8 L153 579.04 L153.7 578.82 L154.4 579.09 L155.1 579.3 L155.8 578.88 L156.5 579.06 L157.2 578.79 L157.9 579.19 L158.6 579.24 L159.3 579.02 L160 578.8 L160.7 579.12 L161.4 579.28 L162.1 579.28 L162.8 579.23 L163.5 578.72 L164.2 578.96 L164.9 579.39 L165.6 578.87 L166.3 579.36 L167 579.52 L167.7 579.3 L168.4 579.39 L169.1 579.11 L169.8 578.94 L170.5 579.17 L171.2 579.16 L171.9 579.2 L172.6 579.36 L173.3 579.2 L174 579.28 L174.7 579.33 L175.4 579.25 L176.1 579.63 L176.8 579.35 L177.5 579.29 L178.2 579.23 L178.9 579.15 L179.6 579.55 L180.3 579.31 L181 579.07 L181.7 579.17 L182.4 579.26 L183.1 579.19 L183.8 579.5 L184.5 579.04 L185.2 579.37 L185.9 579.29 L186.6 579.02 L187.3 579.26 L188 579.22 L188.7 579.32 L189.4 579.12 L190.1 579.26 L190.8 578.82 L191.5 578.86 L192.2 579.12 L192.9 579.04 L193.6 578.68 L194.3 578.4 L195 578.58 L195.7 577.8 L196.4 577.93 L197.1 578.12 L197.8 578.04 L198.5 577.67 L199.2 577.51 L199.9 578.21 L200.6 578.01 L201.3 577.88 L202 578.14 L202.7 578.38 L203.4 577.74 L204.1 578.52 L204.8 578.45 L205.5 577.87 L206.2 578.4 L206.9 577.85 L207.6 578.39 L208.3 578.19 L209 578.5 L209.7 577.87 L210.4 577.93 L211.1 578.07 L211.8 577.67 L212.5 577.58 L213.2 577.58 L213.9 577.58 L214.6 577.31 L215.3 577.56 L216 577.51 L216.7 577.36 L217.4 577.64 L218.1 577.19 L218.8 577.48" fill="none" stroke="#2b3f52" stroke-width="0.85" stroke-linejoin="round" />
<rect x="20.1" y="455.2" width="199.2" height="126.4" fill="none" stroke="#222" stroke-width="0.9" />
<line x1="20.1" y1="581.6" x2="20.1" y2="583.8" stroke="#222" stroke-width="0.8" />
<text x="20.1" y="591" font-size="7.6" text-anchor="middle" fill="#111"  stroke="#111" stroke-width="0.14">2000</text>
<line x1="64.5" y1="581.6" x2="64.5" y2="583.8" stroke="#222" stroke-width="0.8" />
<text x="64.5" y="591" font-size="7.6" text-anchor="middle" fill="#111"  stroke="#111" stroke-width="0.14">1800</text>
<line x1="108.9" y1="581.6" x2="108.9" y2="583.8" stroke="#222" stroke-width="0.8" />
<text x="108.9" y="591" font-size="7.6" text-anchor="middle" fill="#111"  stroke="#111" stroke-width="0.14">1600</text>
<line x1="153.1" y1="581.6" x2="153.1" y2="583.8" stroke="#222" stroke-width="0.8" />
<text x="153.1" y="591" font-size="7.6" text-anchor="middle" fill="#111"  stroke="#111" stroke-width="0.14">1400</text>
<line x1="197.5" y1="581.6" x2="197.5" y2="583.8" stroke="#222" stroke-width="0.8" />
<text x="197.5" y="591" font-size="7.6" text-anchor="middle" fill="#111"  stroke="#111" stroke-width="0.14">1200</text>
<line x1="42.3" y1="581.6" x2="42.3" y2="582.9" stroke="#222" stroke-width="0.6" />
<line x1="86.7" y1="581.6" x2="86.7" y2="582.9" stroke="#222" stroke-width="0.6" />
<line x1="131" y1="581.6" x2="131" y2="582.9" stroke="#222" stroke-width="0.6" />
<line x1="175.3" y1="581.6" x2="175.3" y2="582.9" stroke="#222" stroke-width="0.6" />
<text x="125" y="598.6" font-size="7.6" text-anchor="middle" fill="#111"  stroke="#111" stroke-width="0.14">Wavenumber (cm<tspan font-size="4.6" dy="-2.2">-1</tspan><tspan dy="2.2">)</tspan></text>
<text x="16" y="518.7" font-size="7.4" fill="#111" text-anchor="middle" transform="rotate(-90 16 518.7)" stroke="#111" stroke-width="0.14">Absorbance (arb. units)</text>
<text x="22.9" y="463.8" font-size="7.2" fill="#111" stroke="#111" stroke-width="0.14">InO<tspan font-size="5" dy="1.8">x</tspan></text>
<text x="22.7" y="528.9" font-size="7" text-anchor="start" fill="#111"  stroke="#111" stroke-width="0.14">-0.6 V</text>
<line x1="30.5" y1="569.8" x2="30.5" y2="535.2" stroke="#111" stroke-width="0.8" />
<path d="M30.5 532.5 L32 535.7 L29 535.7 Z" fill="#111"/>
<text x="22.7" y="578.8" font-size="7" text-anchor="start" fill="#111"  stroke="#111" stroke-width="0.14">OCP</text>
<rect x="307" y="454.8" width="8.6" height="125.8" fill="#d9d9d9" stroke="none" stroke-width="1" />
<line x1="307" y1="454.8" x2="307" y2="580.6" stroke="#9a9a9a" stroke-width="0.45" stroke-dasharray="0.7 0.9"/>
<line x1="315.6" y1="454.8" x2="315.6" y2="580.6" stroke="#9a9a9a" stroke-width="0.45" stroke-dasharray="0.7 0.9"/>
<rect x="327.2" y="454.8" width="12.2" height="125.8" fill="#d9d9d9" stroke="none" stroke-width="1" />
<line x1="327.2" y1="454.8" x2="327.2" y2="580.6" stroke="#9a9a9a" stroke-width="0.45" stroke-dasharray="0.7 0.9"/>
<line x1="339.4" y1="454.8" x2="339.4" y2="580.6" stroke="#9a9a9a" stroke-width="0.45" stroke-dasharray="0.7 0.9"/>
<rect x="352.3" y="454.8" width="12.4" height="125.8" fill="#d9d9d9" stroke="none" stroke-width="1" />
<line x1="352.3" y1="454.8" x2="352.3" y2="580.6" stroke="#9a9a9a" stroke-width="0.45" stroke-dasharray="0.7 0.9"/>
<line x1="364.7" y1="454.8" x2="364.7" y2="580.6" stroke="#9a9a9a" stroke-width="0.45" stroke-dasharray="0.7 0.9"/>
<rect x="376.3" y="454.8" width="12.1" height="125.8" fill="#d9d9d9" stroke="none" stroke-width="1" />
<line x1="376.3" y1="454.8" x2="376.3" y2="580.6" stroke="#9a9a9a" stroke-width="0.45" stroke-dasharray="0.7 0.9"/>
<line x1="388.4" y1="454.8" x2="388.4" y2="580.6" stroke="#9a9a9a" stroke-width="0.45" stroke-dasharray="0.7 0.9"/>
<rect x="396.2" y="454.8" width="8.5" height="125.8" fill="#d9d9d9" stroke="none" stroke-width="1" />
<line x1="396.2" y1="454.8" x2="396.2" y2="580.6" stroke="#9a9a9a" stroke-width="0.45" stroke-dasharray="0.7 0.9"/>
<line x1="404.7" y1="454.8" x2="404.7" y2="580.6" stroke="#9a9a9a" stroke-width="0.45" stroke-dasharray="0.7 0.9"/>
<rect x="413.5" y="454.8" width="7.2" height="98.7" fill="#d9d9d9" stroke="none" stroke-width="1" />
<line x1="413.5" y1="454.8" x2="413.5" y2="553.5" stroke="#9a9a9a" stroke-width="0.45" stroke-dasharray="0.7 0.9"/>
<line x1="420.7" y1="454.8" x2="420.7" y2="553.5" stroke="#9a9a9a" stroke-width="0.45" stroke-dasharray="0.7 0.9"/>
<line x1="413.5" y1="553.5" x2="420.7" y2="553.5" stroke="#9a9a9a" stroke-width="0.45" stroke-dasharray="0.7 0.9"/>
<rect x="421.2" y="553.5" width="8.6" height="27.1" fill="#d9d9d9" stroke="none" stroke-width="1" />
<line x1="421.2" y1="553.5" x2="421.2" y2="580.6" stroke="#9a9a9a" stroke-width="0.45" stroke-dasharray="0.7 0.9"/>
<line x1="429.8" y1="553.5" x2="429.8" y2="580.6" stroke="#9a9a9a" stroke-width="0.45" stroke-dasharray="0.7 0.9"/>
<line x1="421.2" y1="553.5" x2="429.8" y2="553.5" stroke="#9a9a9a" stroke-width="0.45" stroke-dasharray="0.7 0.9"/>
<rect x="433" y="454.8" width="8.5" height="125.8" fill="#d9d9d9" stroke="none" stroke-width="1" />
<line x1="433" y1="454.8" x2="433" y2="580.6" stroke="#9a9a9a" stroke-width="0.45" stroke-dasharray="0.7 0.9"/>
<line x1="441.5" y1="454.8" x2="441.5" y2="580.6" stroke="#9a9a9a" stroke-width="0.45" stroke-dasharray="0.7 0.9"/>
<text x="313.39" y="456.6" font-size="5.8" fill="#111" text-anchor="end" transform="rotate(-90 313.39 456.6)" stroke="#111" stroke-width="0.14">*COOHNH<tspan font-size="4" dy="1.3">2</tspan></text>
<text x="335.39" y="456.6" font-size="5.8" fill="#111" text-anchor="end" transform="rotate(-90 335.39 456.6)" stroke="#111" stroke-width="0.14">*NH<tspan font-size="4" dy="1.3">2</tspan></text>
<text x="360.59" y="456.6" font-size="5.8" fill="#111" text-anchor="end" transform="rotate(-90 360.59 456.6)" stroke="#111" stroke-width="0.14">*NH<tspan font-size="4" dy="1.3">2</tspan></text>
<text x="384.39" y="456.6" font-size="5.8" fill="#111" text-anchor="end" transform="rotate(-90 384.39 456.6)" stroke="#111" stroke-width="0.14">*C-N</text>
<text x="402.49" y="456.6" font-size="5.8" fill="#111" text-anchor="end" transform="rotate(-90 402.49 456.6)" stroke="#111" stroke-width="0.14">*NH<tspan font-size="4" dy="1.3">2</tspan></text>
<text x="419.49" y="456.6" font-size="5.8" fill="#111" text-anchor="end" transform="rotate(-90 419.49 456.6)" stroke="#111" stroke-width="0.14">*CO<tspan font-size="4" dy="1.3">3</tspan><tspan dy="-1.3">/NO</tspan><tspan font-size="4" dy="1.3">3</tspan></text>
<text x="418.99" y="562.5" font-size="5.8" fill="#111" text-anchor="end" transform="rotate(-90 418.99 562.5)" stroke="#111" stroke-width="0.14">*NO<tspan font-size="4" dy="1.3">2</tspan><tspan font-size="4" dy="-2.2">-</tspan></text>
<text x="439.29" y="456.6" font-size="5.8" fill="#111" text-anchor="end" transform="rotate(-90 439.29 456.6)" stroke="#111" stroke-width="0.14">*NH<tspan font-size="4" dy="1.3">2</tspan><tspan dy="-1.3">OH</tspan></text>
<path d="M255.4 525.14 L256.1 525.56 L256.8 524.81 L257.5 525.52 L258.2 525.48 L258.9 525.46 L259.6 525.49 L260.3 525.63 L261 525.56 L261.7 525.14 L262.4 525.61 L263.1 525.59 L263.8 525.55 L264.5 525.32 L265.2 525.52 L265.9 525.71 L266.6 525.32 L267.3 525.17 L268 525.66 L268.7 525.51 L269.4 525.47 L270.1 525.55 L270.8 525.15 L271.5 525.29 L272.2 525.77 L272.9 525.39 L273.6 525.65 L274.3 525.94 L275 526.07 L275.7 526 L276.4 526.47 L277.1 526.2 L277.8 526.51 L278.5 526.61 L279.2 526.44 L279.9 526.37 L280.6 525.69 L281.3 525.51 L282 525.59 L282.7 525.78 L283.4 525.98 L284.1 525.08 L284.8 525.5 L285.5 525.15 L286.2 525.25 L286.9 525.48 L287.6 525.89 L288.3 525.88 L289 526.31 L289.7 525.77 L290.4 526.43 L291.1 526.49 L291.8 526.23 L292.5 526.3 L293.2 525.9 L293.9 525.63 L294.6 525.7 L295.3 525.47 L296 526.35 L296.7 525.15 L297.4 525.59 L298.1 524.95 L298.8 524.77 L299.5 524.68 L300.2 524 L300.9 524.27 L301.6 523.84 L302.3 522.96 L303 523.25 L303.7 522.85 L304.4 522.38 L305.1 522.21 L305.8 521.03 L306.5 520.66 L307.2 520 L307.9 518.52 L308.6 518.1 L309.3 516.5 L310 516.29 L310.7 517.08 L311.4 517.1 L312.1 518.5 L312.8 519.09 L313.5 518.78 L314.2 516.91 L314.9 515.52 L315.6 513.06 L316.3 511.9 L317 509.92 L317.7 508.23 L318.4 506.42 L319.1 504.81 L319.8 502.76 L320.5 500.84 L321.2 500.12 L321.9 498.42 L322.6 497.33 L323.3 496.59 L324 494.81 L324.7 493.82 L325.4 491.94 L326.1 489.35 L326.8 486.99 L327.5 483.97 L328.2 480.64 L328.9 476.92 L329.6 474.42 L330.3 472.76 L331 473.79 L331.7 475.15 L332.4 475.4 L333.1 475.36 L333.8 474.75 L334.5 474.03 L335.2 474.13 L335.9 474.89 L336.6 476.18 L337.3 477.24 L338 479.02 L338.7 481.45 L339.4 483.27 L340.1 485.55 L340.8 486.34 L341.5 488.47 L342.2 489.45 L342.9 489.81 L343.6 490.66 L344.3 489.6 L345 489.61 L345.7 491.11 L346.4 493.94 L347.1 497.17 L347.8 498.29 L348.5 497.37 L349.2 495.95 L349.9 493.94 L350.6 493.98 L351.3 494.18 L352 494.5 L352.7 494.84 L353.4 495.21 L354.1 493.68 L354.8 493.85 L355.5 492.75 L356.2 493.45 L356.9 497.67 L357.6 501.56 L358.3 502.15 L359 502.08 L359.7 499.99 L360.4 498.71 L361.1 497.99 L361.8 496.92 L362.5 497.16 L363.2 499.49 L363.9 501.88 L364.6 503.54 L365.3 503.95 L366 504.85 L366.7 505.3 L367.4 505.48 L368.1 505.81 L368.8 505.18 L369.5 505.2 L370.2 505.58 L370.9 506.44 L371.6 506.4 L372.3 507.68 L373 506.93 L373.7 508.18 L374.4 507.52 L375.1 507.28 L375.8 506.52 L376.5 504.99 L377.2 504.32 L377.9 503.49 L378.6 502.74 L379.3 501.37 L380 500.43 L380.7 499.27 L381.4 499.82 L382.1 498.36 L382.8 497.86 L383.5 497.14 L384.2 497.71 L384.9 497.32 L385.6 498.14 L386.3 498.32 L387 498.51 L387.7 499.21 L388.4 499.18 L389.1 499.92 L389.8 500.31 L390.5 500.51 L391.2 501.32 L391.9 501.69 L392.6 502.58 L393.3 501.52 L394 502.68 L394.7 502.91 L395.4 503.29 L396.1 503.71 L396.8 503.81 L397.5 503.76 L398.2 503.68 L398.9 504.07 L399.6 504.18 L400.3 503.77 L401 504.62 L401.7 504.76 L402.4 505.33 L403.1 506.21 L403.8 506.7 L404.5 507.28 L405.2 507.54 L405.9 508.24 L406.6 508.39 L407.3 508.98 L408 509.14 L408.7 509.44 L409.4 509.21 L410.1 508.46 L410.8 508.43 L411.5 508.17 L412.2 508.47 L412.9 508.86 L413.6 508.33 L414.3 507.29 L415 507.41 L415.7 507.28 L416.4 507.77 L417.1 507.66 L417.8 507.92 L418.5 508.7 L419.2 508.48 L419.9 509.22 L420.6 510.95 L421.3 511.45 L422 512.17 L422.7 512.95 L423.4 514.4 L424.1 515.5 L424.8 517.66 L425.5 519.03 L426.2 520.61 L426.9 521.41 L427.6 522.24 L428.3 523.16 L429 524.82 L429.7 524.5 L430.4 525.78 L431.1 526.35 L431.8 527.05 L432.5 527.15 L433.2 527.67 L433.9 527.9 L434.6 527.67 L435.3 527.61 L436 527.74 L436.7 527.63 L437.4 528.09 L438.1 528.42 L438.8 529 L439.5 529.74 L440.2 530.04 L440.9 529.66 L441.6 529.94 L442.3 529.68 L443 529.55 L443.7 528.95 L444.4 528.55 L445.1 527.77 L445.8 526.73 L446.5 526.02 L447.2 525.09" fill="none" stroke="#c3262e" stroke-width="0.85" stroke-linejoin="round" />
<path d="M255.4 537.5 L256.1 537.45 L256.8 537.44 L257.5 537.26 L258.2 536.91 L258.9 537.69 L259.6 537.6 L260.3 537.43 L261 537.35 L261.7 538.07 L262.4 537.19 L263.1 538.29 L263.8 537.98 L264.5 538.51 L265.2 537.58 L265.9 537.77 L266.6 537.6 L267.3 537.75 L268 537.59 L268.7 537.37 L269.4 537.85 L270.1 537.22 L270.8 537.24 L271.5 537.5 L272.2 537.12 L272.9 537.11 L273.6 537.32 L274.3 537.09 L275 536.83 L275.7 537.19 L276.4 537.2 L277.1 537.84 L277.8 537.08 L278.5 537.79 L279.2 537.35 L279.9 537.58 L280.6 537.69 L281.3 537.96 L282 538.23 L282.7 538.57 L283.4 537.92 L284.1 538.56 L284.8 538.49 L285.5 538.45 L286.2 537.98 L286.9 538.48 L287.6 538.16 L288.3 538.28 L289 538.06 L289.7 538.31 L290.4 538.4 L291.1 538.35 L291.8 537.89 L292.5 538.19 L293.2 538.25 L293.9 537.46 L294.6 538.09 L295.3 537.16 L296 537.59 L296.7 537.45 L297.4 537.52 L298.1 536.95 L298.8 536.49 L299.5 536.15 L300.2 535.75 L300.9 536.07 L301.6 535.47 L302.3 535.01 L303 535.06 L303.7 534.34 L304.4 534.1 L305.1 533.77 L305.8 534.08 L306.5 533.7 L307.2 532.84 L307.9 532.05 L308.6 532.26 L309.3 531.95 L310 531.9 L310.7 532.21 L311.4 532.5 L312.1 533.37 L312.8 533.38 L313.5 532.55 L314.2 531.35 L314.9 530.07 L315.6 529.03 L316.3 527.05 L317 525.95 L317.7 524.43 L318.4 522.83 L319.1 522 L319.8 520.38 L320.5 518.99 L321.2 517.89 L321.9 515.99 L322.6 515.32 L323.3 514.3 L324 513.19 L324.7 511.06 L325.4 509.55 L326.1 506.58 L326.8 503.79 L327.5 500.8 L328.2 498.42 L328.9 497.35 L329.6 495.68 L330.3 495.03 L331 495.2 L331.7 495.99 L332.4 497.34 L333.1 497.24 L333.8 497.2 L334.5 496.37 L335.2 495.94 L335.9 495.91 L336.6 497.29 L337.3 497.84 L338 499.36 L338.7 500.3 L339.4 502.2 L340.1 504.1 L340.8 506.87 L341.5 508.62 L342.2 509.87 L342.9 511.54 L343.6 511.7 L344.3 510.57 L345 509.44 L345.7 508.65 L346.4 509.23 L347.1 510.96 L347.8 513.8 L348.5 515.58 L349.2 515.73 L349.9 514.8 L350.6 513.94 L351.3 513.32 L352 513.06 L352.7 512.35 L353.4 511.42 L354.1 511.27 L354.8 511.25 L355.5 512.63 L356.2 514.65 L356.9 516.89 L357.6 519.25 L358.3 519.94 L359 518.73 L359.7 517.74 L360.4 516.53 L361.1 514.87 L361.8 514.13 L362.5 515.34 L363.2 516.53 L363.9 518.59 L364.6 519.78 L365.3 521.51 L366 521.33 L366.7 522.41 L367.4 523.49 L368.1 524.34 L368.8 524.3 L369.5 524.93 L370.2 525.68 L370.9 525.47 L371.6 526.54 L372.3 526.74 L373 526.57 L373.7 526.78 L374.4 526.52 L375.1 525.86 L375.8 525.27 L376.5 524.83 L377.2 523.49 L377.9 522.96 L378.6 522.14 L379.3 522.1 L380 521.18 L380.7 520.92 L381.4 520.31 L382.1 519.81 L382.8 519.88 L383.5 519.04 L384.2 519.27 L384.9 519.04 L385.6 519.25 L386.3 518.96 L387 519.48 L387.7 519.69 L388.4 519.6 L389.1 520.19 L389.8 520.43 L390.5 520.84 L391.2 521.61 L391.9 521.4 L392.6 521.49 L393.3 521.81 L394 522.5 L394.7 522.71 L395.4 523.13 L396.1 523.5 L396.8 524.05 L397.5 523.82 L398.2 524.05 L398.9 523.87 L399.6 524.41 L400.3 524.79 L401 524.93 L401.7 524.11 L402.4 525.06 L403.1 525.38 L403.8 525.27 L404.5 524.7 L405.2 525.14 L405.9 525.47 L406.6 525.48 L407.3 525.17 L408 525.18 L408.7 525.74 L409.4 525.09 L410.1 525.9 L410.8 525.49 L411.5 525.58 L412.2 525.12 L412.9 525.35 L413.6 525.75 L414.3 525.16 L415 526.24 L415.7 525.31 L416.4 525.45 L417.1 525.93 L417.8 526.19 L418.5 526.44 L419.2 526.35 L419.9 526.67 L420.6 526.98 L421.3 527.24 L422 527.06 L422.7 528.51 L423.4 528.76 L424.1 529.21 L424.8 529.47 L425.5 530.25 L426.2 530.77 L426.9 531.39 L427.6 532.41 L428.3 532.3 L429 533.57 L429.7 533.89 L430.4 534.77 L431.1 535.92 L431.8 535.74 L432.5 536.54 L433.2 536.91 L433.9 537.86 L434.6 537.8 L435.3 538.07 L436 539.15 L436.7 539.32 L437.4 539.7 L438.1 540.43 L438.8 540.13 L439.5 540.49 L440.2 540.77 L440.9 540.88 L441.6 540.55 L442.3 540.85 L443 541 L443.7 540 L444.4 540.39 L445.1 538.98 L445.8 539.74 L446.5 539.02 L447.2 539" fill="none" stroke="#e27a7e" stroke-width="0.85" stroke-linejoin="round" />
<path d="M255.4 548.4 L256.1 548.31 L256.8 548.11 L257.5 548.35 L258.2 548.82 L258.9 548.76 L259.6 548.31 L260.3 548.24 L261 548.17 L261.7 548.01 L262.4 548.85 L263.1 548.5 L263.8 548.33 L264.5 548.13 L265.2 547.96 L265.9 548.62 L266.6 548.45 L267.3 547.94 L268 548.49 L268.7 547.88 L269.4 548.38 L270.1 547.92 L270.8 548.09 L271.5 548.36 L272.2 548.36 L272.9 548.55 L273.6 548.05 L274.3 548.78 L275 548.74 L275.7 548.39 L276.4 548.56 L277.1 548.24 L277.8 548.45 L278.5 548.15 L279.2 548.58 L279.9 548.64 L280.6 548.99 L281.3 548.9 L282 548.87 L282.7 548.54 L283.4 548.57 L284.1 548.53 L284.8 548.67 L285.5 548.02 L286.2 548.77 L286.9 548.06 L287.6 548.32 L288.3 548.42 L289 548.22 L289.7 548.79 L290.4 548.22 L291.1 548.64 L291.8 548.46 L292.5 547.9 L293.2 548.08 L293.9 548.26 L294.6 547.71 L295.3 547.74 L296 547.46 L296.7 547.54 L297.4 547.32 L298.1 547.33 L298.8 547.49 L299.5 547.49 L300.2 547 L300.9 546.87 L301.6 546.88 L302.3 546.34 L303 545.89 L303.7 546.26 L304.4 545.4 L305.1 545.65 L305.8 544.81 L306.5 545.27 L307.2 544 L307.9 544.04 L308.6 543.75 L309.3 542.66 L310 543.13 L310.7 542.47 L311.4 542.39 L312.1 543.39 L312.8 543.64 L313.5 543.5 L314.2 542.71 L314.9 543.09 L315.6 542.53 L316.3 541.93 L317 541.33 L317.7 540.25 L318.4 539.98 L319.1 539.99 L319.8 539.22 L320.5 537.95 L321.2 537.12 L321.9 536.72 L322.6 536.17 L323.3 535.31 L324 534.01 L324.7 533.71 L325.4 533.1 L326.1 532.85 L326.8 532.16 L327.5 531.37 L328.2 531.03 L328.9 530.12 L329.6 530.36 L330.3 529.68 L331 530.31 L331.7 531.13 L332.4 531.19 L333.1 531.37 L333.8 530.52 L334.5 530.14 L335.2 529.22 L335.9 528.79 L336.6 529.38 L337.3 529.39 L338 530.97 L338.7 532.03 L339.4 532.81 L340.1 533.69 L340.8 534.31 L341.5 533.91 L342.2 533.91 L342.9 534.09 L343.6 534.32 L344.3 534.47 L345 534.05 L345.7 534.56 L346.4 533.91 L347.1 534.33 L347.8 534.08 L348.5 533.93 L349.2 534.24 L349.9 533.35 L350.6 533.13 L351.3 532.95 L352 532.64 L352.7 531.6 L353.4 531.75 L354.1 531.28 L354.8 531.72 L355.5 532.28 L356.2 532.57 L356.9 533.42 L357.6 534.5 L358.3 534.59 L359 536.52 L359.7 537.09 L360.4 537.29 L361.1 537.24 L361.8 537.1 L362.5 537.12 L363.2 537.32 L363.9 536.73 L364.6 536.97 L365.3 535.74 L366 536.37 L366.7 536.73 L367.4 536.88 L368.1 536.71 L368.8 537.34 L369.5 538.24 L370.2 537.84 L370.9 538.22 L371.6 538.42 L372.3 538.72 L373 539.09 L373.7 539 L374.4 538.13 L375.1 538.97 L375.8 538.18 L376.5 537.96 L377.2 538.36 L377.9 537.59 L378.6 536.97 L379.3 536.86 L380 536.55 L380.7 536.2 L381.4 536.13 L382.1 536.23 L382.8 535.86 L383.5 535.17 L384.2 536.22 L384.9 535.03 L385.6 535.28 L386.3 535.24 L387 535.48 L387.7 535.22 L388.4 535.52 L389.1 536.1 L389.8 535.64 L390.5 535.43 L391.2 535.98 L391.9 535.79 L392.6 536.05 L393.3 536.33 L394 536.48 L394.7 536.39 L395.4 536.78 L396.1 536.54 L396.8 536.27 L397.5 536.95 L398.2 536.64 L398.9 537.14 L399.6 536.64 L400.3 537.03 L401 536.99 L401.7 536.16 L402.4 536.54 L403.1 536.68 L403.8 537.45 L404.5 536.53 L405.2 537.37 L405.9 537.45 L406.6 537.31 L407.3 537.38 L408 537.06 L408.7 537.22 L409.4 537.3 L410.1 537.37 L410.8 537.48 L411.5 537.23 L412.2 537.12 L412.9 537.19 L413.6 537.51 L414.3 536.96 L415 537.14 L415.7 537.44 L416.4 537.47 L417.1 537.62 L417.8 537 L418.5 537.74 L419.2 537.85 L419.9 538.23 L420.6 537.53 L421.3 538.11 L422 538.45 L422.7 538.57 L423.4 538.9 L424.1 539 L424.8 538.55 L425.5 539.21 L426.2 539.15 L426.9 539.26 L427.6 540.21 L428.3 539.87 L429 540.1 L429.7 540.53 L430.4 540.68 L431.1 541.49 L431.8 541.55 L432.5 542.06 L433.2 541.99 L433.9 541.91 L434.6 542.61 L435.3 542.32 L436 542.58 L436.7 542.85 L437.4 543.08 L438.1 543.56 L438.8 543.17 L439.5 543.55 L440.2 543.51 L440.9 543.19 L441.6 543.23 L442.3 543.45 L443 543.57 L443.7 543.48 L444.4 543.44 L445.1 543.23 L445.8 543.01 L446.5 543.19 L447.2 542.73" fill="none" stroke="#f6c0bc" stroke-width="0.85" stroke-linejoin="round" />
<path d="M255.4 555.21 L256.1 555.5 L256.8 555.17 L257.5 555.43 L258.2 555.35 L258.9 555.39 L259.6 555.53 L260.3 555.3 L261 555.39 L261.7 555.01 L262.4 555.53 L263.1 555.22 L263.8 555.58 L264.5 554.63 L265.2 555.2 L265.9 555.48 L266.6 554.69 L267.3 555.28 L268 555.39 L268.7 555.38 L269.4 554.9 L270.1 555.38 L270.8 555.34 L271.5 555 L272.2 555.48 L272.9 555.23 L273.6 555.24 L274.3 555.09 L275 555.36 L275.7 555.21 L276.4 555.5 L277.1 555.29 L277.8 554.97 L278.5 555.08 L279.2 555.4 L279.9 555.02 L280.6 555.23 L281.3 555.26 L282 555.05 L282.7 554.42 L283.4 555.13 L284.1 555.15 L284.8 555.12 L285.5 554.85 L286.2 555.42 L286.9 555.02 L287.6 554.87 L288.3 554.83 L289 555.13 L289.7 554.7 L290.4 554.71 L291.1 555.57 L291.8 555.35 L292.5 555.26 L293.2 555.33 L293.9 555.08 L294.6 554.4 L295.3 555.21 L296 555.19 L296.7 554.94 L297.4 554.19 L298.1 555.08 L298.8 555.08 L299.5 554.49 L300.2 554.62 L300.9 554.73 L301.6 554.37 L302.3 554.57 L303 554.1 L303.7 554.07 L304.4 553.66 L305.1 552.95 L305.8 552.8 L306.5 553.65 L307.2 552.29 L307.9 551.99 L308.6 551.34 L309.3 551.01 L310 550.36 L310.7 549.99 L311.4 550.35 L312.1 550.05 L312.8 550.79 L313.5 551.18 L314.2 550.08 L314.9 550.36 L315.6 550.03 L316.3 549.57 L317 548.27 L317.7 547.69 L318.4 546.69 L319.1 546.34 L319.8 546.28 L320.5 546.31 L321.2 545.01 L321.9 545.41 L322.6 544.84 L323.3 544.3 L324 544.83 L324.7 543.21 L325.4 543.69 L326.1 543.53 L326.8 543.84 L327.5 543.5 L328.2 543.43 L328.9 542.65 L329.6 542.8 L330.3 542.93 L331 542.94 L331.7 543.27 L332.4 543.4 L333.1 543.36 L333.8 542.73 L334.5 543.04 L335.2 541.75 L335.9 540.99 L336.6 541.78 L337.3 541.96 L338 542.39 L338.7 543.3 L339.4 543.18 L340.1 543.54 L340.8 543.71 L341.5 544.14 L342.2 544.22 L342.9 544.59 L343.6 545.6 L344.3 544.94 L345 544.67 L345.7 545.55 L346.4 545.27 L347.1 545.23 L347.8 545.06 L348.5 544.81 L349.2 544.44 L349.9 544.31 L350.6 543.91 L351.3 543.82 L352 543.12 L352.7 543.12 L353.4 542.81 L354.1 543.3 L354.8 543.38 L355.5 543.28 L356.2 544.02 L356.9 545.15 L357.6 545.32 L358.3 545.2 L359 546 L359.7 546.58 L360.4 546.6 L361.1 546.9 L361.8 547.29 L362.5 547.18 L363.2 546.88 L363.9 547.51 L364.6 547.35 L365.3 547.48 L366 547.33 L366.7 547.12 L367.4 547.18 L368.1 547.45 L368.8 547.23 L369.5 546.73 L370.2 547.83 L370.9 547.1 L371.6 547.16 L372.3 547.45 L373 546.5 L373.7 547.49 L374.4 546.76 L375.1 547.05 L375.8 546.59 L376.5 546.68 L377.2 546.49 L377.9 546.32 L378.6 545.65 L379.3 545.62 L380 545.91 L380.7 546.21 L381.4 545.53 L382.1 545.74 L382.8 545.54 L383.5 545.55 L384.2 545.64 L384.9 544.87 L385.6 545.36 L386.3 545.24 L387 545.23 L387.7 545.13 L388.4 545.22 L389.1 545.24 L389.8 545.31 L390.5 546.47 L391.2 546.34 L391.9 545.95 L392.6 546.27 L393.3 545.86 L394 545.41 L394.7 545.75 L395.4 546.36 L396.1 546.78 L396.8 546.38 L397.5 546.13 L398.2 546.39 L398.9 546.19 L399.6 546.1 L400.3 546.46 L401 546.43 L401.7 546.33 L402.4 546.33 L403.1 546.33 L403.8 546.69 L404.5 547.04 L405.2 546.59 L405.9 547.32 L406.6 546.22 L407.3 546.79 L408 546.39 L408.7 546.71 L409.4 546.81 L410.1 546.97 L410.8 547.16 L411.5 546.7 L412.2 546.53 L412.9 546.87 L413.6 547.04 L414.3 546.78 L415 547.28 L415.7 547.54 L416.4 546.67 L417.1 547.22 L417.8 547.45 L418.5 546.62 L419.2 547.28 L419.9 547.19 L420.6 546.87 L421.3 547.7 L422 547.42 L422.7 547.25 L423.4 547.55 L424.1 547.64 L424.8 547.72 L425.5 547.69 L426.2 547.68 L426.9 547.25 L427.6 547.51 L428.3 547.71 L429 546.9 L429.7 548.37 L430.4 547.68 L431.1 547.52 L431.8 547.33 L432.5 547.97 L433.2 547.94 L433.9 547.79 L434.6 547.86 L435.3 547.75 L436 547.82 L436.7 548.03 L437.4 547.89 L438.1 548.3 L438.8 548.08 L439.5 548.18 L440.2 548.28 L440.9 548.55 L441.6 548.37 L442.3 548.28 L443 548.18 L443.7 548 L444.4 548.15 L445.1 548.46 L445.8 548.34 L446.5 548.17 L447.2 547.91" fill="none" stroke="#b8d8ee" stroke-width="0.85" stroke-linejoin="round" />
<path d="M255.4 563.85 L256.1 564.39 L256.8 564.59 L257.5 564.4 L258.2 563.88 L258.9 564.22 L259.6 564.34 L260.3 564 L261 564.37 L261.7 564.2 L262.4 564.01 L263.1 563.89 L263.8 564.48 L264.5 564.34 L265.2 563.97 L265.9 563.93 L266.6 564.48 L267.3 564.39 L268 564.11 L268.7 564.66 L269.4 564.1 L270.1 563.87 L270.8 564.49 L271.5 564.11 L272.2 564.25 L272.9 564.15 L273.6 563.84 L274.3 563.77 L275 564.05 L275.7 564.5 L276.4 563.79 L277.1 564.46 L277.8 564.12 L278.5 563.71 L279.2 564.1 L279.9 564.17 L280.6 563.72 L281.3 563.35 L282 564.06 L282.7 563.61 L283.4 564.05 L284.1 563.35 L284.8 563.85 L285.5 563.64 L286.2 563.42 L286.9 563.77 L287.6 563.87 L288.3 563.64 L289 563.43 L289.7 563.82 L290.4 563.22 L291.1 563.86 L291.8 563.83 L292.5 564.14 L293.2 563.88 L293.9 563.7 L294.6 563.63 L295.3 563.53 L296 563.09 L296.7 563.87 L297.4 563.55 L298.1 563.26 L298.8 562.96 L299.5 563.67 L300.2 563.34 L300.9 562.77 L301.6 563.23 L302.3 563.5 L303 562.84 L303.7 562.85 L304.4 562.5 L305.1 562.31 L305.8 562.68 L306.5 563.13 L307.2 562.12 L307.9 561.91 L308.6 562.03 L309.3 561.56 L310 561.71 L310.7 561.59 L311.4 560.89 L312.1 560.71 L312.8 560.83 L313.5 560.91 L314.2 560.57 L314.9 560.67 L315.6 559.72 L316.3 560.07 L317 559.55 L317.7 559.57 L318.4 559.44 L319.1 558.87 L319.8 558.89 L320.5 558.42 L321.2 558.62 L321.9 558.08 L322.6 557.96 L323.3 557.94 L324 557.45 L324.7 557.75 L325.4 557.01 L326.1 557.24 L326.8 556.88 L327.5 556.31 L328.2 556.39 L328.9 556.06 L329.6 556.05 L330.3 555.93 L331 556.41 L331.7 555.64 L332.4 556.13 L333.1 555.74 L333.8 555.19 L334.5 554.9 L335.2 555.81 L335.9 555.15 L336.6 556.11 L337.3 556.42 L338 556.49 L338.7 556.57 L339.4 556.82 L340.1 557.2 L340.8 557.23 L341.5 557.29 L342.2 557.4 L342.9 557.85 L343.6 557.29 L344.3 557.5 L345 556.94 L345.7 556.94 L346.4 556.62 L347.1 556.82 L347.8 556.95 L348.5 556.73 L349.2 556.41 L349.9 556.68 L350.6 556.38 L351.3 556.58 L352 556.55 L352.7 556.64 L353.4 555.79 L354.1 556.18 L354.8 556.85 L355.5 556.69 L356.2 557.48 L356.9 556.91 L357.6 557 L358.3 557.81 L359 557.79 L359.7 558.45 L360.4 558.34 L361.1 558.44 L361.8 559.01 L362.5 558.87 L363.2 559.25 L363.9 559.49 L364.6 559.82 L365.3 560.31 L366 560.14 L366.7 560.55 L367.4 560.49 L368.1 561.04 L368.8 560.12 L369.5 560.98 L370.2 561.17 L370.9 560.87 L371.6 561.5 L372.3 561.25 L373 561.52 L373.7 561.37 L374.4 561.2 L375.1 560.88 L375.8 560.51 L376.5 560.64 L377.2 560.45 L377.9 560.53 L378.6 560.2 L379.3 561.09 L380 559.62 L380.7 560.3 L381.4 559.71 L382.1 559.68 L382.8 559.93 L383.5 559.59 L384.2 559.18 L384.9 559.62 L385.6 559.43 L386.3 558.89 L387 559.56 L387.7 559.22 L388.4 559.34 L389.1 559.73 L389.8 559.73 L390.5 559.61 L391.2 560.38 L391.9 559.94 L392.6 559.7 L393.3 560.02 L394 559.98 L394.7 559.45 L395.4 559.7 L396.1 559.82 L396.8 560.88 L397.5 560.29 L398.2 560.32 L398.9 560.28 L399.6 560.77 L400.3 560.52 L401 561.04 L401.7 560.82 L402.4 561.11 L403.1 560.64 L403.8 560.83 L404.5 560.64 L405.2 560.76 L405.9 560.35 L406.6 560.72 L407.3 560.65 L408 560.77 L408.7 561.33 L409.4 561.08 L410.1 561.37 L410.8 561.26 L411.5 561.28 L412.2 561.28 L412.9 560.79 L413.6 561.15 L414.3 560.78 L415 560.65 L415.7 561.04 L416.4 561.16 L417.1 560.05 L417.8 560.6 L418.5 560.07 L419.2 559.29 L419.9 559.32 L420.6 559.05 L421.3 558.75 L422 558.26 L422.7 557.73 L423.4 557.87 L424.1 557.84 L424.8 557.54 L425.5 557.23 L426.2 557.12 L426.9 556.34 L427.6 556.51 L428.3 556.61 L429 556.92 L429.7 556.88 L430.4 557.25 L431.1 557.43 L431.8 558.27 L432.5 557.26 L433.2 558.03 L433.9 558.86 L434.6 558.3 L435.3 557.78 L436 558.41 L436.7 558 L437.4 558.27 L438.1 558.57 L438.8 559.03 L439.5 558.71 L440.2 558.8 L440.9 558.94 L441.6 558.73 L442.3 558.45 L443 558.69 L443.7 558.83 L444.4 558.67 L445.1 558.57 L445.8 558.67 L446.5 558.35 L447.2 558.5" fill="none" stroke="#74b2de" stroke-width="0.85" stroke-linejoin="round" />
<path d="M255.4 571.47 L256.1 571.39 L256.8 571.51 L257.5 571.9 L258.2 571.57 L258.9 571.48 L259.6 571.14 L260.3 571.17 L261 571.58 L261.7 571.22 L262.4 571.59 L263.1 571.15 L263.8 571.5 L264.5 571.44 L265.2 571.74 L265.9 571.33 L266.6 571.34 L267.3 571.51 L268 571.45 L268.7 571.92 L269.4 571.35 L270.1 571.26 L270.8 571.32 L271.5 571.54 L272.2 571.47 L272.9 571.59 L273.6 570.98 L274.3 572.09 L275 571.9 L275.7 571.35 L276.4 571 L277.1 571.39 L277.8 571.45 L278.5 570.68 L279.2 571.32 L279.9 570.87 L280.6 571.42 L281.3 571.68 L282 571.57 L282.7 570.83 L283.4 571.66 L284.1 571.51 L284.8 571.14 L285.5 571.38 L286.2 571.67 L286.9 571.13 L287.6 571.21 L288.3 571.04 L289 571.53 L289.7 570.56 L290.4 571.58 L291.1 570.88 L291.8 571.41 L292.5 570.66 L293.2 570.84 L293.9 570.92 L294.6 571.31 L295.3 570.57 L296 571.19 L296.7 570.8 L297.4 571.31 L298.1 570.83 L298.8 571.02 L299.5 570.78 L300.2 571.3 L300.9 570.63 L301.6 570.67 L302.3 571.19 L303 570.58 L303.7 570.69 L304.4 570.2 L305.1 570.4 L305.8 569.61 L306.5 570.21 L307.2 569.92 L307.9 569.58 L308.6 569.52 L309.3 570.18 L310 569.88 L310.7 569.23 L311.4 570.11 L312.1 569.29 L312.8 569.3 L313.5 569.39 L314.2 568.91 L314.9 568.68 L315.6 568.85 L316.3 569.33 L317 569.18 L317.7 568.37 L318.4 569.1 L319.1 568.7 L319.8 568.76 L320.5 568.57 L321.2 568.61 L321.9 568.14 L322.6 568.11 L323.3 568.11 L324 568.15 L324.7 568.37 L325.4 567.79 L326.1 568.55 L326.8 567.85 L327.5 567.82 L328.2 568.14 L328.9 568.02 L329.6 567.75 L330.3 567.5 L331 567.48 L331.7 567.27 L332.4 568.03 L333.1 567.98 L333.8 568.18 L334.5 567.76 L335.2 567.69 L335.9 567.79 L336.6 567.83 L337.3 567.46 L338 567.62 L338.7 568.12 L339.4 566.99 L340.1 567.06 L340.8 567.18 L341.5 567.66 L342.2 567.78 L342.9 567.33 L343.6 567.61 L344.3 567.4 L345 567.49 L345.7 567.24 L346.4 567.39 L347.1 567.4 L347.8 567.73 L348.5 568.05 L349.2 566.88 L349.9 567.56 L350.6 567.42 L351.3 567.71 L352 567.74 L352.7 567.67 L353.4 567.7 L354.1 567.2 L354.8 567 L355.5 568 L356.2 567.88 L356.9 567.28 L357.6 567.96 L358.3 567.8 L359 566.93 L359.7 567.93 L360.4 567.42 L361.1 568.07 L361.8 567.57 L362.5 567.59 L363.2 567.4 L363.9 567.82 L364.6 568.21 L365.3 567.77 L366 567.46 L366.7 568.66 L367.4 568.62 L368.1 568.33 L368.8 568.01 L369.5 567.86 L370.2 567.78 L370.9 568.46 L371.6 568.71 L372.3 568.07 L373 568.42 L373.7 568.38 L374.4 568.43 L375.1 568.69 L375.8 569.19 L376.5 568.44 L377.2 568.91 L377.9 569.01 L378.6 568.65 L379.3 568.72 L380 568.41 L380.7 569.14 L381.4 568.71 L382.1 568.71 L382.8 568.95 L383.5 568.71 L384.2 568.69 L384.9 568.94 L385.6 569.49 L386.3 569.03 L387 569.27 L387.7 568.73 L388.4 568.62 L389.1 569.74 L389.8 569.13 L390.5 568.83 L391.2 569.28 L391.9 569.51 L392.6 568.87 L393.3 569.14 L394 569.5 L394.7 569.18 L395.4 569.71 L396.1 569.79 L396.8 569.66 L397.5 569.44 L398.2 569.57 L398.9 569.43 L399.6 569.6 L400.3 569.75 L401 569.59 L401.7 569.99 L402.4 570.48 L403.1 569.59 L403.8 569.87 L404.5 570.02 L405.2 569.99 L405.9 569.76 L406.6 569.71 L407.3 570.16 L408 570.08 L408.7 570.07 L409.4 569.71 L410.1 570.15 L410.8 570.21 L411.5 569.94 L412.2 570.19 L412.9 570.64 L413.6 569.46 L414.3 570.18 L415 569.64 L415.7 569.56 L416.4 569.85 L417.1 570.03 L417.8 569.83 L418.5 569.4 L419.2 569.17 L419.9 569.23 L420.6 569.17 L421.3 568.67 L422 568.22 L422.7 568.91 L423.4 567.93 L424.1 567.93 L424.8 567.62 L425.5 567.4 L426.2 567.4 L426.9 567.17 L427.6 567.37 L428.3 566.88 L429 566.91 L429.7 568.09 L430.4 567.71 L431.1 568.2 L431.8 568.56 L432.5 568.61 L433.2 568.67 L433.9 568.41 L434.6 568.6 L435.3 569.57 L436 569.69 L436.7 569.87 L437.4 569.42 L438.1 569.47 L438.8 569.96 L439.5 570.07 L440.2 570.58 L440.9 570.33 L441.6 571.17 L442.3 570.6 L443 570.67 L443.7 571.12 L444.4 571 L445.1 570.67 L445.8 571.19 L446.5 571.53 L447.2 570.63" fill="none" stroke="#3f88c6" stroke-width="0.85" stroke-linejoin="round" />
<path d="M255.4 577.93 L256.1 577.68 L256.8 577.43 L257.5 578.17 L258.2 578.19 L258.9 578.27 L259.6 578.11 L260.3 577.39 L261 577.97 L261.7 577.78 L262.4 577.63 L263.1 577.65 L263.8 578.19 L264.5 577.87 L265.2 578.53 L265.9 578.09 L266.6 577.39 L267.3 578.21 L268 578.3 L268.7 577.95 L269.4 577.58 L270.1 578.44 L270.8 577.54 L271.5 577.89 L272.2 577.36 L272.9 577.54 L273.6 577.41 L274.3 578.22 L275 578.24 L275.7 577.77 L276.4 577.49 L277.1 577.86 L277.8 577.99 L278.5 577.42 L279.2 577.53 L279.9 577.83 L280.6 578.06 L281.3 577.87 L282 577.98 L282.7 577.47 L283.4 577.11 L284.1 577.92 L284.8 577.55 L285.5 577.78 L286.2 577.7 L286.9 577.95 L287.6 577.57 L288.3 578.22 L289 577.8 L289.7 577.94 L290.4 577.96 L291.1 578.08 L291.8 577.88 L292.5 577.25 L293.2 577.57 L293.9 578.29 L294.6 577.88 L295.3 577.9 L296 577.87 L296.7 577.54 L297.4 577.52 L298.1 577.53 L298.8 578.05 L299.5 577.81 L300.2 578.22 L300.9 577.84 L301.6 578.24 L302.3 577.81 L303 577.33 L303.7 578.18 L304.4 577.76 L305.1 578.01 L305.8 577.71 L306.5 577.55 L307.2 577.68 L307.9 577.3 L308.6 577.27 L309.3 577.35 L310 577.45 L310.7 577.2 L311.4 577.56 L312.1 577.67 L312.8 578.17 L313.5 578.11 L314.2 577.55 L314.9 577.81 L315.6 577.48 L316.3 577.65 L317 577.52 L317.7 577.36 L318.4 577.53 L319.1 577.07 L319.8 577.63 L320.5 577.4 L321.2 577.16 L321.9 577.37 L322.6 577.63 L323.3 577.26 L324 577.59 L324.7 577.61 L325.4 577.89 L326.1 577.1 L326.8 577.38 L327.5 577.56 L328.2 577.84 L328.9 577.47 L329.6 577.61 L330.3 576.94 L331 577.2 L331.7 577.85 L332.4 577.27 L333.1 577.99 L333.8 577.13 L334.5 577.25 L335.2 576.86 L335.9 577.51 L336.6 577.39 L337.3 577.9 L338 577.35 L338.7 577.22 L339.4 576.87 L340.1 577.26 L340.8 577.56 L341.5 577.49 L342.2 577.63 L342.9 577.52 L343.6 577.24 L344.3 577.43 L345 577.3 L345.7 576.85 L346.4 577.74 L347.1 577.34 L347.8 576.92 L348.5 577.34 L349.2 577.31 L349.9 577.51 L350.6 577.64 L351.3 576.31 L352 577.37 L352.7 577.66 L353.4 576.92 L354.1 576.65 L354.8 577.28 L355.5 577.3 L356.2 577.3 L356.9 576.87 L357.6 577.06 L358.3 577.26 L359 577.42 L359.7 577.85 L360.4 577.29 L361.1 577.02 L361.8 576.51 L362.5 577.53 L363.2 577.17 L363.9 577.18 L364.6 576.92 L365.3 577.44 L366 576.69 L366.7 577.26 L367.4 577.27 L368.1 577.33 L368.8 577.63 L369.5 577.22 L370.2 577.28 L370.9 577.52 L371.6 576.81 L372.3 577.19 L373 577.3 L373.7 577.57 L374.4 577.05 L375.1 577.54 L375.8 577.42 L376.5 576.87 L377.2 576.88 L377.9 576.9 L378.6 577.37 L379.3 577.4 L380 577.56 L380.7 577.6 L381.4 577.19 L382.1 577.68 L382.8 577.62 L383.5 577.52 L384.2 577.53 L384.9 577.01 L385.6 577.51 L386.3 577.1 L387 577.06 L387.7 577.32 L388.4 577.47 L389.1 577.42 L389.8 577.34 L390.5 577.15 L391.2 577.5 L391.9 577.23 L392.6 577.04 L393.3 577.49 L394 577.9 L394.7 577.35 L395.4 577.16 L396.1 577.9 L396.8 578 L397.5 577.4 L398.2 577.43 L398.9 577.56 L399.6 578.38 L400.3 577.54 L401 577.8 L401.7 577.64 L402.4 576.98 L403.1 577.2 L403.8 577.17 L404.5 577.67 L405.2 577.59 L405.9 578.1 L406.6 577.49 L407.3 577.67 L408 577.61 L408.7 577.64 L409.4 578.29 L410.1 577.69 L410.8 578.04 L411.5 577.99 L412.2 577.41 L412.9 577.79 L413.6 577.46 L414.3 577.59 L415 577.59 L415.7 577.52 L416.4 577.35 L417.1 577.92 L417.8 577.33 L418.5 577.56 L419.2 577.75 L419.9 577.29 L420.6 577.23 L421.3 577.15 L422 576.86 L422.7 576.84 L423.4 575.72 L424.1 576.56 L424.8 575.82 L425.5 575.1 L426.2 575.26 L426.9 574.89 L427.6 575.21 L428.3 574.75 L429 574.92 L429.7 575.37 L430.4 575.41 L431.1 575.22 L431.8 575.49 L432.5 575.62 L433.2 575.76 L433.9 575.79 L434.6 575.77 L435.3 576.13 L436 575.43 L436.7 575.79 L437.4 576.01 L438.1 575.89 L438.8 575.87 L439.5 575.93 L440.2 576.15 L440.9 576.49 L441.6 576.09 L442.3 576.09 L443 576.29 L443.7 576.14 L444.4 575.65 L445.1 576.33 L445.8 576.15 L446.5 576.11 L447.2 576.48" fill="none" stroke="#2b3f52" stroke-width="0.85" stroke-linejoin="round" />
<rect x="255.4" y="454.8" width="192.2" height="125.8" fill="none" stroke="#222" stroke-width="0.9" />
<line x1="255.4" y1="580.6" x2="255.4" y2="582.8" stroke="#222" stroke-width="0.8" />
<text x="255.4" y="590" font-size="7.6" text-anchor="middle" fill="#111"  stroke="#111" stroke-width="0.14">2000</text>
<line x1="298.3" y1="580.6" x2="298.3" y2="582.8" stroke="#222" stroke-width="0.8" />
<text x="298.3" y="590" font-size="7.6" text-anchor="middle" fill="#111"  stroke="#111" stroke-width="0.14">1800</text>
<line x1="341.2" y1="580.6" x2="341.2" y2="582.8" stroke="#222" stroke-width="0.8" />
<text x="341.2" y="590" font-size="7.6" text-anchor="middle" fill="#111"  stroke="#111" stroke-width="0.14">1600</text>
<line x1="384.4" y1="580.6" x2="384.4" y2="582.8" stroke="#222" stroke-width="0.8" />
<text x="384.4" y="590" font-size="7.6" text-anchor="middle" fill="#111"  stroke="#111" stroke-width="0.14">1400</text>
<line x1="428" y1="580.6" x2="428" y2="582.8" stroke="#222" stroke-width="0.8" />
<text x="428" y="590" font-size="7.6" text-anchor="middle" fill="#111"  stroke="#111" stroke-width="0.14">1200</text>
<line x1="276.8" y1="580.6" x2="276.8" y2="581.9" stroke="#222" stroke-width="0.6" />
<line x1="319.8" y1="580.6" x2="319.8" y2="581.9" stroke="#222" stroke-width="0.6" />
<line x1="362.8" y1="580.6" x2="362.8" y2="581.9" stroke="#222" stroke-width="0.6" />
<line x1="406.2" y1="580.6" x2="406.2" y2="581.9" stroke="#222" stroke-width="0.6" />
<text x="352.6" y="598.6" font-size="7.6" text-anchor="middle" fill="#111"  stroke="#111" stroke-width="0.14">Wavenumber (cm<tspan font-size="4.6" dy="-2.2">-1</tspan><tspan dy="2.2">)</tspan></text>
<text x="251.4" y="517.3" font-size="7.4" fill="#111" text-anchor="middle" transform="rotate(-90 251.4 517.3)" stroke="#111" stroke-width="0.14">Absorbance (arb. units)</text>
<text x="258.2" y="463.4" font-size="7.2" fill="#111" stroke="#111" stroke-width="0.14">S-InO<tspan font-size="5" dy="1.8">x</tspan></text>
<text x="258.5" y="521.5" font-size="7" text-anchor="start" fill="#111"  stroke="#111" stroke-width="0.14">-0.6 V</text>
<line x1="266.3" y1="571" x2="266.3" y2="526.4" stroke="#111" stroke-width="0.8" />
<path d="M266.3 523.7 L267.8 526.9 L264.8 526.9 Z" fill="#111"/>
<text x="258.5" y="579.5" font-size="7" text-anchor="start" fill="#111"  stroke="#111" stroke-width="0.14">OCP</text>
<rect x="538.6" y="455.3" width="8.2" height="126.1" fill="#d9d9d9" stroke="none" stroke-width="1" />
<line x1="538.6" y1="455.3" x2="538.6" y2="581.4" stroke="#9a9a9a" stroke-width="0.45" stroke-dasharray="0.7 0.9"/>
<line x1="546.8" y1="455.3" x2="546.8" y2="581.4" stroke="#9a9a9a" stroke-width="0.45" stroke-dasharray="0.7 0.9"/>
<rect x="561" y="455.3" width="9.5" height="126.1" fill="#d9d9d9" stroke="none" stroke-width="1" />
<line x1="561" y1="455.3" x2="561" y2="581.4" stroke="#9a9a9a" stroke-width="0.45" stroke-dasharray="0.7 0.9"/>
<line x1="570.5" y1="455.3" x2="570.5" y2="581.4" stroke="#9a9a9a" stroke-width="0.45" stroke-dasharray="0.7 0.9"/>
<rect x="592" y="455.3" width="7.7" height="126.1" fill="#d9d9d9" stroke="none" stroke-width="1" />
<line x1="592" y1="455.3" x2="592" y2="581.4" stroke="#9a9a9a" stroke-width="0.45" stroke-dasharray="0.7 0.9"/>
<line x1="599.7" y1="455.3" x2="599.7" y2="581.4" stroke="#9a9a9a" stroke-width="0.45" stroke-dasharray="0.7 0.9"/>
<rect x="609.5" y="455.3" width="12.9" height="126.1" fill="#d9d9d9" stroke="none" stroke-width="1" />
<line x1="609.5" y1="455.3" x2="609.5" y2="581.4" stroke="#9a9a9a" stroke-width="0.45" stroke-dasharray="0.7 0.9"/>
<line x1="622.4" y1="455.3" x2="622.4" y2="581.4" stroke="#9a9a9a" stroke-width="0.45" stroke-dasharray="0.7 0.9"/>
<rect x="631.3" y="455.3" width="6.3" height="126.1" fill="#d9d9d9" stroke="none" stroke-width="1" />
<line x1="631.3" y1="455.3" x2="631.3" y2="581.4" stroke="#9a9a9a" stroke-width="0.45" stroke-dasharray="0.7 0.9"/>
<line x1="637.6" y1="455.3" x2="637.6" y2="581.4" stroke="#9a9a9a" stroke-width="0.45" stroke-dasharray="0.7 0.9"/>
<rect x="645.6" y="455.3" width="8.7" height="116.6" fill="#d9d9d9" stroke="none" stroke-width="1" />
<line x1="645.6" y1="455.3" x2="645.6" y2="571.9" stroke="#9a9a9a" stroke-width="0.45" stroke-dasharray="0.7 0.9"/>
<line x1="654.3" y1="455.3" x2="654.3" y2="571.9" stroke="#9a9a9a" stroke-width="0.45" stroke-dasharray="0.7 0.9"/>
<line x1="645.6" y1="571.9" x2="654.3" y2="571.9" stroke="#9a9a9a" stroke-width="0.45" stroke-dasharray="0.7 0.9"/>
<rect x="654.6" y="571.9" width="7.5" height="9.5" fill="#d9d9d9" stroke="none" stroke-width="1" />
<line x1="654.6" y1="571.9" x2="654.6" y2="581.4" stroke="#9a9a9a" stroke-width="0.45" stroke-dasharray="0.7 0.9"/>
<line x1="662.1" y1="571.9" x2="662.1" y2="581.4" stroke="#9a9a9a" stroke-width="0.45" stroke-dasharray="0.7 0.9"/>
<line x1="654.6" y1="571.9" x2="662.1" y2="571.9" stroke="#9a9a9a" stroke-width="0.45" stroke-dasharray="0.7 0.9"/>
<rect x="665.3" y="455.3" width="7.3" height="126.1" fill="#d9d9d9" stroke="none" stroke-width="1" />
<line x1="665.3" y1="455.3" x2="665.3" y2="581.4" stroke="#9a9a9a" stroke-width="0.45" stroke-dasharray="0.7 0.9"/>
<line x1="672.6" y1="455.3" x2="672.6" y2="581.4" stroke="#9a9a9a" stroke-width="0.45" stroke-dasharray="0.7 0.9"/>
<text x="544.79" y="457" font-size="5.8" fill="#111" text-anchor="end" transform="rotate(-90 544.79 457)" stroke="#111" stroke-width="0.14">*COOHNH<tspan font-size="4" dy="1.3">2</tspan></text>
<text x="567.89" y="457" font-size="5.8" fill="#111" text-anchor="end" transform="rotate(-90 567.89 457)" stroke="#111" stroke-width="0.14">*NH<tspan font-size="4" dy="1.3">2</tspan></text>
<text x="597.89" y="457" font-size="5.8" fill="#111" text-anchor="end" transform="rotate(-90 597.89 457)" stroke="#111" stroke-width="0.14">*NH<tspan font-size="4" dy="1.3">2</tspan></text>
<text x="618.09" y="457" font-size="5.8" fill="#111" text-anchor="end" transform="rotate(-90 618.09 457)" stroke="#111" stroke-width="0.14">*C-N</text>
<text x="636.49" y="457" font-size="5.8" fill="#111" text-anchor="end" transform="rotate(-90 636.49 457)" stroke="#111" stroke-width="0.14">*NH<tspan font-size="4" dy="1.3">2</tspan></text>
<text x="652.09" y="457" font-size="5.8" fill="#111" text-anchor="end" transform="rotate(-90 652.09 457)" stroke="#111" stroke-width="0.14">*CO<tspan font-size="4" dy="1.3">3</tspan><tspan dy="-1.3">/NO</tspan><tspan font-size="4" dy="1.3">3</tspan></text>
<text x="671.09" y="457" font-size="5.8" fill="#111" text-anchor="end" transform="rotate(-90 671.09 457)" stroke="#111" stroke-width="0.14">*NH<tspan font-size="4" dy="1.3">2</tspan><tspan dy="-1.3">OH</tspan></text>
<path d="M485.6 512.71 L486.3 512.53 L487 512.1 L487.7 512.19 L488.4 512.59 L489.1 512.52 L489.8 512.62 L490.5 512.53 L491.2 512.32 L491.9 512.08 L492.6 512.08 L493.3 512.27 L494 511.98 L494.7 512.4 L495.4 511.83 L496.1 511.67 L496.8 512.02 L497.5 511.57 L498.2 512.37 L498.9 511.66 L499.6 511.84 L500.3 511.74 L501 511.54 L501.7 511.24 L502.4 511.16 L503.1 511.79 L503.8 511.77 L504.5 512 L505.2 511.03 L505.9 511.48 L506.6 511.28 L507.3 511.43 L508 511.04 L508.7 511.29 L509.4 511.27 L510.1 511.14 L510.8 511.3 L511.5 510.83 L512.2 511.2 L512.9 510.58 L513.6 511.11 L514.3 509.95 L515 510.58 L515.7 510.31 L516.4 510.45 L517.1 510.64 L517.8 510.5 L518.5 510.28 L519.2 510.62 L519.9 509.76 L520.6 509.85 L521.3 510.37 L522 510 L522.7 509.33 L523.4 509.87 L524.1 509.42 L524.8 510.01 L525.5 509.86 L526.2 509.36 L526.9 509.75 L527.6 509.15 L528.3 509.51 L529 509.35 L529.7 509.1 L530.4 508.7 L531.1 508.92 L531.8 508.35 L532.5 508.72 L533.2 508.33 L533.9 509.02 L534.6 508.39 L535.3 507.93 L536 508.57 L536.7 508.39 L537.4 508.02 L538.1 508.5 L538.8 507.98 L539.5 507.62 L540.2 507.24 L540.9 506.45 L541.6 507.06 L542.3 506.91 L543 506.21 L543.7 505.65 L544.4 505.58 L545.1 504.71 L545.8 504.61 L546.5 504.22 L547.2 503.77 L547.9 502.79 L548.6 502.07 L549.3 501.47 L550 500.87 L550.7 499.67 L551.4 498.66 L552.1 497.99 L552.8 497.05 L553.5 496.25 L554.2 495.52 L554.9 494.7 L555.6 493.71 L556.3 492.76 L557 491.77 L557.7 491.14 L558.4 490.49 L559.1 489.74 L559.8 489.23 L560.5 488.14 L561.2 487.56 L561.9 487.51 L562.6 486.68 L563.3 486.35 L564 485.85 L564.7 485.92 L565.4 485.39 L566.1 485.11 L566.8 485.28 L567.5 485.17 L568.2 485.53 L568.9 485.41 L569.6 485.84 L570.3 486.13 L571 486.65 L571.7 486.73 L572.4 487.41 L573.1 487 L573.8 487.47 L574.5 487.61 L575.2 488.15 L575.9 488.2 L576.6 488.51 L577.3 488.49 L578 488.57 L578.7 488.63 L579.4 488.99 L580.1 489.09 L580.8 489.43 L581.5 489.59 L582.2 489.89 L582.9 489.75 L583.6 489.72 L584.3 489.77 L585 490.17 L585.7 490.35 L586.4 490.85 L587.1 490.5 L587.8 490.97 L588.5 491.07 L589.2 490.39 L589.9 491 L590.6 491 L591.3 491.06 L592 490.71 L592.7 490.92 L593.4 490.51 L594.1 490.55 L594.8 490.5 L595.5 490.85 L596.2 490.25 L596.9 490.43 L597.6 490.09 L598.3 489.76 L599 489.84 L599.7 489.76 L600.4 489.21 L601.1 489.33 L601.8 488.76 L602.5 488.49 L603.2 488.53 L603.9 488.18 L604.6 487.77 L605.3 487.41 L606 487.67 L606.7 487.59 L607.4 487.29 L608.1 487.3 L608.8 486.67 L609.5 486.86 L610.2 486.48 L610.9 485.92 L611.6 485.06 L612.3 484.54 L613 483.83 L613.7 483.36 L614.4 482.53 L615.1 481.99 L615.8 481.3 L616.5 481.34 L617.2 481.23 L617.9 480.85 L618.6 481.4 L619.3 481.72 L620 482.15 L620.7 482.47 L621.4 483.95 L622.1 483.86 L622.8 485.43 L623.5 486.51 L624.2 488.19 L624.9 489.02 L625.6 490.11 L626.3 490.87 L627 491.14 L627.7 490.99 L628.4 491.23 L629.1 491.01 L629.8 490.99 L630.5 490.47 L631.2 490.42 L631.9 490.17 L632.6 489.87 L633.3 489.95 L634 489.79 L634.7 489.83 L635.4 489.18 L636.1 489.12 L636.8 489.07 L637.5 488.51 L638.2 488.3 L638.9 488.06 L639.6 487.58 L640.3 487.23 L641 487.46 L641.7 486.9 L642.4 486.49 L643.1 485.84 L643.8 485.81 L644.5 485.69 L645.2 484.72 L645.9 484.39 L646.6 484.5 L647.3 484.17 L648 483.65 L648.7 482.5 L649.4 482.21 L650.1 481.45 L650.8 481.61 L651.5 481.57 L652.2 482.13 L652.9 483.05 L653.6 483.6 L654.3 484.39 L655 485.51 L655.7 486.75 L656.4 487.89 L657.1 489.51 L657.8 491.11 L658.5 492.86 L659.2 493.42 L659.9 495.02 L660.6 496.29 L661.3 498.08 L662 499.7 L662.7 500.34 L663.4 501.49 L664.1 502.88 L664.8 503.09 L665.5 504.72 L666.2 505.03 L666.9 506.87 L667.6 507.69 L668.3 508.63 L669 509.72 L669.7 510.32 L670.4 511.5 L671.1 511.94 L671.8 512.7 L672.5 513.86 L673.2 513.72 L673.9 514.63 L674.6 514.74 L675.3 515.79 L676 516.24 L676.7 516.56 L677.4 517.29 L678.1 517.96 L678.8 518.39 L679.5 518.52 L680.2 518.93 L680.9 519.6 L681.6 519.28" fill="none" stroke="#c3262e" stroke-width="0.85" stroke-linejoin="round" />
<path d="M485.6 523.92 L486.3 523.92 L487 524.22 L487.7 524.17 L488.4 523.79 L489.1 523.8 L489.8 523.33 L490.5 523.58 L491.2 523.66 L491.9 523.51 L492.6 523.55 L493.3 523.65 L494 523.23 L494.7 523.29 L495.4 522.95 L496.1 523.64 L496.8 523.06 L497.5 522.86 L498.2 523.43 L498.9 523.14 L499.6 523.39 L500.3 523.02 L501 523.6 L501.7 523.2 L502.4 523.02 L503.1 522.97 L503.8 522.84 L504.5 523.05 L505.2 523.3 L505.9 522.66 L506.6 522.45 L507.3 522.82 L508 522.89 L508.7 522.21 L509.4 522.37 L510.1 522.25 L510.8 522.59 L511.5 522.53 L512.2 522.19 L512.9 522.05 L513.6 522.46 L514.3 521.74 L515 522.37 L515.7 522.14 L516.4 522.61 L517.1 522.34 L517.8 521.92 L518.5 521.95 L519.2 521.91 L519.9 521.75 L520.6 521.91 L521.3 522.08 L522 521.42 L522.7 521.69 L523.4 522.06 L524.1 521.81 L524.8 521.37 L525.5 521.31 L526.2 521.23 L526.9 520.97 L527.6 521.58 L528.3 521.23 L529 520.96 L529.7 520.69 L530.4 520.85 L531.1 520.73 L531.8 521.19 L532.5 520.57 L533.2 520.62 L533.9 520.76 L534.6 520.57 L535.3 520.26 L536 519.67 L536.7 520.44 L537.4 520.12 L538.1 519.74 L538.8 519.69 L539.5 519.32 L540.2 519.17 L540.9 518.85 L541.6 519.14 L542.3 518.93 L543 518.62 L543.7 518.51 L544.4 518.18 L545.1 517.79 L545.8 517.2 L546.5 517.16 L547.2 516.85 L547.9 516.22 L548.6 515.84 L549.3 514.86 L550 514.15 L550.7 514.1 L551.4 513.04 L552.1 512.64 L552.8 511.93 L553.5 511.39 L554.2 510.75 L554.9 510.14 L555.6 509.32 L556.3 509.7 L557 508.76 L557.7 507.71 L558.4 507.44 L559.1 506.88 L559.8 506.46 L560.5 505.51 L561.2 505.78 L561.9 505.55 L562.6 504.61 L563.3 504.37 L564 503.82 L564.7 502.82 L565.4 502.9 L566.1 501.73 L566.8 501.63 L567.5 501.46 L568.2 501.81 L568.9 501.64 L569.6 501.8 L570.3 501.93 L571 502.52 L571.7 502.9 L572.4 503.47 L573.1 504.02 L573.8 504.19 L574.5 504.28 L575.2 504.4 L575.9 504.97 L576.6 504.76 L577.3 504.83 L578 505.39 L578.7 505.45 L579.4 505.31 L580.1 505.25 L580.8 505.21 L581.5 505.72 L582.2 505.43 L582.9 505.84 L583.6 505.48 L584.3 505.76 L585 505.88 L585.7 505.86 L586.4 505.92 L587.1 505.98 L587.8 505.63 L588.5 505.64 L589.2 505.88 L589.9 506.34 L590.6 505.85 L591.3 505.64 L592 505.68 L592.7 505.82 L593.4 506.06 L594.1 505.59 L594.8 505.81 L595.5 505.67 L596.2 505.47 L596.9 505.25 L597.6 505.35 L598.3 505.12 L599 505.32 L599.7 504.64 L600.4 505.21 L601.1 504.97 L601.8 504.77 L602.5 504.82 L603.2 504.41 L603.9 503.64 L604.6 503.85 L605.3 503.69 L606 503.05 L606.7 502.47 L607.4 502.29 L608.1 501.7 L608.8 500.83 L609.5 500.22 L610.2 499.53 L610.9 498.93 L611.6 498.54 L612.3 498.38 L613 497.3 L613.7 497.18 L614.4 497.26 L615.1 496.59 L615.8 496.27 L616.5 496.26 L617.2 495.75 L617.9 495.78 L618.6 495.93 L619.3 496.41 L620 497.39 L620.7 498.21 L621.4 498.65 L622.1 499.36 L622.8 500.39 L623.5 501.17 L624.2 501.75 L624.9 501.94 L625.6 503.05 L626.3 503.36 L627 504.83 L627.7 505.29 L628.4 505.97 L629.1 506.99 L629.8 507.27 L630.5 507.21 L631.2 507.22 L631.9 507.18 L632.6 506.93 L633.3 506.95 L634 507.27 L634.7 506.4 L635.4 506.24 L636.1 506.21 L636.8 506.15 L637.5 505.9 L638.2 505.24 L638.9 505.23 L639.6 505.02 L640.3 504.64 L641 504.78 L641.7 504.44 L642.4 504.55 L643.1 504.19 L643.8 503.65 L644.5 503.62 L645.2 503.29 L645.9 503.02 L646.6 502.9 L647.3 503.15 L648 502.72 L648.7 502.4 L649.4 502.69 L650.1 503.22 L650.8 503.76 L651.5 503.25 L652.2 503.75 L652.9 504.13 L653.6 504.29 L654.3 505.19 L655 505.59 L655.7 506.21 L656.4 507.25 L657.1 507.24 L657.8 508.12 L658.5 508.77 L659.2 509.08 L659.9 509.76 L660.6 510.99 L661.3 511.57 L662 512.28 L662.7 512.87 L663.4 514.29 L664.1 515.16 L664.8 516.54 L665.5 517.33 L666.2 518.13 L666.9 518.94 L667.6 519.78 L668.3 520.48 L669 521.48 L669.7 522.18 L670.4 522.92 L671.1 523.64 L671.8 524.05 L672.5 524.41 L673.2 525.3 L673.9 526.01 L674.6 525.95 L675.3 526.74 L676 527.24 L676.7 527.68 L677.4 528.1 L678.1 528.35 L678.8 528.72 L679.5 529.5 L680.2 529.83 L680.9 529.36 L681.6 529.35" fill="none" stroke="#e27a7e" stroke-width="0.85" stroke-linejoin="round" />
<path d="M485.6 535.84 L486.3 535.86 L487 535.58 L487.7 536.04 L488.4 535.92 L489.1 535.78 L489.8 536.11 L490.5 536.46 L491.2 536.2 L491.9 536.1 L492.6 535.69 L493.3 535.93 L494 535.73 L494.7 535.99 L495.4 535.82 L496.1 535.64 L496.8 535.75 L497.5 535.41 L498.2 535.75 L498.9 535.89 L499.6 535.4 L500.3 535.59 L501 535.02 L501.7 535.62 L502.4 535.57 L503.1 535.08 L503.8 535.72 L504.5 535.29 L505.2 534.8 L505.9 534.86 L506.6 535.37 L507.3 535.06 L508 535.36 L508.7 534.68 L509.4 535 L510.1 535.23 L510.8 534.8 L511.5 535.1 L512.2 534.83 L512.9 534.97 L513.6 534.95 L514.3 535.39 L515 534.53 L515.7 535 L516.4 535.11 L517.1 534.5 L517.8 534.77 L518.5 535.3 L519.2 534.97 L519.9 533.97 L520.6 534.61 L521.3 534.22 L522 534.68 L522.7 534.4 L523.4 534.41 L524.1 534.3 L524.8 534.54 L525.5 534.3 L526.2 534.15 L526.9 534.26 L527.6 534.35 L528.3 533.98 L529 534.38 L529.7 533.63 L530.4 534.05 L531.1 533.77 L531.8 534.16 L532.5 533.52 L533.2 533.42 L533.9 533.15 L534.6 533.85 L535.3 533.4 L536 532.87 L536.7 532.92 L537.4 532.64 L538.1 533.1 L538.8 532.68 L539.5 531.92 L540.2 532.3 L540.9 532.29 L541.6 531.88 L542.3 531.79 L543 531.44 L543.7 531.3 L544.4 531.06 L545.1 530.59 L545.8 530.58 L546.5 530.26 L547.2 529.91 L547.9 529.43 L548.6 529.02 L549.3 528.99 L550 528.78 L550.7 527.63 L551.4 527.71 L552.1 527.79 L552.8 527.3 L553.5 526.52 L554.2 526.64 L554.9 525.68 L555.6 525.34 L556.3 525.61 L557 524.65 L557.7 524.33 L558.4 523.61 L559.1 523.41 L559.8 523.01 L560.5 522.91 L561.2 522.11 L561.9 522.4 L562.6 521.63 L563.3 521.15 L564 520.74 L564.7 520.7 L565.4 520.55 L566.1 519.8 L566.8 520.07 L567.5 519.93 L568.2 519.82 L568.9 519.56 L569.6 519.13 L570.3 519.69 L571 519.47 L571.7 519.68 L572.4 519.25 L573.1 519.73 L573.8 519.96 L574.5 519.78 L575.2 520.2 L575.9 520.66 L576.6 520.44 L577.3 520.36 L578 521.24 L578.7 520.28 L579.4 520.72 L580.1 521.18 L580.8 521.08 L581.5 520.79 L582.2 521.54 L582.9 521.8 L583.6 521.52 L584.3 522.17 L585 522.03 L585.7 522.27 L586.4 521.67 L587.1 522.09 L587.8 522.52 L588.5 522.63 L589.2 522.45 L589.9 522.11 L590.6 522.1 L591.3 521.84 L592 522.18 L592.7 521.64 L593.4 521.73 L594.1 521.07 L594.8 521.07 L595.5 521.71 L596.2 521.13 L596.9 521 L597.6 520.24 L598.3 520.58 L599 520.9 L599.7 519.83 L600.4 519.42 L601.1 519.75 L601.8 519.46 L602.5 519.33 L603.2 518.86 L603.9 518.63 L604.6 518.46 L605.3 518.72 L606 518.35 L606.7 518.38 L607.4 517.73 L608.1 517.96 L608.8 517.54 L609.5 517.51 L610.2 517.57 L610.9 517.21 L611.6 517 L612.3 516.57 L613 516.89 L613.7 516.99 L614.4 516.58 L615.1 516.68 L615.8 516.25 L616.5 516.39 L617.2 516.88 L617.9 517.2 L618.6 516.93 L619.3 516.75 L620 517.24 L620.7 517.15 L621.4 517.67 L622.1 518.43 L622.8 518.25 L623.5 518.37 L624.2 518.88 L624.9 518.76 L625.6 519.15 L626.3 519.32 L627 519.57 L627.7 519.26 L628.4 519.94 L629.1 520.11 L629.8 519.42 L630.5 519.38 L631.2 519.86 L631.9 520.47 L632.6 520.12 L633.3 520.28 L634 520.23 L634.7 520.29 L635.4 519.88 L636.1 519.84 L636.8 520.03 L637.5 520.03 L638.2 519.97 L638.9 519.85 L639.6 519.59 L640.3 519.93 L641 519.72 L641.7 519.81 L642.4 518.89 L643.1 519.73 L643.8 518.85 L644.5 519.49 L645.2 519.28 L645.9 519.48 L646.6 519.37 L647.3 519.45 L648 519.64 L648.7 519.77 L649.4 519.59 L650.1 519.3 L650.8 519.91 L651.5 520.48 L652.2 520.43 L652.9 521.09 L653.6 521.28 L654.3 521.57 L655 522.54 L655.7 523.15 L656.4 523.22 L657.1 523.76 L657.8 524.55 L658.5 524.52 L659.2 525.17 L659.9 526.2 L660.6 526.69 L661.3 526.94 L662 527.5 L662.7 528.43 L663.4 528.67 L664.1 529.59 L664.8 530.35 L665.5 530.49 L666.2 531.93 L666.9 532.64 L667.6 533.36 L668.3 533.35 L669 533.95 L669.7 534.59 L670.4 534.94 L671.1 536.24 L671.8 535.93 L672.5 536.53 L673.2 537.09 L673.9 537.56 L674.6 538.2 L675.3 537.95 L676 538.8 L676.7 538.97 L677.4 538.97 L678.1 539.61 L678.8 539.51 L679.5 540.53 L680.2 540.2 L680.9 540.86 L681.6 541.14" fill="none" stroke="#f6c0bc" stroke-width="0.85" stroke-linejoin="round" />
<path d="M485.6 546.08 L486.3 546.31 L487 546 L487.7 546.46 L488.4 546.25 L489.1 545.99 L489.8 545.99 L490.5 546.31 L491.2 545.74 L491.9 546.48 L492.6 545.83 L493.3 545.95 L494 545.73 L494.7 546.33 L495.4 546.09 L496.1 546.17 L496.8 545.97 L497.5 545.79 L498.2 546.15 L498.9 545.85 L499.6 545.75 L500.3 545.74 L501 545.74 L501.7 545.58 L502.4 545.43 L503.1 545.03 L503.8 545.89 L504.5 545.01 L505.2 544.76 L505.9 545.07 L506.6 545.69 L507.3 545.47 L508 544.97 L508.7 545.14 L509.4 545.03 L510.1 544.5 L510.8 544.87 L511.5 544.99 L512.2 545.17 L512.9 544.54 L513.6 544.24 L514.3 544.38 L515 544.82 L515.7 544.72 L516.4 544.71 L517.1 544.67 L517.8 544.51 L518.5 544.22 L519.2 544.64 L519.9 544.58 L520.6 544.59 L521.3 544.72 L522 544.06 L522.7 543.74 L523.4 543.83 L524.1 544.76 L524.8 543.95 L525.5 544.22 L526.2 544.06 L526.9 544.19 L527.6 544.75 L528.3 543.75 L529 543.76 L529.7 543.58 L530.4 543.72 L531.1 543.71 L531.8 543.26 L532.5 543.76 L533.2 543.65 L533.9 543.39 L534.6 543.18 L535.3 543.07 L536 542.63 L536.7 543.11 L537.4 542.61 L538.1 542.62 L538.8 542.88 L539.5 542.28 L540.2 542.24 L540.9 542.44 L541.6 542.54 L542.3 541.73 L543 541.99 L543.7 541.35 L544.4 541.4 L545.1 541.19 L545.8 540.52 L546.5 540.78 L547.2 540.67 L547.9 539.92 L548.6 539.63 L549.3 538.91 L550 539.29 L550.7 538.47 L551.4 537.75 L552.1 537.87 L552.8 536.91 L553.5 536.7 L554.2 535.94 L554.9 536.41 L555.6 536.22 L556.3 535.12 L557 534.73 L557.7 534.38 L558.4 534.02 L559.1 533.96 L559.8 533.85 L560.5 532.92 L561.2 532.96 L561.9 532.08 L562.6 532.59 L563.3 531.89 L564 531.46 L564.7 531.76 L565.4 531.14 L566.1 531.34 L566.8 531.14 L567.5 531.22 L568.2 530.6 L568.9 530.85 L569.6 530.97 L570.3 530.89 L571 531.39 L571.7 530.91 L572.4 531.44 L573.1 531.64 L573.8 530.92 L574.5 531.3 L575.2 531.44 L575.9 531.67 L576.6 532.05 L577.3 532.05 L578 532.26 L578.7 532.28 L579.4 532.52 L580.1 532.81 L580.8 533.02 L581.5 532.78 L582.2 533.09 L582.9 533.06 L583.6 533.33 L584.3 533.13 L585 533.84 L585.7 533.86 L586.4 533.75 L587.1 533.68 L587.8 533.8 L588.5 533.79 L589.2 533.6 L589.9 534.41 L590.6 534.82 L591.3 533.67 L592 533.65 L592.7 534.05 L593.4 534 L594.1 533.39 L594.8 533.23 L595.5 533.76 L596.2 533.04 L596.9 533.79 L597.6 533.21 L598.3 533.24 L599 533.11 L599.7 532.85 L600.4 532.83 L601.1 532.66 L601.8 532.92 L602.5 532.46 L603.2 532.34 L603.9 532.09 L604.6 531.93 L605.3 531.78 L606 531.84 L606.7 532.18 L607.4 531.88 L608.1 531.55 L608.8 531.8 L609.5 531.53 L610.2 531.24 L610.9 531.06 L611.6 530.75 L612.3 531.02 L613 530.82 L613.7 530.46 L614.4 530.5 L615.1 531.28 L615.8 530.85 L616.5 530.95 L617.2 530.92 L617.9 530.83 L618.6 531.15 L619.3 531.4 L620 531.17 L620.7 531.51 L621.4 531.77 L622.1 531.54 L622.8 531.85 L623.5 531.77 L624.2 532.26 L624.9 532.16 L625.6 532.68 L626.3 532.34 L627 533.07 L627.7 532.68 L628.4 532.64 L629.1 532.7 L629.8 533.15 L630.5 532.81 L631.2 533.5 L631.9 533.37 L632.6 533.17 L633.3 532.67 L634 532.99 L634.7 532.78 L635.4 532.46 L636.1 532.97 L636.8 533.36 L637.5 532.62 L638.2 532.9 L638.9 532.95 L639.6 532.33 L640.3 532.43 L641 532.53 L641.7 532.54 L642.4 532.1 L643.1 532.41 L643.8 532.3 L644.5 532.56 L645.2 531.93 L645.9 532.2 L646.6 532.25 L647.3 532.34 L648 532.67 L648.7 532.42 L649.4 533.37 L650.1 532.64 L650.8 533.19 L651.5 533.43 L652.2 533.64 L652.9 533.6 L653.6 533.71 L654.3 534.16 L655 534.7 L655.7 534.9 L656.4 535.37 L657.1 535.73 L657.8 535.75 L658.5 536.12 L659.2 537.11 L659.9 537.03 L660.6 537.16 L661.3 538.42 L662 538.15 L662.7 538.52 L663.4 539.38 L664.1 539.24 L664.8 539.68 L665.5 540.53 L666.2 540.44 L666.9 541.67 L667.6 541.48 L668.3 542.55 L669 542.35 L669.7 542.77 L670.4 543.04 L671.1 543.59 L671.8 543.97 L672.5 544.54 L673.2 545.18 L673.9 545.11 L674.6 545.63 L675.3 545.76 L676 547.07 L676.7 547.07 L677.4 547.47 L678.1 547.82 L678.8 548.42 L679.5 548.57 L680.2 549 L680.9 549.01 L681.6 549.26" fill="none" stroke="#b8d8ee" stroke-width="0.85" stroke-linejoin="round" />
<path d="M485.6 554.33 L486.3 555.06 L487 554.39 L487.7 554.52 L488.4 554.93 L489.1 554.76 L489.8 554.94 L490.5 555.15 L491.2 555.17 L491.9 555.04 L492.6 554.62 L493.3 555.18 L494 554.43 L494.7 554.61 L495.4 554.86 L496.1 554.54 L496.8 554.55 L497.5 554.47 L498.2 554.88 L498.9 553.91 L499.6 554.82 L500.3 554.75 L501 554.45 L501.7 554.58 L502.4 554.18 L503.1 554.68 L503.8 555.15 L504.5 554.13 L505.2 554.69 L505.9 554.31 L506.6 554.22 L507.3 554.16 L508 554.21 L508.7 553.93 L509.4 553.88 L510.1 554.61 L510.8 554.17 L511.5 554.3 L512.2 554.22 L512.9 554.25 L513.6 553.73 L514.3 553.86 L515 554.24 L515.7 554.32 L516.4 553.77 L517.1 553.9 L517.8 553.77 L518.5 554.18 L519.2 554.09 L519.9 553.99 L520.6 553.81 L521.3 554.04 L522 553.94 L522.7 553.72 L523.4 553.96 L524.1 553.69 L524.8 554.06 L525.5 553.95 L526.2 553.58 L526.9 553.86 L527.6 553.69 L528.3 553.45 L529 553.35 L529.7 553.11 L530.4 553.18 L531.1 553.49 L531.8 553.65 L532.5 553.12 L533.2 553.25 L533.9 553.23 L534.6 553.27 L535.3 553.1 L536 553.22 L536.7 553.02 L537.4 552.54 L538.1 552.74 L538.8 551.95 L539.5 552.38 L540.2 552.31 L540.9 552.33 L541.6 551.98 L542.3 552.12 L543 552.1 L543.7 551.4 L544.4 551.31 L545.1 551.34 L545.8 551.21 L546.5 550.92 L547.2 550.88 L547.9 550.15 L548.6 550.4 L549.3 550.25 L550 549.98 L550.7 549.55 L551.4 549.11 L552.1 549 L552.8 548.61 L553.5 547.95 L554.2 547.92 L554.9 547.78 L555.6 547.39 L556.3 547.01 L557 546.92 L557.7 546.62 L558.4 546.47 L559.1 546.19 L559.8 546.01 L560.5 545.98 L561.2 545.51 L561.9 545.32 L562.6 544.65 L563.3 543.96 L564 544.35 L564.7 544.4 L565.4 543.95 L566.1 543.72 L566.8 543.46 L567.5 543.93 L568.2 543.57 L568.9 543.81 L569.6 544.11 L570.3 544.06 L571 544.62 L571.7 544.17 L572.4 544.61 L573.1 544.73 L573.8 544.58 L574.5 544.96 L575.2 545.01 L575.9 545.09 L576.6 545.62 L577.3 545.54 L578 546.32 L578.7 545.88 L579.4 546.06 L580.1 546.34 L580.8 546.29 L581.5 546.53 L582.2 546.45 L582.9 546.33 L583.6 546.16 L584.3 546.51 L585 547.27 L585.7 547.05 L586.4 547.02 L587.1 546.89 L587.8 546.99 L588.5 547.11 L589.2 546.68 L589.9 546.8 L590.6 546.75 L591.3 547.25 L592 546.63 L592.7 547.13 L593.4 546.67 L594.1 547.41 L594.8 546.65 L595.5 546.61 L596.2 546.87 L596.9 546.68 L597.6 546.62 L598.3 546.04 L599 546.51 L599.7 546.57 L600.4 546.04 L601.1 545.86 L601.8 545.63 L602.5 546.08 L603.2 545.81 L603.9 545.66 L604.6 545.27 L605.3 545.91 L606 545.64 L606.7 545.35 L607.4 545.65 L608.1 544.98 L608.8 545.37 L609.5 544.84 L610.2 545.39 L610.9 544.92 L611.6 545.24 L612.3 544.79 L613 544.96 L613.7 545.12 L614.4 544.59 L615.1 544.82 L615.8 544.59 L616.5 545.03 L617.2 544.7 L617.9 544.8 L618.6 544.91 L619.3 545.32 L620 544.85 L620.7 545.19 L621.4 545.21 L622.1 545.26 L622.8 545.3 L623.5 545.56 L624.2 545.75 L624.9 545.41 L625.6 545.96 L626.3 545.69 L627 546.07 L627.7 546.71 L628.4 545.96 L629.1 546.24 L629.8 546.23 L630.5 546.56 L631.2 546.21 L631.9 545.88 L632.6 545.91 L633.3 546.34 L634 546.33 L634.7 546.51 L635.4 546.07 L636.1 546.33 L636.8 545.85 L637.5 546.39 L638.2 546 L638.9 545.8 L639.6 545.97 L640.3 546.32 L641 545.63 L641.7 545.49 L642.4 545.51 L643.1 545.45 L643.8 545.71 L644.5 545.79 L645.2 545.66 L645.9 545.76 L646.6 546.02 L647.3 545.68 L648 545.48 L648.7 545.28 L649.4 545.99 L650.1 545.84 L650.8 546.06 L651.5 546.35 L652.2 546.51 L652.9 546.17 L653.6 546.51 L654.3 546.97 L655 547.13 L655.7 547.67 L656.4 547.5 L657.1 547.36 L657.8 548.42 L658.5 547.99 L659.2 548.43 L659.9 549.04 L660.6 548.96 L661.3 550.13 L662 549.86 L662.7 550.21 L663.4 550.25 L664.1 551.2 L664.8 551.06 L665.5 551.02 L666.2 551.81 L666.9 551.38 L667.6 551.98 L668.3 552.53 L669 552.83 L669.7 552.91 L670.4 553.9 L671.1 554.23 L671.8 553.99 L672.5 554.67 L673.2 554.78 L673.9 555.19 L674.6 555.89 L675.3 556.02 L676 556.29 L676.7 556.67 L677.4 556.66 L678.1 557.55 L678.8 557.34 L679.5 558.11 L680.2 557.91 L680.9 558.13 L681.6 558.8" fill="none" stroke="#74b2de" stroke-width="0.85" stroke-linejoin="round" />
<path d="M485.6 565.84 L486.3 565.86 L487 566.14 L487.7 566.45 L488.4 566.13 L489.1 565.88 L489.8 565.69 L490.5 565.8 L491.2 565.93 L491.9 566.02 L492.6 565.79 L493.3 566.27 L494 565.7 L494.7 565.76 L495.4 566.06 L496.1 566.05 L496.8 565.83 L497.5 566.16 L498.2 565.56 L498.9 566.31 L499.6 566.45 L500.3 566.38 L501 565.92 L501.7 566.37 L502.4 565.89 L503.1 566.2 L503.8 565.81 L504.5 565.91 L505.2 565.98 L505.9 565.41 L506.6 565.78 L507.3 566.26 L508 565.09 L508.7 565.91 L509.4 566.03 L510.1 565.88 L510.8 565.83 L511.5 566.12 L512.2 565.85 L512.9 565.28 L513.6 565.51 L514.3 565.66 L515 565.76 L515.7 565.6 L516.4 565.68 L517.1 566.11 L517.8 564.95 L518.5 565.95 L519.2 565.89 L519.9 565.79 L520.6 565.63 L521.3 565.63 L522 565.69 L522.7 565.64 L523.4 565.39 L524.1 565.75 L524.8 565.33 L525.5 565.51 L526.2 565.41 L526.9 565.2 L527.6 565.62 L528.3 565.43 L529 565.14 L529.7 565.39 L530.4 565.04 L531.1 565.73 L531.8 565.47 L532.5 565.81 L533.2 565.15 L533.9 565.44 L534.6 564.99 L535.3 564.98 L536 565.14 L536.7 565.22 L537.4 565.3 L538.1 564.96 L538.8 565.25 L539.5 565.16 L540.2 564.64 L540.9 564.74 L541.6 564.49 L542.3 565.07 L543 564.42 L543.7 564.7 L544.4 564.61 L545.1 564.22 L545.8 564.06 L546.5 564.15 L547.2 563.74 L547.9 563.49 L548.6 563.42 L549.3 563.6 L550 563.41 L550.7 563.64 L551.4 562.59 L552.1 563 L552.8 562.42 L553.5 562.83 L554.2 562.55 L554.9 562.24 L555.6 562.41 L556.3 561.79 L557 561.59 L557.7 561.31 L558.4 561.25 L559.1 561.3 L559.8 561.31 L560.5 561.32 L561.2 560.8 L561.9 560.55 L562.6 560.51 L563.3 560.36 L564 560.23 L564.7 560.14 L565.4 559.93 L566.1 560.06 L566.8 559.9 L567.5 559.96 L568.2 559.66 L568.9 560.05 L569.6 560.18 L570.3 560.23 L571 559.97 L571.7 559.86 L572.4 559.86 L573.1 559.94 L573.8 560.13 L574.5 560.26 L575.2 559.96 L575.9 560.63 L576.6 560.14 L577.3 560.42 L578 560.48 L578.7 560.93 L579.4 561.25 L580.1 560.77 L580.8 560.85 L581.5 560.89 L582.2 561 L582.9 561.07 L583.6 561.78 L584.3 560.95 L585 561.25 L585.7 561.13 L586.4 561.46 L587.1 561.28 L587.8 561.58 L588.5 561.2 L589.2 562.01 L589.9 561.55 L590.6 561.07 L591.3 561.68 L592 561.39 L592.7 561.21 L593.4 561.59 L594.1 561.34 L594.8 561.63 L595.5 561.28 L596.2 561.62 L596.9 561.4 L597.6 561.42 L598.3 561.33 L599 561.17 L599.7 561.13 L600.4 561.29 L601.1 561.31 L601.8 560.99 L602.5 561.6 L603.2 561.43 L603.9 560.68 L604.6 561.19 L605.3 560.87 L606 560.9 L606.7 560.61 L607.4 561.18 L608.1 560.54 L608.8 560.69 L609.5 560.5 L610.2 561.13 L610.9 560.95 L611.6 560.29 L612.3 560.49 L613 560.69 L613.7 560.49 L614.4 560.51 L615.1 560.34 L615.8 560.68 L616.5 560.38 L617.2 560.9 L617.9 561.35 L618.6 560.74 L619.3 561.3 L620 561.07 L620.7 560.9 L621.4 561.07 L622.1 561.01 L622.8 561.37 L623.5 561.61 L624.2 561.76 L624.9 561.55 L625.6 561.4 L626.3 561.76 L627 562.25 L627.7 561.97 L628.4 561.93 L629.1 561.47 L629.8 561.89 L630.5 562.14 L631.2 561.77 L631.9 562.32 L632.6 561.83 L633.3 561.74 L634 561.78 L634.7 561.86 L635.4 562.09 L636.1 561.66 L636.8 561.31 L637.5 561.68 L638.2 561.78 L638.9 561.97 L639.6 561.26 L640.3 561.84 L641 561.59 L641.7 561.47 L642.4 561.12 L643.1 561.03 L643.8 560.96 L644.5 561.37 L645.2 561.15 L645.9 561.31 L646.6 561.45 L647.3 560.97 L648 560.92 L648.7 561.38 L649.4 560.56 L650.1 560.76 L650.8 560.77 L651.5 560.77 L652.2 560.91 L652.9 560.68 L653.6 561.2 L654.3 560.62 L655 560.8 L655.7 560.65 L656.4 560.81 L657.1 561.4 L657.8 561.54 L658.5 561.48 L659.2 561.89 L659.9 562.01 L660.6 561.9 L661.3 562.23 L662 562.54 L662.7 563.15 L663.4 562.77 L664.1 563.2 L664.8 563.47 L665.5 563.87 L666.2 563.91 L666.9 564.3 L667.6 564 L668.3 564.42 L669 564.23 L669.7 564.9 L670.4 565.69 L671.1 565.4 L671.8 565.59 L672.5 565.88 L673.2 566.1 L673.9 566 L674.6 566.41 L675.3 566.8 L676 567.14 L676.7 567.14 L677.4 567.57 L678.1 567.65 L678.8 567.73 L679.5 568.1 L680.2 568.26 L680.9 568.83 L681.6 569.1" fill="none" stroke="#3f88c6" stroke-width="0.85" stroke-linejoin="round" />
<path d="M485.6 577.55 L486.3 577.46 L487 577.2 L487.7 577.45 L488.4 577.95 L489.1 577.83 L489.8 577.59 L490.5 577.47 L491.2 577.51 L491.9 577.6 L492.6 577.48 L493.3 577.58 L494 577.26 L494.7 577.45 L495.4 577.34 L496.1 577.67 L496.8 577.08 L497.5 577.69 L498.2 577.33 L498.9 577.21 L499.6 577.32 L500.3 577.33 L501 577.22 L501.7 577.36 L502.4 577.09 L503.1 576.8 L503.8 577.37 L504.5 577.17 L505.2 577.56 L505.9 577.23 L506.6 576.62 L507.3 577.4 L508 576.91 L508.7 577.19 L509.4 577.58 L510.1 577.28 L510.8 576.72 L511.5 576.95 L512.2 576.56 L512.9 577.1 L513.6 577.05 L514.3 576.65 L515 576.99 L515.7 577.09 L516.4 577.04 L517.1 576.66 L517.8 576.64 L518.5 576.52 L519.2 576.46 L519.9 576.84 L520.6 576.75 L521.3 577.05 L522 576.78 L522.7 576.62 L523.4 576.34 L524.1 577.05 L524.8 576.7 L525.5 576.65 L526.2 576.39 L526.9 576.38 L527.6 576.78 L528.3 576.38 L529 576.75 L529.7 576.76 L530.4 576.5 L531.1 576.2 L531.8 576.69 L532.5 576.93 L533.2 576.37 L533.9 576.27 L534.6 576.84 L535.3 576.6 L536 576.41 L536.7 576.86 L537.4 576.48 L538.1 576.66 L538.8 576.45 L539.5 576.36 L540.2 576.59 L540.9 576.33 L541.6 576.1 L542.3 576.4 L543 576.83 L543.7 576.79 L544.4 577.05 L545.1 576.76 L545.8 576.91 L546.5 576.58 L547.2 576.4 L547.9 576.62 L548.6 576.27 L549.3 576.69 L550 576.39 L550.7 576.57 L551.4 576.29 L552.1 576.47 L552.8 576.74 L553.5 576.44 L554.2 576.33 L554.9 576.56 L555.6 576.71 L556.3 576.45 L557 576.2 L557.7 576.11 L558.4 576.16 L559.1 576.75 L559.8 576.47 L560.5 576.61 L561.2 576.75 L561.9 576.56 L562.6 576.6 L563.3 576.37 L564 576.09 L564.7 576.64 L565.4 576.46 L566.1 576.63 L566.8 576.22 L567.5 576.45 L568.2 576.98 L568.9 576.28 L569.6 576.51 L570.3 576.81 L571 576.43 L571.7 576.52 L572.4 575.97 L573.1 576.68 L573.8 576.38 L574.5 576.8 L575.2 576.47 L575.9 576.4 L576.6 576.6 L577.3 576.44 L578 576.37 L578.7 576.87 L579.4 576.74 L580.1 576.53 L580.8 576.69 L581.5 576.7 L582.2 576.64 L582.9 576.51 L583.6 576.52 L584.3 576.6 L585 576.64 L585.7 576.59 L586.4 576.37 L587.1 576.49 L587.8 576.62 L588.5 576.27 L589.2 576.51 L589.9 576.69 L590.6 576.55 L591.3 576.45 L592 576.51 L592.7 576.4 L593.4 576.75 L594.1 576.43 L594.8 576.11 L595.5 576.23 L596.2 576.59 L596.9 576.57 L597.6 576.4 L598.3 576.21 L599 576.48 L599.7 576.32 L600.4 576.36 L601.1 576.53 L601.8 576.34 L602.5 576.6 L603.2 576.34 L603.9 576.42 L604.6 576.47 L605.3 576.88 L606 576.91 L606.7 576.76 L607.4 576.35 L608.1 576.53 L608.8 576.75 L609.5 576.72 L610.2 576.13 L610.9 576.52 L611.6 576.35 L612.3 576.71 L613 576.68 L613.7 576.4 L614.4 577.05 L615.1 576.46 L615.8 577.12 L616.5 576.49 L617.2 576.5 L617.9 576.98 L618.6 576.4 L619.3 576.41 L620 576.88 L620.7 576.52 L621.4 576.64 L622.1 576.22 L622.8 576.96 L623.5 576.76 L624.2 576.6 L624.9 576.69 L625.6 576.39 L626.3 576.4 L627 576.12 L627.7 576.6 L628.4 576.81 L629.1 576.71 L629.8 576.73 L630.5 576.67 L631.2 576.28 L631.9 576.2 L632.6 576.67 L633.3 576.56 L634 576.77 L634.7 576.48 L635.4 576.33 L636.1 576.67 L636.8 576.44 L637.5 576.2 L638.2 576.45 L638.9 576.4 L639.6 576.34 L640.3 576.49 L641 576.86 L641.7 577.19 L642.4 577.05 L643.1 576.53 L643.8 576.9 L644.5 576.6 L645.2 576.7 L645.9 576.43 L646.6 576.54 L647.3 576.14 L648 576.94 L648.7 576.29 L649.4 576.56 L650.1 576.23 L650.8 576.38 L651.5 575.97 L652.2 576.08 L652.9 576.2 L653.6 575.82 L654.3 574.83 L655 575.07 L655.7 574.14 L656.4 574.14 L657.1 573.91 L657.8 573.46 L658.5 573.54 L659.2 573.66 L659.9 574.04 L660.6 574.44 L661.3 574.86 L662 574.93 L662.7 575.62 L663.4 575.14 L664.1 575.94 L664.8 575.55 L665.5 575.9 L666.2 575.78 L666.9 575.92 L667.6 575.76 L668.3 576.17 L669 576.65 L669.7 576.28 L670.4 576.31 L671.1 576.39 L671.8 576.63 L672.5 576.48 L673.2 576.59 L673.9 576.7 L674.6 577.03 L675.3 577 L676 576.56 L676.7 576.72 L677.4 576.92 L678.1 577.17 L678.8 577.25 L679.5 577.01 L680.2 577.61 L680.9 577.1 L681.6 577.51" fill="none" stroke="#2b3f52" stroke-width="0.85" stroke-linejoin="round" />
<rect x="485.6" y="455.3" width="196.7" height="126.1" fill="none" stroke="#222" stroke-width="0.9" />
<line x1="485.6" y1="581.4" x2="485.6" y2="583.6" stroke="#222" stroke-width="0.8" />
<text x="485.6" y="590.8" font-size="7.6" text-anchor="middle" fill="#111"  stroke="#111" stroke-width="0.14">2000</text>
<line x1="529.5" y1="581.4" x2="529.5" y2="583.6" stroke="#222" stroke-width="0.8" />
<text x="529.5" y="590.8" font-size="7.6" text-anchor="middle" fill="#111"  stroke="#111" stroke-width="0.14">1800</text>
<line x1="571.5" y1="581.4" x2="571.5" y2="583.6" stroke="#222" stroke-width="0.8" />
<text x="571.5" y="590.8" font-size="7.6" text-anchor="middle" fill="#111"  stroke="#111" stroke-width="0.14">1600</text>
<line x1="615.8" y1="581.4" x2="615.8" y2="583.6" stroke="#222" stroke-width="0.8" />
<text x="615.8" y="590.8" font-size="7.6" text-anchor="middle" fill="#111"  stroke="#111" stroke-width="0.14">1400</text>
<line x1="660" y1="581.4" x2="660" y2="583.6" stroke="#222" stroke-width="0.8" />
<text x="660" y="590.8" font-size="7.6" text-anchor="middle" fill="#111"  stroke="#111" stroke-width="0.14">1200</text>
<line x1="507.5" y1="581.4" x2="507.5" y2="582.7" stroke="#222" stroke-width="0.6" />
<line x1="550.5" y1="581.4" x2="550.5" y2="582.7" stroke="#222" stroke-width="0.6" />
<line x1="593.6" y1="581.4" x2="593.6" y2="582.7" stroke="#222" stroke-width="0.6" />
<line x1="637.9" y1="581.4" x2="637.9" y2="582.7" stroke="#222" stroke-width="0.6" />
<text x="577.2" y="598.6" font-size="7.6" text-anchor="middle" fill="#111"  stroke="#111" stroke-width="0.14">Wavenumber (cm<tspan font-size="4.6" dy="-2.2">-1</tspan><tspan dy="2.2">)</tspan></text>
<text x="481.3" y="520" font-size="7.4" fill="#111" text-anchor="middle" transform="rotate(-90 481.3 520)" stroke="#111" stroke-width="0.14">Absorbance (arb. units)</text>
<text x="488.4" y="463.9" font-size="7.2" fill="#111" stroke="#111" stroke-width="0.14">Se-InO<tspan font-size="5" dy="1.8">x</tspan></text>
<text x="489.2" y="503.9" font-size="7" text-anchor="start" fill="#111"  stroke="#111" stroke-width="0.14">-0.6 V</text>
<line x1="497" y1="572.3" x2="497" y2="507.7" stroke="#111" stroke-width="0.8" />
<path d="M497 505 L498.5 508.2 L495.5 508.2 Z" fill="#111"/>
<text x="489.2" y="578.8" font-size="7" text-anchor="start" fill="#111"  stroke="#111" stroke-width="0.14">OCP</text>
<text x="660.42" y="558.5" font-size="5.6" fill="#111" text-anchor="end" transform="rotate(-90 660.42 558.5)" stroke="#111" stroke-width="0.14">*NO<tspan font-size="4" dy="1.3">2</tspan><tspan font-size="4" dy="-2.2">-</tspan></text>
<line x1="655" y1="571" x2="652.54" y2="567.84" stroke="#111" stroke-width="0.6" />
<path d="M651.5 566.5 L653.72 567.56 L651.98 568.91 Z" fill="#111"/>
<text x="540.1" y="14.6" font-size="8.8" fill="#111" stroke="#111" stroke-width="0.14">Sim. *CONH<tspan font-size="6" dy="1.8">x</tspan></text>
<circle cx="597.6" cy="11.2" r="3.4" fill="none" stroke="#d8bc9c" stroke-width="0.75"/>
<line x1="594.2" y1="11.2" x2="601" y2="11.2" stroke="#d8bc9c" stroke-width="0.55" />
<line x1="597.6" y1="7.8" x2="597.6" y2="14.6" stroke="#d8bc9c" stroke-width="0.55" />
<path d="M538.8 23 L539.25 23 L539.7 23 L540.15 23 L540.6 23 L541.05 23 L541.5 23 L541.95 23 L542.4 23 L542.85 23 L543.3 23 L543.75 23 L544.2 23 L544.65 23 L545.1 23 L545.55 23 L546 23 L546.45 23 L546.9 23 L547.35 23 L547.8 23 L548.25 23 L548.7 23 L549.15 22.99 L549.6 22.99 L550.05 22.99 L550.5 22.99 L550.95 22.99 L551.4 22.99 L551.85 22.99 L552.3 22.99 L552.75 22.99 L553.2 22.99 L553.65 22.99 L554.1 22.99 L554.55 22.99 L555 22.98 L555.45 22.98 L555.9 22.98 L556.35 22.98 L556.8 22.97 L557.25 22.97 L557.7 22.97 L558.15 22.96 L558.6 22.96 L559.05 22.95 L559.5 22.94 L559.95 22.93 L560.4 22.91 L560.85 22.89 L561.3 22.87 L561.75 22.83 L562.2 22.79 L562.65 22.72 L563.1 22.62 L563.55 22.48 L564 22.26 L564.45 21.91 L564.9 21.32 L565.35 20.35 L565.8 18.87 L566.25 17.46 L566.7 19.05 L567.15 25.17 L567.6 28.56 L568.05 28.48 L568.5 26.88 L568.95 25.74 L569.4 25.05 L569.85 24.63 L570.3 24.38 L570.75 24.21 L571.2 24.1 L571.65 24.03 L572.1 23.97 L572.55 23.94 L573 23.91 L573.45 23.89 L573.9 23.87 L574.35 23.86 L574.8 23.85 L575.25 23.84 L575.7 23.83 L576.15 23.82 L576.6 23.82 L577.05 23.81 L577.5 23.81 L577.95 23.81 L578.4 23.8 L578.85 23.8 L579.3 23.8 L579.75 23.79 L580.2 23.79 L580.65 23.79 L581.1 23.78 L581.55 23.78 L582 23.78 L582.45 23.77 L582.9 23.76 L583.35 23.76 L583.8 23.75 L584.25 23.74 L584.7 23.72 L585.15 23.71 L585.6 23.69 L586.05 23.66 L586.5 23.62 L586.95 23.57 L587.4 23.49 L587.85 23.38 L588.3 23.22 L588.75 22.96 L589.2 22.54 L589.65 21.85 L590.1 20.71 L590.55 19.11 L591 18.23 L591.45 21.61 L591.9 27.73 L592.35 29.32 L592.8 27.91 L593.25 26.43 L593.7 25.46 L594.15 24.87 L594.6 24.51 L595.05 24.29 L595.5 24.14 L595.95 24.04 L596.4 23.97 L596.85 23.91 L597.3 23.87 L597.75 23.83 L598.2 23.8 L598.65 23.77 L599.1 23.73 L599.55 23.69 L600 23.64 L600.45 23.57 L600.9 23.47 L601.35 23.34 L601.8 23.13 L602.25 22.81 L602.7 22.29 L603.15 21.42 L603.6 20.04 L604.05 18.47 L604.5 19.02 L604.95 24.54 L605.4 29.09 L605.85 28.81 L606.3 27.18 L606.75 25.92 L607.2 25.14 L607.65 24.67 L608.1 24.37 L608.55 24.18 L609 24.05 L609.45 23.95 L609.9 23.87 L610.35 23.79 L610.8 23.72 L611.25 23.63 L611.7 23.53 L612.15 23.38 L612.6 23.17 L613.05 22.84 L613.5 22.32 L613.95 21.44 L614.4 20.07 L614.85 18.49 L615.3 19.04 L615.75 24.56 L616.2 29.11 L616.65 28.84 L617.1 27.21 L617.55 25.95 L618 25.17 L618.45 24.7 L618.9 24.41 L619.35 24.23 L619.8 24.1 L620.25 24.02 L620.7 23.95 L621.15 23.9 L621.6 23.86 L622.05 23.83 L622.5 23.79 L622.95 23.76 L623.4 23.72 L623.85 23.68 L624.3 23.62 L624.75 23.54 L625.2 23.43 L625.65 23.27 L626.1 23.02 L626.55 22.62 L627 21.97 L627.45 20.89 L627.9 19.32 L628.35 18.22 L628.8 20.99 L629.25 27.23 L629.7 29.4 L630.15 28.12 L630.6 26.59 L631.05 25.57 L631.5 24.95 L631.95 24.58 L632.4 24.34 L632.85 24.19 L633.3 24.09 L633.75 24.02 L634.2 23.97 L634.65 23.94 L635.1 23.91 L635.55 23.89 L636 23.87 L636.45 23.86 L636.9 23.85 L637.35 23.84 L637.8 23.84 L638.25 23.83 L638.7 23.82 L639.15 23.82 L639.6 23.82 L640.05 23.81 L640.5 23.81 L640.95 23.81 L641.4 23.8 L641.85 23.8 L642.3 23.8 L642.75 23.8 L643.2 23.79 L643.65 23.79 L644.1 23.79 L644.55 23.78 L645 23.78 L645.45 23.77 L645.9 23.77 L646.35 23.76 L646.8 23.75 L647.25 23.74 L647.7 23.73 L648.15 23.71 L648.6 23.69 L649.05 23.66 L649.5 23.63 L649.95 23.57 L650.4 23.5 L650.85 23.39 L651.3 23.22 L651.75 22.97 L652.2 22.55 L652.65 21.86 L653.1 20.72 L653.55 19.12 L654 17.44 L654.45 20.83 L654.9 26.95 L655.35 28.54 L655.8 27.13 L656.25 25.65 L656.7 24.68 L657.15 24.09 L657.6 23.74 L658.05 23.52 L658.5 23.38 L658.95 23.28 L659.4 23.21 L659.85 23.17 L660.3 23.13 L660.75 23.11 L661.2 23.09 L661.65 23.07 L662.1 23.06 L662.55 23.05 L663 23.04 L663.45 23.04 L663.9 23.03 L664.35 23.03 L664.8 23.03 L665.25 23.02 L665.7 23.02 L666.15 23.02 L666.6 23.02 L667.05 23.01 L667.5 23.01 L667.95 23.01 L668.4 23.01 L668.85 23.01 L669.3 23.01 L669.75 23.01 L670.2 23.01 L670.65 23.01 L671.1 23.01 L671.55 23.01 L672 23.01 L672.45 23.01 L672.9 23 L673.35 23 L673.8 23 L674.25 23 L674.7 23 L675.15 23 L675.6 23 L676.05 23 L676.5 23 L676.95 23 L677.4 23 L677.85 23 L678.3 23 L678.75 23 L679.2 23 L679.65 23 L680.1 23 L680.55 23 L681 23 L681.45 23 L681.9 23 L682.35 23" fill="none" stroke="#c8a27c" stroke-width="0.85" stroke-linejoin="round" />
<text x="540.1" y="46.1" font-size="8.8" fill="#111" stroke="#111" stroke-width="0.14">Sim. *CO<tspan font-size="6" dy="1.8">2</tspan><tspan dy="-1.8">NO</tspan><tspan font-size="6" dy="1.8">2</tspan></text>
<path d="M598 41.6 L600.1 43.7 L598 45.8 L595.9 43.7 Z" fill="#cfcfcf"/>
<path d="M538.8 53.3 L539.25 53.3 L539.7 53.3 L540.15 53.3 L540.6 53.3 L541.05 53.3 L541.5 53.3 L541.95 53.3 L542.4 53.3 L542.85 53.3 L543.3 53.3 L543.75 53.3 L544.2 53.3 L544.65 53.3 L545.1 53.3 L545.55 53.3 L546 53.3 L546.45 53.3 L546.9 53.3 L547.35 53.3 L547.8 53.3 L548.25 53.3 L548.7 53.3 L549.15 53.3 L549.6 53.3 L550.05 53.3 L550.5 53.3 L550.95 53.3 L551.4 53.3 L551.85 53.3 L552.3 53.31 L552.75 53.31 L553.2 53.31 L553.65 53.31 L554.1 53.31 L554.55 53.31 L555 53.31 L555.45 53.31 L555.9 53.31 L556.35 53.31 L556.8 53.32 L557.25 53.32 L557.7 53.32 L558.15 53.32 L558.6 53.33 L559.05 53.33 L559.5 53.34 L559.95 53.35 L560.4 53.36 L560.85 53.37 L561.3 53.38 L561.75 53.4 L562.2 53.43 L562.65 53.47 L563.1 53.52 L563.55 53.59 L564 53.69 L564.45 53.85 L564.9 54.1 L565.35 54.48 L565.8 55.07 L566.25 55.89 L566.7 56.53 L567.15 55.63 L567.6 52.54 L568.05 50.26 L568.5 50.27 L568.95 51.09 L569.4 52.41 L569.85 52.91 L570.3 53.22 L570.75 53.42 L571.2 53.55 L571.65 53.64 L572.1 53.7 L572.55 53.75 L573 53.78 L573.45 53.8 L573.9 53.82 L574.35 53.83 L574.8 53.84 L575.25 53.85 L575.7 53.85 L576.15 53.86 L576.6 53.86 L577.05 53.87 L577.5 53.87 L577.95 53.87 L578.4 53.87 L578.85 53.87 L579.3 53.87 L579.75 53.87 L580.2 53.87 L580.65 53.87 L581.1 53.87 L581.55 53.87 L582 53.86 L582.45 53.86 L582.9 53.85 L583.35 53.85 L583.8 53.84 L584.25 53.83 L584.7 53.82 L585.15 53.8 L585.6 53.78 L586.05 53.75 L586.5 53.71 L586.95 53.66 L587.4 53.58 L587.85 53.47 L588.3 53.3 L588.75 53.04 L589.2 52.63 L589.65 52 L590.1 51.12 L590.55 50.33 L591 51.04 L591.45 54.31 L591.9 57.12 L592.35 57.33 L592.8 56.44 L593.25 55.61 L593.7 55.03 L594.15 54.66 L594.6 54.42 L595.05 54.27 L595.5 54.16 L595.95 54.09 L596.4 54.03 L596.85 53.99 L597.3 53.96 L597.75 53.93 L598.2 53.9 L598.65 53.87 L599.1 53.84 L599.55 53.81 L600 53.77 L600.45 53.71 L600.9 53.64 L601.35 53.53 L601.8 53.38 L602.25 53.14 L602.7 52.77 L603.15 52.2 L603.6 51.4 L604.05 50.7 L604.5 51.33 L604.95 54.27 L605.4 56.8 L605.85 56.98 L606.3 56.18 L606.75 55.42 L607.2 54.9 L607.65 54.57 L608.1 54.35 L608.55 54.2 L609 54.09 L609.45 54.01 L609.9 53.95 L610.35 53.89 L610.8 53.82 L611.25 53.75 L611.7 53.66 L612.15 53.54 L612.6 53.37 L613.05 53.1 L613.5 52.69 L613.95 52.07 L614.4 51.23 L614.85 50.68 L615.3 51.84 L615.75 55.03 L616.2 57.03 L616.65 56.85 L617.1 56.02 L617.55 55.31 L618 54.84 L618.45 54.54 L618.9 54.34 L619.35 54.22 L619.8 54.13 L620.25 54.06 L620.7 54.01 L621.15 53.98 L621.6 53.95 L622.05 53.92 L622.5 53.89 L622.95 53.87 L623.4 53.83 L623.85 53.8 L624.3 53.75 L624.75 53.69 L625.2 53.61 L625.65 53.48 L626.1 53.3 L626.55 53.01 L627 52.56 L627.45 51.89 L627.9 51.05 L628.35 50.72 L628.8 52.45 L629.25 55.69 L629.7 57.14 L630.15 56.68 L630.6 55.85 L631.05 55.2 L631.5 54.77 L631.95 54.5 L632.4 54.33 L632.85 54.21 L633.3 54.13 L633.75 54.08 L634.2 54.04 L634.65 54.01 L635.1 53.99 L635.55 53.97 L636 53.96 L636.45 53.95 L636.9 53.94 L637.35 53.93 L637.8 53.93 L638.25 53.92 L638.7 53.92 L639.15 53.92 L639.6 53.91 L640.05 53.91 L640.5 53.91 L640.95 53.91 L641.4 53.9 L641.85 53.9 L642.3 53.9 L642.75 53.9 L643.2 53.89 L643.65 53.89 L644.1 53.89 L644.55 53.88 L645 53.88 L645.45 53.88 L645.9 53.87 L646.35 53.87 L646.8 53.86 L647.25 53.85 L647.7 53.84 L648.15 53.82 L648.6 53.8 L649.05 53.78 L649.5 53.74 L649.95 53.69 L650.4 53.62 L650.85 53.52 L651.3 53.37 L651.75 53.14 L652.2 52.77 L652.65 52.2 L653.1 51.41 L653.55 50.7 L654 51.34 L654.45 54.28 L654.9 56.81 L655.35 56.4 L655.8 55.6 L656.25 54.85 L656.7 54.34 L657.15 54.01 L657.6 53.79 L658.05 53.66 L658.5 53.56 L658.95 53.5 L659.4 53.46 L659.85 53.42 L660.3 53.4 L660.75 53.38 L661.2 53.37 L661.65 53.35 L662.1 53.35 L662.55 53.34 L663 53.33 L663.45 53.33 L663.9 53.33 L664.35 53.32 L664.8 53.32 L665.25 53.32 L665.7 53.32 L666.15 53.31 L666.6 53.31 L667.05 53.31 L667.5 53.31 L667.95 53.31 L668.4 53.31 L668.85 53.31 L669.3 53.31 L669.75 53.31 L670.2 53.31 L670.65 53.31 L671.1 53.31 L671.55 53.3 L672 53.3 L672.45 53.3 L672.9 53.3 L673.35 53.3 L673.8 53.3 L674.25 53.3 L674.7 53.3 L675.15 53.3 L675.6 53.3 L676.05 53.3 L676.5 53.3 L676.95 53.3 L677.4 53.3 L677.85 53.3 L678.3 53.3 L678.75 53.3 L679.2 53.3 L679.65 53.3 L680.1 53.3 L680.55 53.3 L681 53.3 L681.45 53.3 L681.9 53.3 L682.35 53.3" fill="none" stroke="#bdbdbd" stroke-width="0.85" stroke-linejoin="round" />
<path d="M543.8 65.9 L546.1 68.9 L543.8 71.9 L541.5 68.9 Z" fill="#1a8c8c"/>
<text x="549.2" y="71.6" font-size="8.8" text-anchor="start" fill="#111"  stroke="#111" stroke-width="0.14">*OH</text>
<circle cx="544.5" cy="80.8" r="3.3" fill="none" stroke="#c04048" stroke-width="0.7"/>
<text x="544.6" y="82.8" font-size="5.6" text-anchor="middle" fill="#c04048"  stroke="#c04048" stroke-width="0.14">R</text>
<text x="550.2" y="83.4" font-size="8.8" text-anchor="start" fill="#111"  stroke="#111" stroke-width="0.14">DMPOX</text>
<line x1="565.4" y1="118.8" x2="653.7" y2="118.8" stroke="#dcc6ae" stroke-width="0.7" />
<line x1="565.4" y1="118.8" x2="565.4" y2="132" stroke="#dcc6ae" stroke-width="0.6" />
<line x1="590.7" y1="118.8" x2="590.7" y2="131" stroke="#dcc6ae" stroke-width="0.6" />
<line x1="603.5" y1="118.8" x2="603.5" y2="131" stroke="#dcc6ae" stroke-width="0.6" />
<line x1="615.5" y1="118.8" x2="615.5" y2="131" stroke="#dcc6ae" stroke-width="0.6" />
<line x1="627.9" y1="118.8" x2="627.9" y2="131" stroke="#dcc6ae" stroke-width="0.6" />
<line x1="653.7" y1="118.8" x2="653.7" y2="132" stroke="#dcc6ae" stroke-width="0.6" />
<line x1="569.5" y1="110.3" x2="650.8" y2="110.3" stroke="#d6d6d6" stroke-width="0.7" />
<line x1="569.5" y1="110.3" x2="569.5" y2="131" stroke="#d6d6d6" stroke-width="0.6" />
<line x1="594.3" y1="110.3" x2="594.3" y2="131" stroke="#d6d6d6" stroke-width="0.6" />
<line x1="601.3" y1="110.3" x2="601.3" y2="131" stroke="#d6d6d6" stroke-width="0.6" />
<line x1="618.4" y1="110.3" x2="618.4" y2="131" stroke="#d6d6d6" stroke-width="0.6" />
<line x1="625.7" y1="110.3" x2="625.7" y2="131" stroke="#d6d6d6" stroke-width="0.6" />
<line x1="650.8" y1="110.3" x2="650.8" y2="131" stroke="#d6d6d6" stroke-width="0.6" />
<line x1="573.4" y1="101.6" x2="645.7" y2="101.6" stroke="#2a9898" stroke-width="0.8" />
<line x1="573.4" y1="101.6" x2="573.4" y2="130.5" stroke="#2a9898" stroke-width="0.7" />
<line x1="597.5" y1="101.6" x2="597.5" y2="118" stroke="#2a9898" stroke-width="0.7" />
<line x1="621.6" y1="101.6" x2="621.6" y2="119.5" stroke="#2a9898" stroke-width="0.7" />
<line x1="645.7" y1="101.6" x2="645.7" y2="127.6" stroke="#2a9898" stroke-width="0.7" />
<line x1="584.8" y1="88.4" x2="633.4" y2="88.4" stroke="#b4333f" stroke-width="0.8" />
<line x1="584.8" y1="88.4" x2="584.8" y2="134.1" stroke="#b4333f" stroke-width="0.7" />
<line x1="633.4" y1="88.4" x2="633.4" y2="134.9" stroke="#b4333f" stroke-width="0.7" />
<line x1="599.1" y1="88.4" x2="609.6" y2="134.9" stroke="#9a2430" stroke-width="0.7" />
<circle cx="608.9" cy="81.1" r="3.2" fill="none" stroke="#c04048" stroke-width="0.7"/>
<text x="609" y="83.1" font-size="5.6" text-anchor="middle" fill="#c04048"  stroke="#c04048" stroke-width="0.14">R</text>
<path d="M609.2 94.8 L611.6 97.3 L609.2 99.8 L606.8 97.3 Z" fill="#1a8c8c"/>
<path d="M609.2 105.0 L610.8 106.7 L609.2 108.4 L607.6 106.7 Z" fill="#c8c8c8"/>
<circle cx="609.2" cy="114.1" r="3.3" fill="none" stroke="#d0b090" stroke-width="0.75"/>
<line x1="605.9" y1="114.1" x2="612.5" y2="114.1" stroke="#d0b090" stroke-width="0.6" />
<line x1="609.2" y1="110.8" x2="609.2" y2="117.4" stroke="#d0b090" stroke-width="0.6" />
<path d="M538.8 137.65 L539.25 137.79 L539.7 137.45 L540.15 136.82 L540.6 137.08 L541.05 136.91 L541.5 136.95 L541.95 137.45 L542.4 138.07 L542.85 137.18 L543.3 137.14 L543.75 136.97 L544.2 136.7 L544.65 137.47 L545.1 137.22 L545.55 137.31 L546 136.99 L546.45 137.61 L546.9 136.86 L547.35 137.61 L547.8 137.07 L548.25 137.69 L548.7 136.94 L549.15 137.51 L549.6 137.5 L550.05 137.26 L550.5 138 L550.95 137.35 L551.4 136.87 L551.85 137.54 L552.3 136.87 L552.75 136.98 L553.2 137.21 L553.65 137.26 L554.1 137.92 L554.55 136.4 L555 137.02 L555.45 137.61 L555.9 137.03 L556.35 137.22 L556.8 137.73 L557.25 136.5 L557.7 137.02 L558.15 137.32 L558.6 136.68 L559.05 136.13 L559.5 136.41 L559.95 136.87 L560.4 136.79 L560.85 137.4 L561.3 137.04 L561.75 135.6 L562.2 136.46 L562.65 136.02 L563.1 135.76 L563.55 134.14 L564 132.78 L564.45 131.78 L564.9 132.05 L565.35 134.29 L565.8 139.82 L566.25 142.46 L566.7 141.73 L567.15 140.24 L567.6 140.25 L568.05 137.84 L568.5 137.67 L568.95 137.17 L569.4 136.48 L569.85 136.21 L570.3 136 L570.75 136.44 L571.2 134.56 L571.65 133.23 L572.1 132.06 L572.55 131.19 L573 131.25 L573.45 135.97 L573.9 140.52 L574.35 143.2 L574.8 142.24 L575.25 141.14 L575.7 138.78 L576.15 139.43 L576.6 138.31 L577.05 137.43 L577.5 137.11 L577.95 136.95 L578.4 136.4 L578.85 137.15 L579.3 136.45 L579.75 136.31 L580.2 136.76 L580.65 136.49 L581.1 136.08 L581.55 136.11 L582 135.84 L582.45 136.41 L582.9 135.95 L583.35 134.76 L583.8 134.56 L584.25 134.94 L584.7 134.96 L585.15 137.55 L585.6 138.1 L586.05 138.16 L586.5 136.41 L586.95 137.09 L587.4 136.33 L587.85 135.89 L588.3 135.23 L588.75 134.47 L589.2 132.97 L589.65 132.36 L590.1 131.3 L590.55 132.29 L591 136.33 L591.45 139.94 L591.9 140.22 L592.35 137.9 L592.8 136.57 L593.25 136.71 L593.7 135.11 L594.15 135.15 L594.6 131.74 L595.05 130.29 L595.5 127.31 L595.95 124.11 L596.4 120.99 L596.85 121.87 L597.3 130.5 L597.75 143.92 L598.2 146.72 L598.65 144.15 L599.1 140.08 L599.55 138.88 L600 139.04 L600.45 141.79 L600.9 143.1 L601.35 143.07 L601.8 141.2 L602.25 138.75 L602.7 137.77 L603.15 136.62 L603.6 137.08 L604.05 139 L604.5 138.39 L604.95 138.26 L605.4 137.7 L605.85 137.46 L606.3 136.5 L606.75 136.56 L607.2 135.93 L607.65 134.5 L608.1 134.44 L608.55 133.41 L609 134.29 L609.45 135.37 L609.9 137.09 L610.35 137.22 L610.8 136.69 L611.25 136.66 L611.7 135.76 L612.15 134.34 L612.6 133.84 L613.05 133.34 L613.5 132.75 L613.95 130.73 L614.4 130.71 L614.85 133.63 L615.3 137.87 L615.75 139.08 L616.2 138.33 L616.65 136.25 L617.1 134.32 L617.55 132.41 L618 131.7 L618.45 131.31 L618.9 133.56 L619.35 134.22 L619.8 132.53 L620.25 127.13 L620.7 123.28 L621.15 119.92 L621.6 123.55 L622.05 135.82 L622.5 146.72 L622.95 146.95 L623.4 142.67 L623.85 138.83 L624.3 137.94 L624.75 139.42 L625.2 140.19 L625.65 142.86 L626.1 141.5 L626.55 139.51 L627 136.33 L627.45 134.01 L627.9 132.53 L628.35 133.15 L628.8 136.66 L629.25 139.8 L629.7 140.78 L630.15 139.84 L630.6 137.67 L631.05 136.97 L631.5 135.35 L631.95 134.91 L632.4 134.79 L632.85 133.81 L633.3 135.85 L633.75 136.9 L634.2 137.9 L634.65 137.36 L635.1 137.18 L635.55 136.81 L636 136.04 L636.45 135.52 L636.9 135.33 L637.35 136.29 L637.8 135.26 L638.25 135.06 L638.7 134.88 L639.15 134.38 L639.6 134.83 L640.05 135.13 L640.5 134.7 L640.95 134.49 L641.4 134.89 L641.85 134.78 L642.3 134.21 L642.75 134.29 L643.2 133.37 L643.65 133.67 L644.1 132.1 L644.55 131.31 L645 130.19 L645.45 129.06 L645.9 130.19 L646.35 136.27 L646.8 140.12 L647.25 139.4 L647.7 139.06 L648.15 137.07 L648.6 136.64 L649.05 135.06 L649.5 135.16 L649.95 134.42 L650.4 134.11 L650.85 132.82 L651.3 130.7 L651.75 129.82 L652.2 128.78 L652.65 131.82 L653.1 137.2 L653.55 139.99 L654 140.9 L654.45 138.33 L654.9 137.78 L655.35 137.15 L655.8 136.31 L656.25 135.12 L656.7 135.22 L657.15 135.59 L657.6 135.62 L658.05 135.71 L658.5 134.13 L658.95 135.06 L659.4 134.59 L659.85 135.09 L660.3 133.97 L660.75 134.62 L661.2 134.96 L661.65 134.34 L662.1 134.44 L662.55 134.15 L663 135.05 L663.45 133.96 L663.9 134.12 L664.35 134.36 L664.8 134.35 L665.25 135.4 L665.7 134.58 L666.15 134.08 L666.6 134.69 L667.05 134.57 L667.5 134.53 L667.95 134.36 L668.4 134.58 L668.85 133.85 L669.3 133.82 L669.75 134.15 L670.2 133.84 L670.65 134.62 L671.1 135.15 L671.55 134.83 L672 134.47 L672.45 134.41 L672.9 133.95 L673.35 133.67 L673.8 134.47 L674.25 133.57 L674.7 134.34 L675.15 134.13 L675.6 134.51 L676.05 134.19 L676.5 134.2 L676.95 133.89 L677.4 133.38 L677.85 133.97 L678.3 134.42 L678.75 134.56 L679.2 134.69 L679.65 133.64 L680.1 133.65 L680.55 134.36 L681 133.84 L681.45 135.16 L681.9 134.16 L682.35 133.34" fill="none" stroke="#e0505a" stroke-width="0.85" stroke-linejoin="round" />
<path d="M538.8 161.14 L539.25 162.07 L539.7 160.57 L540.15 161.43 L540.6 160.75 L541.05 162.05 L541.5 161.15 L541.95 160.88 L542.4 160.58 L542.85 161.01 L543.3 160.19 L543.75 161.1 L544.2 162.26 L544.65 161.33 L545.1 161.16 L545.55 160.76 L546 161.41 L546.45 161.05 L546.9 160.87 L547.35 161.85 L547.8 161.42 L548.25 160.83 L548.7 161.86 L549.15 161.18 L549.6 161.41 L550.05 161.25 L550.5 161.69 L550.95 161.43 L551.4 161 L551.85 161.46 L552.3 160.96 L552.75 161.17 L553.2 161.82 L553.65 160.62 L554.1 160.62 L554.55 160.88 L555 160.82 L555.45 161.59 L555.9 160.3 L556.35 161.98 L556.8 161.64 L557.25 160.71 L557.7 160.95 L558.15 160.67 L558.6 161.07 L559.05 161 L559.5 160.96 L559.95 160.86 L560.4 161.24 L560.85 160.15 L561.3 160.3 L561.75 159.61 L562.2 159.29 L562.65 158.8 L563.1 157.9 L563.55 157.05 L564 155.37 L564.45 154.82 L564.9 155.12 L565.35 157.79 L565.8 162.42 L566.25 165.68 L566.7 166.53 L567.15 165.1 L567.6 164.44 L568.05 162.92 L568.5 162.11 L568.95 161.77 L569.4 161.48 L569.85 160.44 L570.3 159.36 L570.75 158.51 L571.2 158.2 L571.65 155.6 L572.1 155.54 L572.55 153.88 L573 155.9 L573.45 160.46 L573.9 164.96 L574.35 168.07 L574.8 167.44 L575.25 166.05 L575.7 165.24 L576.15 163.79 L576.6 162.64 L577.05 162.9 L577.5 162.64 L577.95 162.22 L578.4 160.89 L578.85 162.05 L579.3 160.86 L579.75 161.23 L580.2 161.27 L580.65 161.64 L581.1 159.73 L581.55 159.81 L582 160.55 L582.45 159.95 L582.9 159.22 L583.35 157.58 L583.8 158.49 L584.25 157.7 L584.7 156.6 L585.15 159.89 L585.6 159.45 L586.05 161.81 L586.5 162.42 L586.95 162.03 L587.4 161.4 L587.85 159.99 L588.3 158.67 L588.75 157.77 L589.2 155.77 L589.65 155.16 L590.1 156.41 L590.55 157.07 L591 160.84 L591.45 164.62 L591.9 165.07 L592.35 163.89 L592.8 162.79 L593.25 160.89 L593.7 159.16 L594.15 158.47 L594.6 156.33 L595.05 154.85 L595.5 151.48 L595.95 148.8 L596.4 147.73 L596.85 149.83 L597.3 157.15 L597.75 165.54 L598.2 170.4 L598.65 169.85 L599.1 167.61 L599.55 163.87 L600 161.69 L600.45 163.43 L600.9 166.02 L601.35 165.61 L601.8 164.72 L602.25 163.53 L602.7 160.95 L603.15 161.4 L603.6 161.87 L604.05 162.31 L604.5 163.86 L604.95 163.09 L605.4 162.13 L605.85 162.04 L606.3 162.12 L606.75 162.28 L607.2 161.66 L607.65 160.94 L608.1 160.41 L608.55 160.33 L609 160.69 L609.45 159.85 L609.9 160.06 L610.35 160.07 L610.8 158.97 L611.25 158.77 L611.7 158.77 L612.15 157.97 L612.6 157.12 L613.05 155.93 L613.5 155.04 L613.95 155.17 L614.4 155.6 L614.85 156.96 L615.3 161.1 L615.75 162.92 L616.2 162.53 L616.65 160.31 L617.1 158.88 L617.55 157.15 L618 155.63 L618.45 156.24 L618.9 156.19 L619.35 157.06 L619.8 156.33 L620.25 153.54 L620.7 150.23 L621.15 149.03 L621.6 152.88 L622.05 161.37 L622.5 168.67 L622.95 170.54 L623.4 168.52 L623.85 165.91 L624.3 162.97 L624.75 162.27 L625.2 162.9 L625.65 164.06 L626.1 164.47 L626.55 162.61 L627 161.29 L627.45 159.14 L627.9 156.69 L628.35 158.79 L628.8 162 L629.25 164.88 L629.7 165.35 L630.15 164.58 L630.6 164.06 L631.05 162.66 L631.5 160.91 L631.95 159.21 L632.4 158.22 L632.85 159 L633.3 159.69 L633.75 161.56 L634.2 163.22 L634.65 163.6 L635.1 161.74 L635.55 161.76 L636 162.1 L636.45 161.09 L636.9 160.64 L637.35 160.84 L637.8 159.86 L638.25 159.67 L638.7 160.08 L639.15 160.64 L639.6 160.28 L640.05 159.71 L640.5 160.02 L640.95 159.24 L641.4 158.72 L641.85 158.27 L642.3 158.83 L642.75 158.72 L643.2 157.95 L643.65 157.05 L644.1 155.93 L644.55 155.43 L645 153.86 L645.45 153.13 L645.9 156.41 L646.35 159.69 L646.8 163.97 L647.25 165.23 L647.7 165.16 L648.15 163.53 L648.6 162.64 L649.05 160.99 L649.5 159.6 L649.95 158.5 L650.4 157.83 L650.85 155.83 L651.3 155.16 L651.75 153.59 L652.2 153.76 L652.65 156.95 L653.1 162.12 L653.55 166.44 L654 166.8 L654.45 165.61 L654.9 163.92 L655.35 164.01 L655.8 162.16 L656.25 161.62 L656.7 160.96 L657.15 161.38 L657.6 160.62 L658.05 160.14 L658.5 160.28 L658.95 159.64 L659.4 159.52 L659.85 159.84 L660.3 158.58 L660.75 160.32 L661.2 160.64 L661.65 159.23 L662.1 159.63 L662.55 158.97 L663 159.72 L663.45 159.71 L663.9 159.93 L664.35 158.99 L664.8 159.3 L665.25 159.26 L665.7 159.43 L666.15 160.53 L666.6 159.42 L667.05 159.48 L667.5 159.26 L667.95 159.83 L668.4 160.6 L668.85 159.97 L669.3 160.12 L669.75 158.96 L670.2 159.89 L670.65 159.43 L671.1 159.96 L671.55 159.86 L672 159.68 L672.45 158.64 L672.9 159.43 L673.35 159.14 L673.8 159.55 L674.25 159.36 L674.7 159.8 L675.15 158.62 L675.6 159 L676.05 159.28 L676.5 159.45 L676.95 159.12 L677.4 159.28 L677.85 159.31 L678.3 159.74 L678.75 159.22 L679.2 159.37 L679.65 158.45 L680.1 158.09 L680.55 158.59 L681 159.39 L681.45 158.21 L681.9 159.4 L682.35 159.17" fill="none" stroke="#b6d6ee" stroke-width="1.05" stroke-linejoin="round" />
<path d="M538.8 181.49 L539.25 181.15 L539.7 181.28 L540.15 181.81 L540.6 181.59 L541.05 181.41 L541.5 181.19 L541.95 181.49 L542.4 181.91 L542.85 181.36 L543.3 181.19 L543.75 180.82 L544.2 181.37 L544.65 180.91 L545.1 180.66 L545.55 181.67 L546 180.99 L546.45 180.36 L546.9 180.92 L547.35 182.04 L547.8 181.16 L548.25 180.61 L548.7 180.69 L549.15 181.48 L549.6 181.33 L550.05 181.23 L550.5 181.03 L550.95 181.32 L551.4 181.77 L551.85 181.28 L552.3 180.98 L552.75 180.41 L553.2 181.21 L553.65 181.68 L554.1 181.26 L554.55 180.39 L555 181.01 L555.45 181.47 L555.9 180.59 L556.35 181.06 L556.8 181.34 L557.25 181.49 L557.7 180.02 L558.15 179.9 L558.6 180.78 L559.05 180.85 L559.5 180.29 L559.95 180.33 L560.4 180.03 L560.85 180.56 L561.3 178.82 L561.75 179.6 L562.2 178.5 L562.65 178.18 L563.1 177.02 L563.55 176.27 L564 175.5 L564.45 174.66 L564.9 175.93 L565.35 177.95 L565.8 182.63 L566.25 185.79 L566.7 186.45 L567.15 186.16 L567.6 184.34 L568.05 183.19 L568.5 182.13 L568.95 181.39 L569.4 180.66 L569.85 180.45 L570.3 179.27 L570.75 178.41 L571.2 177.26 L571.65 176.32 L572.1 174.49 L572.55 174.61 L573 175.58 L573.45 180.38 L573.9 185.55 L574.35 187.07 L574.8 186.81 L575.25 185.17 L575.7 184.76 L576.15 183.39 L576.6 182.99 L577.05 181.71 L577.5 181.8 L577.95 182.04 L578.4 181.17 L578.85 180.64 L579.3 180.03 L579.75 180.44 L580.2 180.59 L580.65 180.41 L581.1 179.48 L581.55 179.33 L582 179.12 L582.45 178.8 L582.9 178.75 L583.35 178.5 L583.8 178.65 L584.25 177.37 L584.7 177.88 L585.15 177.47 L585.6 180.72 L586.05 181.89 L586.5 182.09 L586.95 181.75 L587.4 180.8 L587.85 180.4 L588.3 178.87 L588.75 176.59 L589.2 175.35 L589.65 175.79 L590.1 174.93 L590.55 177.38 L591 180.13 L591.45 182.9 L591.9 183.85 L592.35 183.36 L592.8 181.94 L593.25 180.12 L593.7 179.17 L594.15 177.67 L594.6 175.23 L595.05 173 L595.5 170.07 L595.95 168.18 L596.4 166.92 L596.85 168.94 L597.3 176.35 L597.75 185.19 L598.2 189.62 L598.65 189.27 L599.1 186.47 L599.55 183.37 L600 182.25 L600.45 182.08 L600.9 184.56 L601.35 185.24 L601.8 183.87 L602.25 182.56 L602.7 181.67 L603.15 180.83 L603.6 180.64 L604.05 181.97 L604.5 183.51 L604.95 183.08 L605.4 182.2 L605.85 182.16 L606.3 180.64 L606.75 180.56 L607.2 180.73 L607.65 179.89 L608.1 179.32 L608.55 179.88 L609 180.14 L609.45 178.11 L609.9 179.1 L610.35 178.25 L610.8 178.39 L611.25 177.54 L611.7 178.86 L612.15 176.8 L612.6 176.32 L613.05 174.97 L613.5 173.74 L613.95 173.26 L614.4 174.19 L614.85 177.55 L615.3 180.3 L615.75 182.66 L616.2 181.11 L616.65 180.02 L617.1 177.81 L617.55 175.45 L618 176.64 L618.45 175.04 L618.9 176.42 L619.35 176.43 L619.8 175.05 L620.25 171.93 L620.7 169.78 L621.15 168.06 L621.6 171.74 L622.05 179.97 L622.5 186.72 L622.95 189.67 L623.4 187.63 L623.85 184.62 L624.3 181.53 L624.75 180.86 L625.2 182.21 L625.65 183.82 L626.1 183.02 L626.55 182.26 L627 179.27 L627.45 177.61 L627.9 176.63 L628.35 177.47 L628.8 179.21 L629.25 182.89 L629.7 184.38 L630.15 184.26 L630.6 182.21 L631.05 181.76 L631.5 178.95 L631.95 178.62 L632.4 178 L632.85 177.75 L633.3 179.03 L633.75 181.12 L634.2 181.51 L634.65 182.23 L635.1 181.95 L635.55 180.77 L636 179.31 L636.45 179.39 L636.9 179.22 L637.35 178.88 L637.8 179.35 L638.25 178.63 L638.7 179.95 L639.15 178.97 L639.6 178.02 L640.05 178.34 L640.5 179.01 L640.95 178.47 L641.4 177.53 L641.85 178.21 L642.3 177.23 L642.75 178.03 L643.2 176.26 L643.65 176.04 L644.1 175.06 L644.55 173.45 L645 172.51 L645.45 172.97 L645.9 174.71 L646.35 178.62 L646.8 182.66 L647.25 184.67 L647.7 183.77 L648.15 182.29 L648.6 180.89 L649.05 178.85 L649.5 178.5 L649.95 177.14 L650.4 176.49 L650.85 174.54 L651.3 173.56 L651.75 171.84 L652.2 173.17 L652.65 175.6 L653.1 180.76 L653.55 184.5 L654 184.89 L654.45 184.18 L654.9 183.36 L655.35 182.52 L655.8 180.03 L656.25 179.77 L656.7 179.99 L657.15 179.75 L657.6 178.86 L658.05 178.91 L658.5 178.63 L658.95 179.6 L659.4 178.4 L659.85 177.88 L660.3 177.65 L660.75 177.72 L661.2 178.82 L661.65 178.02 L662.1 179.03 L662.55 178.41 L663 178.27 L663.45 178.36 L663.9 178.39 L664.35 178.43 L664.8 177.56 L665.25 177.73 L665.7 177.71 L666.15 177.98 L666.6 177.81 L667.05 177.35 L667.5 177.57 L667.95 178.66 L668.4 178.79 L668.85 177.45 L669.3 177.99 L669.75 177.79 L670.2 177.41 L670.65 178.09 L671.1 177.73 L671.55 178.48 L672 177.93 L672.45 177.57 L672.9 176.52 L673.35 177.64 L673.8 178.05 L674.25 177.34 L674.7 178.03 L675.15 177.93 L675.6 176.83 L676.05 177.51 L676.5 177.73 L676.95 177.91 L677.4 177.63 L677.85 177.54 L678.3 177.38 L678.75 177.39 L679.2 177.51 L679.65 177.02 L680.1 177.76 L680.55 177.32 L681 177.68 L681.45 177.21 L681.9 177.61 L682.35 177.47" fill="none" stroke="#a2c9e8" stroke-width="1.05" stroke-linejoin="round" />
<path d="M538.8 199.08 L539.25 198.87 L539.7 199.06 L540.15 198.55 L540.6 198.57 L541.05 198.46 L541.5 197.99 L541.95 198.47 L542.4 198.99 L542.85 198.82 L543.3 198.08 L543.75 198.57 L544.2 198.75 L544.65 197.79 L545.1 198.52 L545.55 198.49 L546 198.65 L546.45 198.41 L546.9 197.5 L547.35 197.35 L547.8 199.11 L548.25 198.02 L548.7 198.74 L549.15 198.71 L549.6 198.17 L550.05 197.59 L550.5 198.68 L550.95 198.03 L551.4 198.25 L551.85 198.21 L552.3 198.39 L552.75 198.39 L553.2 197.28 L553.65 197.26 L554.1 197.92 L554.55 197.83 L555 198.13 L555.45 197.69 L555.9 197.64 L556.35 198.58 L556.8 198.25 L557.25 198.1 L557.7 198 L558.15 197.13 L558.6 197.37 L559.05 197.3 L559.5 196.75 L559.95 196.73 L560.4 197.05 L560.85 196.26 L561.3 196.8 L561.75 196.46 L562.2 195.73 L562.65 195.11 L563.1 194.76 L563.55 193.71 L564 192.52 L564.45 190.97 L564.9 191.26 L565.35 195.69 L565.8 198.76 L566.25 201.93 L566.7 201.95 L567.15 201.6 L567.6 200.43 L568.05 199.99 L568.5 197.53 L568.95 197.31 L569.4 197.06 L569.85 196.36 L570.3 195.5 L570.75 194.79 L571.2 193.22 L571.65 192.77 L572.1 191.93 L572.55 190.97 L573 192.23 L573.45 197.13 L573.9 201.24 L574.35 202.75 L574.8 202.83 L575.25 201.69 L575.7 200.71 L576.15 200.24 L576.6 198.61 L577.05 198.29 L577.5 197.97 L577.95 197.07 L578.4 197.13 L578.85 197.4 L579.3 197.45 L579.75 195.96 L580.2 196.95 L580.65 196.35 L581.1 196.88 L581.55 196.39 L582 196.75 L582.45 195.72 L582.9 195.02 L583.35 194.34 L583.8 193.5 L584.25 193.87 L584.7 193.81 L585.15 194.87 L585.6 196.42 L586.05 197.04 L586.5 197.86 L586.95 197.43 L587.4 196.77 L587.85 196.09 L588.3 195.36 L588.75 193.74 L589.2 191.49 L589.65 190.93 L590.1 190.31 L590.55 192.68 L591 195.85 L591.45 199.29 L591.9 199.86 L592.35 199.69 L592.8 198.34 L593.25 196.24 L593.7 195.44 L594.15 193.53 L594.6 192.01 L595.05 190.33 L595.5 186.74 L595.95 184.67 L596.4 184.03 L596.85 185.25 L597.3 192.8 L597.75 201.09 L598.2 205.05 L598.65 204.08 L599.1 201.53 L599.55 198.56 L600 198.09 L600.45 198.44 L600.9 200.35 L601.35 200.26 L601.8 200.29 L602.25 198.69 L602.7 197.74 L603.15 196.29 L603.6 197.35 L604.05 198.57 L604.5 199.36 L604.95 198.01 L605.4 197.39 L605.85 196.65 L606.3 197.22 L606.75 196.64 L607.2 196.2 L607.65 195.4 L608.1 196.12 L608.55 196.07 L609 195.15 L609.45 194.92 L609.9 195.29 L610.35 194.75 L610.8 194.84 L611.25 193.72 L611.7 193.59 L612.15 192.7 L612.6 191.81 L613.05 190.94 L613.5 189.87 L613.95 189.51 L614.4 189.76 L614.85 192.49 L615.3 195.38 L615.75 196.92 L616.2 197.73 L616.65 195.1 L617.1 194.41 L617.55 192.22 L618 189.65 L618.45 190.54 L618.9 191.75 L619.35 192.37 L619.8 190.87 L620.25 187.85 L620.7 185.7 L621.15 184.03 L621.6 187.95 L622.05 195.03 L622.5 202.14 L622.95 205.24 L623.4 202.73 L623.85 199.18 L624.3 196.95 L624.75 196.65 L625.2 197.21 L625.65 198.31 L626.1 198.85 L626.55 197.53 L627 194.95 L627.45 192.94 L627.9 191.83 L628.35 193.98 L628.8 195.51 L629.25 199.26 L629.7 199.51 L630.15 199.16 L630.6 196.78 L631.05 196.37 L631.5 195.01 L631.95 193.71 L632.4 192.86 L632.85 192.41 L633.3 193.47 L633.75 195.93 L634.2 196.69 L634.65 197.02 L635.1 196.5 L635.55 195.76 L636 195.13 L636.45 195.86 L636.9 194.23 L637.35 194.25 L637.8 194.14 L638.25 193.59 L638.7 193.53 L639.15 194.2 L639.6 194.11 L640.05 193.62 L640.5 194.86 L640.95 193.62 L641.4 193.61 L641.85 192.46 L642.3 193 L642.75 192.86 L643.2 191.42 L643.65 191.67 L644.1 189.58 L644.55 188.3 L645 187.74 L645.45 187.27 L645.9 189.87 L646.35 193.11 L646.8 197.31 L647.25 197.78 L647.7 198.1 L648.15 197.33 L648.6 195.45 L649.05 194.54 L649.5 193.81 L649.95 191.78 L650.4 190.54 L650.85 189.82 L651.3 188.5 L651.75 187.23 L652.2 187.36 L652.65 191.36 L653.1 194.98 L653.55 198.73 L654 199.58 L654.45 199.08 L654.9 197.31 L655.35 196.02 L655.8 196.39 L656.25 194.48 L656.7 194.73 L657.15 193.95 L657.6 193.54 L658.05 193.53 L658.5 193.28 L658.95 193.4 L659.4 192.03 L659.85 193.06 L660.3 193.03 L660.75 192.51 L661.2 192.7 L661.65 193.85 L662.1 193.6 L662.55 193.02 L663 192.8 L663.45 192.53 L663.9 193.24 L664.35 192.4 L664.8 192.2 L665.25 192.84 L665.7 192.07 L666.15 192.13 L666.6 193.09 L667.05 191.71 L667.5 192.36 L667.95 192.42 L668.4 192.46 L668.85 191.67 L669.3 192.19 L669.75 192.12 L670.2 193.1 L670.65 192.66 L671.1 191.86 L671.55 192.55 L672 192.44 L672.45 192.07 L672.9 191.99 L673.35 191.95 L673.8 191.36 L674.25 191.75 L674.7 192.42 L675.15 192.61 L675.6 192.78 L676.05 191.77 L676.5 192.18 L676.95 190.83 L677.4 191.75 L677.85 191.29 L678.3 192.18 L678.75 191.07 L679.2 191.31 L679.65 191.26 L680.1 191.9 L680.55 192.07 L681 191.27 L681.45 192.45 L681.9 191.71 L682.35 191.25" fill="none" stroke="#78b2de" stroke-width="1.05" stroke-linejoin="round" />
<path d="M538.8 211.74 L539.25 211.57 L539.7 211.94 L540.15 211.71 L540.6 212.52 L541.05 212.05 L541.5 211.24 L541.95 211.85 L542.4 211.84 L542.85 211.05 L543.3 211.14 L543.75 211.11 L544.2 210.36 L544.65 211.72 L545.1 211.33 L545.55 211.96 L546 211.16 L546.45 211.42 L546.9 211.7 L547.35 211.79 L547.8 211.5 L548.25 210.88 L548.7 212.31 L549.15 211.7 L549.6 211.91 L550.05 212 L550.5 211.9 L550.95 211.44 L551.4 211.46 L551.85 211.51 L552.3 210.55 L552.75 211.55 L553.2 210.75 L553.65 211.35 L554.1 210.7 L554.55 211.44 L555 210.89 L555.45 212.17 L555.9 211.14 L556.35 211.24 L556.8 210.59 L557.25 210.82 L557.7 210.88 L558.15 210.73 L558.6 210.61 L559.05 210.34 L559.5 210.98 L559.95 210.36 L560.4 210.03 L560.85 210.37 L561.3 209.61 L561.75 209.58 L562.2 208.99 L562.65 208.22 L563.1 207.71 L563.55 206.4 L564 205 L564.45 204.82 L564.9 205.05 L565.35 207.55 L565.8 212.59 L566.25 216.11 L566.7 216.95 L567.15 216.07 L567.6 214.75 L568.05 213.71 L568.5 212.26 L568.95 211.31 L569.4 211.22 L569.85 210.06 L570.3 209.48 L570.75 208.84 L571.2 207.85 L571.65 206.63 L572.1 204.46 L572.55 204.09 L573 206.19 L573.45 209.7 L573.9 214.55 L574.35 217.72 L574.8 217.07 L575.25 215.74 L575.7 215.2 L576.15 214 L576.6 213.36 L577.05 212.2 L577.5 211.77 L577.95 211.41 L578.4 211.44 L578.85 210.2 L579.3 210.61 L579.75 211.06 L580.2 210.26 L580.65 210.42 L581.1 210.33 L581.55 210.31 L582 209.63 L582.45 209.04 L582.9 210.25 L583.35 208.32 L583.8 208.8 L584.25 206.74 L584.7 207.52 L585.15 208.38 L585.6 211.2 L586.05 212.8 L586.5 212.72 L586.95 211.32 L587.4 210.52 L587.85 209.55 L588.3 208.58 L588.75 207.73 L589.2 206 L589.65 205.15 L590.1 205.8 L590.55 207.67 L591 209.83 L591.45 213.24 L591.9 214.33 L592.35 214.26 L592.8 212.14 L593.25 211.61 L593.7 209.43 L594.15 208.31 L594.6 205.49 L595.05 203.52 L595.5 201.48 L595.95 198.56 L596.4 196.05 L596.85 199.16 L597.3 206.98 L597.75 216.09 L598.2 220.05 L598.65 220.48 L599.1 216.78 L599.55 214.32 L600 212.4 L600.45 213.04 L600.9 214.71 L601.35 215.15 L601.8 215.28 L602.25 213.71 L602.7 212.36 L603.15 211.08 L603.6 211.22 L604.05 212.55 L604.5 213.23 L604.95 213.22 L605.4 213.11 L605.85 211.66 L606.3 211.31 L606.75 211.4 L607.2 211.17 L607.65 211.46 L608.1 210.5 L608.55 209.69 L609 209.42 L609.45 209.33 L609.9 209.5 L610.35 209.34 L610.8 208.91 L611.25 208.31 L611.7 208.03 L612.15 207.45 L612.6 206.92 L613.05 205.65 L613.5 204.12 L613.95 203.22 L614.4 205.05 L614.85 207.11 L615.3 210.6 L615.75 212.51 L616.2 212.65 L616.65 210.35 L617.1 208.52 L617.55 206.42 L618 205.59 L618.45 205.06 L618.9 206.8 L619.35 207.62 L619.8 206.2 L620.25 202.93 L620.7 199.63 L621.15 199.07 L621.6 202.38 L622.05 211.04 L622.5 217.52 L622.95 219.94 L623.4 218.86 L623.85 215 L624.3 212.12 L624.75 211.01 L625.2 213.26 L625.65 213.54 L626.1 214.05 L626.55 211.84 L627 210.19 L627.45 209.16 L627.9 208.11 L628.35 207.68 L628.8 210.47 L629.25 214.73 L629.7 214.81 L630.15 213.79 L630.6 213.35 L631.05 211.24 L631.5 209.7 L631.95 209.62 L632.4 207.97 L632.85 207.8 L633.3 209.55 L633.75 211.25 L634.2 213.03 L634.65 212.68 L635.1 212.85 L635.55 212.01 L636 211.76 L636.45 211.02 L636.9 210.24 L637.35 210.19 L637.8 209.77 L638.25 208.91 L638.7 208.93 L639.15 209.64 L639.6 208.15 L640.05 208.7 L640.5 208.36 L640.95 208.73 L641.4 208.11 L641.85 208.43 L642.3 207.93 L642.75 207.4 L643.2 206.68 L643.65 205.33 L644.1 205.34 L644.55 203.54 L645 202.88 L645.45 203.03 L645.9 205.45 L646.35 209.59 L646.8 213.88 L647.25 214.08 L647.7 214.46 L648.15 213.52 L648.6 211.64 L649.05 209.74 L649.5 209.27 L649.95 207.74 L650.4 206.46 L650.85 205.8 L651.3 203.78 L651.75 202.27 L652.2 202.95 L652.65 207.36 L653.1 211.15 L653.55 215.4 L654 216.01 L654.45 215.55 L654.9 213.59 L655.35 212.11 L655.8 211.32 L656.25 210.46 L656.7 211.56 L657.15 210.13 L657.6 209.64 L658.05 210.12 L658.5 209.71 L658.95 209.21 L659.4 209.47 L659.85 209.23 L660.3 209.55 L660.75 209.71 L661.2 208.81 L661.65 208.89 L662.1 208.79 L662.55 209.37 L663 208.98 L663.45 209.12 L663.9 209.16 L664.35 208.46 L664.8 208.78 L665.25 209.3 L665.7 209.09 L666.15 209.01 L666.6 208.53 L667.05 208.47 L667.5 208.24 L667.95 208.48 L668.4 208.56 L668.85 207.95 L669.3 209.07 L669.75 208.21 L670.2 208.65 L670.65 208.78 L671.1 208.27 L671.55 207.7 L672 208.91 L672.45 208.64 L672.9 208.35 L673.35 208.93 L673.8 208.83 L674.25 208 L674.7 208.38 L675.15 207.63 L675.6 208.27 L676.05 208.99 L676.5 208 L676.95 208.71 L677.4 207.68 L677.85 208.2 L678.3 208.73 L678.75 209.05 L679.2 208.5 L679.65 208.61 L680.1 209.03 L680.55 207.2 L681 207.5 L681.45 209.06 L681.9 209.31 L682.35 208.47" fill="none" stroke="#4892d0" stroke-width="1.1" stroke-linejoin="round" />
<path d="M538.8 224.53 L539.25 224.58 L539.7 224.47 L540.15 224.17 L540.6 224.41 L541.05 224.34 L541.5 224.68 L541.95 224.65 L542.4 224.77 L542.85 224.57 L543.3 223.88 L543.75 224.89 L544.2 223.09 L544.65 224.29 L545.1 224.37 L545.55 223.97 L546 225.01 L546.45 223.69 L546.9 223.64 L547.35 223.9 L547.8 224.29 L548.25 224.43 L548.7 224.12 L549.15 224.33 L549.6 223.72 L550.05 223.74 L550.5 224.04 L550.95 223.37 L551.4 224.02 L551.85 223.74 L552.3 224.19 L552.75 223.42 L553.2 223.61 L553.65 223.57 L554.1 223.64 L554.55 223.33 L555 223.63 L555.45 223.12 L555.9 223.91 L556.35 223.93 L556.8 223.6 L557.25 223.47 L557.7 223.13 L558.15 223.04 L558.6 223.31 L559.05 222.93 L559.5 222.73 L559.95 223.21 L560.4 223 L560.85 222.66 L561.3 222.27 L561.75 222.31 L562.2 221.65 L562.65 221.23 L563.1 220.79 L563.55 220.09 L564 219.06 L564.45 217.67 L564.9 218.91 L565.35 220.48 L565.8 224.89 L566.25 228.37 L566.7 229.46 L567.15 227.73 L567.6 226.4 L568.05 225.35 L568.5 224.13 L568.95 223.87 L569.4 223.12 L569.85 222.35 L570.3 222.53 L570.75 220.86 L571.2 220.95 L571.65 219.39 L572.1 218.15 L572.55 217.15 L573 218.66 L573.45 221.82 L573.9 226.96 L574.35 228.76 L574.8 228.94 L575.25 227.42 L575.7 226.79 L576.15 224.97 L576.6 223.95 L577.05 224.57 L577.5 224.44 L577.95 222.3 L578.4 224 L578.85 223.08 L579.3 223.01 L579.75 222.25 L580.2 222.35 L580.65 222.95 L581.1 222.17 L581.55 222.29 L582 222.02 L582.45 222.68 L582.9 221.85 L583.35 220.43 L583.8 220.27 L584.25 219.51 L584.7 219.36 L585.15 220.53 L585.6 222.95 L586.05 223.83 L586.5 224.42 L586.95 223.6 L587.4 222.7 L587.85 222.03 L588.3 221.02 L588.75 220.85 L589.2 219.68 L589.65 218.1 L590.1 218.1 L590.55 218.6 L591 222.55 L591.45 226.26 L591.9 225.59 L592.35 225.58 L592.8 224.52 L593.25 222.49 L593.7 221.25 L594.15 219.76 L594.6 218.71 L595.05 216.44 L595.5 214.79 L595.95 212.27 L596.4 210.49 L596.85 213.71 L597.3 219.08 L597.75 226.7 L598.2 230.79 L598.65 229.97 L599.1 227.54 L599.55 225.04 L600 224.18 L600.45 223.77 L600.9 225.45 L601.35 226.42 L601.8 225.96 L602.25 224.95 L602.7 223.15 L603.15 223.53 L603.6 223 L604.05 224.04 L604.5 224.72 L604.95 225.08 L605.4 224.21 L605.85 223.54 L606.3 222.82 L606.75 222.75 L607.2 222.55 L607.65 221.98 L608.1 221.92 L608.55 220.93 L609 221.33 L609.45 221.89 L609.9 221.81 L610.35 220.94 L610.8 219.78 L611.25 221.18 L611.7 219.9 L612.15 220.53 L612.6 218.51 L613.05 218.2 L613.5 216.5 L613.95 216.71 L614.4 217.18 L614.85 218.61 L615.3 222.69 L615.75 224.98 L616.2 223.3 L616.65 221.41 L617.1 220.27 L617.55 218.3 L618 216.77 L618.45 217.1 L618.9 218.71 L619.35 218.33 L619.8 218.16 L620.25 215.25 L620.7 212.21 L621.15 211.91 L621.6 214.1 L622.05 222.07 L622.5 227.82 L622.95 230.32 L623.4 229.07 L623.85 225.59 L624.3 223.32 L624.75 222.87 L625.2 224.27 L625.65 225.43 L626.1 225.01 L626.55 223.33 L627 220.91 L627.45 220.46 L627.9 219.52 L628.35 218.5 L628.8 222.44 L629.25 224.74 L629.7 226.08 L630.15 225.35 L630.6 223.93 L631.05 222.71 L631.5 221.49 L631.95 220.95 L632.4 219.59 L632.85 219.43 L633.3 221 L633.75 222.61 L634.2 223.55 L634.65 223.57 L635.1 223.64 L635.55 222.93 L636 222.06 L636.45 221.48 L636.9 221.57 L637.35 220.23 L637.8 220.64 L638.25 220.4 L638.7 220.66 L639.15 220.29 L639.6 221.41 L640.05 220.54 L640.5 220.26 L640.95 220.92 L641.4 219.76 L641.85 219.4 L642.3 219.8 L642.75 219.25 L643.2 218.8 L643.65 218.26 L644.1 216.71 L644.55 215.52 L645 214.53 L645.45 214.76 L645.9 216.98 L646.35 219.82 L646.8 223.48 L647.25 224.4 L647.7 225.36 L648.15 223.69 L648.6 222.23 L649.05 220.51 L649.5 219.6 L649.95 218.77 L650.4 218 L650.85 216.2 L651.3 215.35 L651.75 215.02 L652.2 214.91 L652.65 217.77 L653.1 221.18 L653.55 225.09 L654 225.85 L654.45 224.82 L654.9 223.37 L655.35 222.88 L655.8 221.66 L656.25 221.26 L656.7 220.37 L657.15 220.69 L657.6 220.88 L658.05 219.93 L658.5 220.29 L658.95 219.37 L659.4 220.19 L659.85 220.1 L660.3 219.63 L660.75 220.12 L661.2 219.31 L661.65 219.66 L662.1 220.33 L662.55 219.55 L663 219.04 L663.45 220 L663.9 219.7 L664.35 219.31 L664.8 218.63 L665.25 218.56 L665.7 218.7 L666.15 219.98 L666.6 219.44 L667.05 218.91 L667.5 219.77 L667.95 219.88 L668.4 218.86 L668.85 219.41 L669.3 218.47 L669.75 219.32 L670.2 219.92 L670.65 218.5 L671.1 219.12 L671.55 218.8 L672 219.02 L672.45 219.07 L672.9 219.14 L673.35 219.39 L673.8 219.2 L674.25 219.41 L674.7 219.38 L675.15 219.4 L675.6 218.61 L676.05 219.06 L676.5 218.7 L676.95 218.47 L677.4 219.67 L677.85 218.93 L678.3 218.81 L678.75 217.84 L679.2 218.65 L679.65 219.06 L680.1 218.62 L680.55 218.45 L681 219.31 L681.45 218.51 L681.9 218.49 L682.35 218.57" fill="none" stroke="#3784c4" stroke-width="1.1" stroke-linejoin="round" />
<path d="M538.8 234.2 L539.25 234.74 L539.7 234.51 L540.15 234.21 L540.6 234.07 L541.05 234.11 L541.5 234.92 L541.95 234.04 L542.4 234.44 L542.85 233.44 L543.3 234.26 L543.75 234.4 L544.2 234.63 L544.65 234.2 L545.1 234.29 L545.55 234.16 L546 234.47 L546.45 234.88 L546.9 234.06 L547.35 233.59 L547.8 234.19 L548.25 233.86 L548.7 234.17 L549.15 234.22 L549.6 233.93 L550.05 233.65 L550.5 233.96 L550.95 233.25 L551.4 233.9 L551.85 233.37 L552.3 233.94 L552.75 233.78 L553.2 233.62 L553.65 233.16 L554.1 233.7 L554.55 233.35 L555 233.58 L555.45 233.92 L555.9 234.01 L556.35 233.01 L556.8 233.97 L557.25 234.14 L557.7 234.01 L558.15 233.63 L558.6 233.45 L559.05 234.23 L559.5 233.32 L559.95 232.76 L560.4 233.46 L560.85 233.52 L561.3 232.93 L561.75 232.82 L562.2 234.2 L562.65 233.37 L563.1 233.64 L563.55 233.03 L564 232.62 L564.45 233.17 L564.9 233.81 L565.35 232.92 L565.8 232.42 L566.25 233.1 L566.7 233.04 L567.15 233.14 L567.6 232.67 L568.05 232.96 L568.5 232.85 L568.95 233.45 L569.4 233.11 L569.85 233.41 L570.3 232.99 L570.75 232.05 L571.2 232.13 L571.65 233.19 L572.1 233.31 L572.55 233.3 L573 232.87 L573.45 232.09 L573.9 232.65 L574.35 233.02 L574.8 233.42 L575.25 232.65 L575.7 232.55 L576.15 232.43 L576.6 233.19 L577.05 233.11 L577.5 231.93 L577.95 233.22 L578.4 232.28 L578.85 232.01 L579.3 231.95 L579.75 232.3 L580.2 233.6 L580.65 233.7 L581.1 232.03 L581.55 232.25 L582 232.6 L582.45 232.69 L582.9 232.29 L583.35 231.77 L583.8 232.28 L584.25 232.13 L584.7 231.65 L585.15 232.46 L585.6 231.75 L586.05 231.6 L586.5 233 L586.95 232.74 L587.4 232.93 L587.85 232.34 L588.3 232.09 L588.75 232.21 L589.2 231.65 L589.65 232.54 L590.1 232.31 L590.55 232.04 L591 231.36 L591.45 232.09 L591.9 232.82 L592.35 232.74 L592.8 232.46 L593.25 231.91 L593.7 232.11 L594.15 232.27 L594.6 232.1 L595.05 232.45 L595.5 231.69 L595.95 230.93 L596.4 230.89 L596.85 231.51 L597.3 231.31 L597.75 232.17 L598.2 232.33 L598.65 231.84 L599.1 232.06 L599.55 231.84 L600 231.87 L600.45 231.56 L600.9 231.58 L601.35 232.25 L601.8 231.6 L602.25 231.68 L602.7 232.19 L603.15 232.09 L603.6 231.47 L604.05 231.73 L604.5 231.17 L604.95 231.64 L605.4 231.7 L605.85 231.54 L606.3 231.6 L606.75 231.67 L607.2 230.4 L607.65 231.11 L608.1 231.49 L608.55 231.22 L609 231.01 L609.45 231.29 L609.9 232.08 L610.35 231.26 L610.8 231.07 L611.25 231.11 L611.7 230.8 L612.15 231.5 L612.6 230.85 L613.05 231.65 L613.5 231.63 L613.95 231.46 L614.4 231.65 L614.85 231.14 L615.3 230.4 L615.75 231.11 L616.2 231.4 L616.65 230.42 L617.1 230.56 L617.55 231.55 L618 231.24 L618.45 231.62 L618.9 231.3 L619.35 231.02 L619.8 231.16 L620.25 231.33 L620.7 230.93 L621.15 230.82 L621.6 231.04 L622.05 230.74 L622.5 231.91 L622.95 230.51 L623.4 230.18 L623.85 230.24 L624.3 231.24 L624.75 230.59 L625.2 230.82 L625.65 230.64 L626.1 230.84 L626.55 230.06 L627 230.72 L627.45 230.41 L627.9 231.11 L628.35 230.89 L628.8 230.06 L629.25 230.16 L629.7 230.82 L630.15 231.07 L630.6 230.87 L631.05 230.44 L631.5 230.98 L631.95 229.44 L632.4 230.23 L632.85 230.01 L633.3 229.98 L633.75 230.65 L634.2 230.51 L634.65 230.49 L635.1 230.29 L635.55 230.6 L636 230.65 L636.45 230.04 L636.9 230.68 L637.35 229.84 L637.8 231 L638.25 229.64 L638.7 230.08 L639.15 229.7 L639.6 230.18 L640.05 230.72 L640.5 229.8 L640.95 230.89 L641.4 230.7 L641.85 230.24 L642.3 229.8 L642.75 230.43 L643.2 228.78 L643.65 229.66 L644.1 230.4 L644.55 229.94 L645 231.02 L645.45 229.62 L645.9 229.33 L646.35 229.79 L646.8 230.12 L647.25 230.6 L647.7 229.07 L648.15 229.88 L648.6 230.34 L649.05 229.47 L649.5 229.56 L649.95 229.2 L650.4 230.05 L650.85 230.06 L651.3 229.94 L651.75 229.77 L652.2 230.08 L652.65 229.57 L653.1 229.92 L653.55 229.95 L654 230.14 L654.45 229.77 L654.9 229.57 L655.35 229.82 L655.8 228.82 L656.25 228.7 L656.7 230.17 L657.15 229.5 L657.6 228.97 L658.05 229.14 L658.5 229.32 L658.95 229.4 L659.4 229.02 L659.85 229.77 L660.3 228.57 L660.75 230.53 L661.2 228.8 L661.65 229.99 L662.1 229.53 L662.55 228.47 L663 228.67 L663.45 229.21 L663.9 229.28 L664.35 228.95 L664.8 229.13 L665.25 229.18 L665.7 228.59 L666.15 229.09 L666.6 230.05 L667.05 228.75 L667.5 228.57 L667.95 229.29 L668.4 229.57 L668.85 229.42 L669.3 228.67 L669.75 228.89 L670.2 229 L670.65 228.79 L671.1 229.05 L671.55 229.33 L672 229.07 L672.45 228.8 L672.9 228.71 L673.35 229.56 L673.8 228.22 L674.25 229.62 L674.7 229.05 L675.15 228.74 L675.6 228.36 L676.05 229.47 L676.5 229.18 L676.95 229.03 L677.4 229.53 L677.85 227.79 L678.3 228.62 L678.75 228.41 L679.2 228.22 L679.65 228.55 L680.1 228.74 L680.55 228.71 L681 228.4 L681.45 227.85 L681.9 228.67 L682.35 228.67" fill="none" stroke="#1f3a56" stroke-width="0.85" stroke-linejoin="round" />
<text x="657.9" y="123.7" font-size="8.8" text-anchor="start" fill="#111"  stroke="#111" stroke-width="0.14">-0.6 V</text>
<line x1="669.7" y1="230" x2="669.7" y2="128.9" stroke="#111" stroke-width="0.8" />
<path d="M669.7 126 L671.3 129.4 L668.1 129.4 Z" fill="#111"/>
<rect x="660" y="231.5" width="22" height="9" fill="#fff" stroke="none" stroke-width="1" />
<text x="662" y="239.8" font-size="8.6" text-anchor="start" fill="#111"  stroke="#111" stroke-width="0.14">OCP</text>
<rect x="538.4" y="4.3" width="143.8" height="55.9" fill="none" stroke="#222" stroke-width="0.9" />
<rect x="538.4" y="60.2" width="143.8" height="182.7" fill="none" stroke="#222" stroke-width="0.9" />
<line x1="538.4" y1="242.9" x2="538.4" y2="245.4" stroke="#222" stroke-width="0.8" />
<text x="538.4" y="255" font-size="9" text-anchor="middle" fill="#111"  stroke="#111" stroke-width="0.14">346</text>
<line x1="570.4" y1="242.9" x2="570.4" y2="245.4" stroke="#222" stroke-width="0.8" />
<text x="570.4" y="255" font-size="9" text-anchor="middle" fill="#111"  stroke="#111" stroke-width="0.14">348</text>
<line x1="602.3" y1="242.9" x2="602.3" y2="245.4" stroke="#222" stroke-width="0.8" />
<text x="602.3" y="255" font-size="9" text-anchor="middle" fill="#111"  stroke="#111" stroke-width="0.14">350</text>
<line x1="634.6" y1="242.9" x2="634.6" y2="245.4" stroke="#222" stroke-width="0.8" />
<text x="634.6" y="255" font-size="9" text-anchor="middle" fill="#111"  stroke="#111" stroke-width="0.14">352</text>
<line x1="666.8" y1="242.9" x2="666.8" y2="245.4" stroke="#222" stroke-width="0.8" />
<text x="666.8" y="255" font-size="9" text-anchor="middle" fill="#111"  stroke="#111" stroke-width="0.14">354</text>
<line x1="554.4" y1="242.9" x2="554.4" y2="244.4" stroke="#222" stroke-width="0.6" />
<line x1="586.2" y1="242.9" x2="586.2" y2="244.4" stroke="#222" stroke-width="0.6" />
<line x1="618.3" y1="242.9" x2="618.3" y2="244.4" stroke="#222" stroke-width="0.6" />
<line x1="650" y1="242.9" x2="650" y2="244.4" stroke="#222" stroke-width="0.6" />
<text x="610.5" y="263.3" font-size="8.8" text-anchor="middle" fill="#111"  stroke="#111" stroke-width="0.14">Magnetic field (mT)</text>
<text x="531" y="124" font-size="8.8" fill="#111" text-anchor="middle" transform="rotate(-90 531 124)" stroke="#111" stroke-width="0.14">Intensity (arb. units)</text>
<defs>
<radialGradient id="kL" cx="0.4" cy="0.35" r="0.7" fx="0.35" fy="0.3"><stop offset="0" stop-color="#fdf7f9"/><stop offset="0.55" stop-color="#eedae4"/><stop offset="1" stop-color="#cca8bc"/></radialGradient>
<radialGradient id="kG" cx="0.4" cy="0.35" r="0.7" fx="0.35" fy="0.3"><stop offset="0" stop-color="#f4fbee"/><stop offset="0.55" stop-color="#d6ebc8"/><stop offset="1" stop-color="#a8c898"/></radialGradient>
<radialGradient id="kR" cx="0.4" cy="0.35" r="0.7" fx="0.35" fy="0.3"><stop offset="0" stop-color="#f08a90"/><stop offset="0.55" stop-color="#cc4a56"/><stop offset="1" stop-color="#8a2430"/></radialGradient>
<radialGradient id="kB" cx="0.4" cy="0.35" r="0.7" fx="0.35" fy="0.3"><stop offset="0" stop-color="#9aa4ff"/><stop offset="0.55" stop-color="#4a5ee4"/><stop offset="1" stop-color="#2a2a9a"/></radialGradient>
<radialGradient id="kC" cx="0.4" cy="0.35" r="0.7" fx="0.35" fy="0.3"><stop offset="0" stop-color="#ffffff"/><stop offset="0.55" stop-color="#d6dcdc"/><stop offset="1" stop-color="#9aa4a4"/></radialGradient>
<radialGradient id="kW" cx="0.4" cy="0.35" r="0.7" fx="0.35" fy="0.3"><stop offset="0" stop-color="#ffffff"/><stop offset="0.55" stop-color="#f2f2f2"/><stop offset="1" stop-color="#b8b8b8"/></radialGradient>
<linearGradient id="kgr" x1="0" y1="0" x2="1" y2="1"><stop offset="0" stop-color="#9ae8b0"/><stop offset="0.5" stop-color="#3cc070"/><stop offset="1" stop-color="#1a9a48"/></linearGradient>
<linearGradient id="kbolt" x1="0.9" y1="0.1" x2="0.1" y2="0.95"><stop offset="0" stop-color="#9a1428"/><stop offset="0.45" stop-color="#c87a86"/><stop offset="1" stop-color="#fbf4f4"/></linearGradient>
<linearGradient id="karr" x1="0" y1="1" x2="1" y2="0"><stop offset="0" stop-color="#e6efe2"/><stop offset="1" stop-color="#6a9a60"/></linearGradient>
</defs>
<path d="M556 304 L519.6 392" stroke="#9c9c9c" stroke-width="1.1" stroke-dasharray="1 1.4" fill="none"/>
<path d="M556 430.6 L648 418.6" stroke="#9c9c9c" stroke-width="1.1" stroke-dasharray="1 1.4" fill="none"/>
<path d="M621.5 298 L662 350" stroke="#9c9c9c" stroke-width="1.1" stroke-dasharray="1 1.4" fill="none"/>
<circle cx="589" cy="313" r="34.2" fill="#cbcbcb" stroke="#a0a0a0" stroke-width="1.3" stroke-dasharray="0.8 0.8"/>
<circle cx="553.3" cy="397.1" r="33.8" fill="#cbcbcb" stroke="#a0a0a0" stroke-width="1.3" stroke-dasharray="0.8 0.8"/>
<circle cx="644.6" cy="383.7" r="35" fill="#cbcbcb" stroke="#a0a0a0" stroke-width="1.3" stroke-dasharray="0.8 0.8"/>
<circle cx="574.7" cy="309.3" r="7.2" fill="url(#kL)" />
<circle cx="587.3" cy="308" r="7.2" fill="url(#kL)" />
<circle cx="603" cy="318" r="7" fill="url(#kL)" />
<circle cx="566" cy="319.3" r="7.6" fill="url(#kL)" />
<circle cx="599" cy="328" r="7.2" fill="url(#kL)" />
<circle cx="581.3" cy="318" r="7.4" fill="url(#kG)" />
<text x="581.3" y="320.45" font-size="6.8" text-anchor="middle" fill="#111"  stroke="#111" stroke-width="0.14">Se</text>
<circle cx="573.3" cy="330.7" r="7.6" fill="url(#kL)" />
<text x="573.3" y="333.15" font-size="6.8" text-anchor="middle" fill="#111"  stroke="#111" stroke-width="0.14">In</text>
<circle cx="589.3" cy="331" r="8" fill="url(#kL)" />
<circle cx="597.4" cy="313.1" r="6" fill="url(#kR)" />
<text x="597.4" y="315.55" font-size="6.8" text-anchor="middle" fill="#111"  stroke="#111" stroke-width="0.14">O</text>
<circle cx="597.8" cy="302.1" r="6.3" fill="url(#kB)" />
<text x="597.8" y="304.55" font-size="6.8" text-anchor="middle" fill="#111"  stroke="#111" stroke-width="0.14">N</text>
<circle cx="608" cy="297.7" r="6.4" fill="url(#kR)" />
<text x="608" y="300.15" font-size="6.8" text-anchor="middle" fill="#111"  stroke="#111" stroke-width="0.14">O</text>
<circle cx="523.3" cy="319.3" r="4.4" fill="url(#kR)" />
<circle cx="525.7" cy="332" r="4.4" fill="url(#kR)" />
<circle cx="528.3" cy="325" r="4.6" fill="url(#kB)" />
<circle cx="536" cy="322.3" r="5" fill="url(#kR)" />
<path d="M538.5 317 C538 306 546 300 553 300.8" fill="none" stroke="url(#karr)" stroke-width="2.2"/>
<path d="M555.5 300.5 L549.5 297 L550.5 304.5 Z" fill="#7aa470"/>
<circle cx="544.5" cy="384" r="9" fill="url(#kL)" />
<circle cx="562.2" cy="384.9" r="9" fill="url(#kL)" />
<circle cx="532.9" cy="396.8" r="10" fill="url(#kL)" />
<circle cx="573.2" cy="399.6" r="10" fill="url(#kL)" />
<circle cx="553.1" cy="397.7" r="10" fill="url(#kG)" />
<circle cx="540.8" cy="413.3" r="11" fill="url(#kL)" />
<circle cx="562.2" cy="414.2" r="11" fill="url(#kL)" />
<circle cx="632" cy="380" r="8" fill="url(#kL)" />
<circle cx="646" cy="379" r="7" fill="url(#kL)" />
<circle cx="658" cy="392" r="7" fill="url(#kL)" />
<circle cx="624" cy="391" r="8" fill="url(#kL)" />
<circle cx="640" cy="390" r="8.5" fill="url(#kG)" />
<circle cx="631" cy="404" r="8.5" fill="url(#kL)" />
<circle cx="648" cy="404" r="8.5" fill="url(#kL)" />
<circle cx="644.4" cy="355.6" r="6.5" fill="url(#kR)" />
<text x="644.4" y="358.05" font-size="6.8" text-anchor="middle" fill="#111"  stroke="#111" stroke-width="0.14">O</text>
<circle cx="647" cy="367" r="7" fill="url(#kC)" />
<text x="647" y="369.45" font-size="6.8" text-anchor="middle" fill="#111"  stroke="#111" stroke-width="0.14">C</text>
<circle cx="635" cy="371" r="7" fill="url(#kR)" />
<text x="635" y="373.45" font-size="6.8" text-anchor="middle" fill="#111"  stroke="#111" stroke-width="0.14">O</text>
<circle cx="656" cy="386.6" r="6.5" fill="url(#kR)" />
<text x="656" y="389.05" font-size="6.8" text-anchor="middle" fill="#111"  stroke="#111" stroke-width="0.14">O</text>
<circle cx="657" cy="374.4" r="6.5" fill="url(#kB)" />
<text x="657" y="376.85" font-size="6.8" text-anchor="middle" fill="#111"  stroke="#111" stroke-width="0.14">N</text>
<circle cx="669" cy="371" r="7" fill="url(#kR)" />
<text x="669" y="373.45" font-size="6.8" text-anchor="middle" fill="#111"  stroke="#111" stroke-width="0.14">O</text>
<circle cx="617" cy="440" r="3" fill="url(#kW)" />
<circle cx="641.6" cy="439" r="3" fill="url(#kW)" />
<circle cx="621" cy="448.5" r="2.8" fill="url(#kW)" />
<circle cx="637" cy="448.5" r="2.8" fill="url(#kW)" />
<circle cx="629" cy="429.5" r="4" fill="url(#kR)" />
<circle cx="629" cy="436.5" r="3.6" fill="url(#kC)" />
<circle cx="624" cy="441.5" r="4.2" fill="url(#kB)" />
<circle cx="634.4" cy="441.5" r="4.2" fill="url(#kB)" />
<path d="M657.5 421 C661 430 657 438 648 441" fill="none" stroke="url(#karr)" stroke-width="2.2"/>
<path d="M645 441.8 L650.5 437.5 L651 445 Z" fill="#7aa470"/>
<path d="M560 348.4 L568.5 346.6 L574.3 355.6" fill="none" stroke="url(#kgr)" stroke-width="2.7" stroke-linejoin="miter" stroke-linecap="butt"/>
<path d="M557 355.9 L565.5 354.1 L571.3 363.1" fill="none" stroke="url(#kgr)" stroke-width="2.7" stroke-linejoin="miter" stroke-linecap="butt"/>
<path d="M610.7 344.9 L620 343.3 L622.9 335.3" fill="none" stroke="url(#kgr)" stroke-width="2.7" stroke-linejoin="miter" stroke-linecap="butt"/>
<path d="M617.3 351.5 L626 350 L629.5 341.3" fill="none" stroke="url(#kgr)" stroke-width="2.7" stroke-linejoin="miter" stroke-linecap="butt"/>
<path d="M598.9 390 L595 397.5 L600.3 404.6" fill="none" stroke="url(#kgr)" stroke-width="2.7" stroke-linejoin="miter" stroke-linecap="butt"/>
<path d="M605.5 390 L601.7 397.5 L607.6 404.6" fill="none" stroke="url(#kgr)" stroke-width="2.7" stroke-linejoin="miter" stroke-linecap="butt"/>
<path d="M599.3 363.3 L607 368.7 L603.3 376 L601.5 375 L599.8 382 L598 381 L592 391.5 L593.5 378.5 L596.2 379.5 L596.8 371 L598.5 371.8 Z" fill="url(#kbolt)"/>
<text x="575.2" y="362.2" font-size="8.6" text-anchor="start" fill="#111"  stroke="#111" stroke-width="0.14">Electric</text>
<text x="575.2" y="372.8" font-size="8.6" text-anchor="start" fill="#111"  stroke="#111" stroke-width="0.14">drive</text>
<rect x="620.8" y="284.2" width="48.6" height="9.4" fill="#f0a098" stroke="none" stroke-width="1" />
<text x="621.6" y="292.2" font-size="8.4" fill="#111" stroke="#111" stroke-width="0.14">2<tspan font-size="5.4" dy="-3">nd</tspan><tspan dy="3"> Click site</tspan></text>
<rect x="528.9" y="437.1" width="46.5" height="9.6" fill="#f0a098" stroke="none" stroke-width="1" />
<text x="529.6" y="445.2" font-size="8.4" fill="#111" stroke="#111" stroke-width="0.14">1<tspan font-size="5.4" dy="-3">st</tspan><tspan dy="3"> Click site</tspan></text>
<text x="642.5" y="302" font-size="8.6" fill="#111" transform="rotate(49 642.5 302)" stroke="#111" stroke-width="0.14">Sequential-chain</text>
<text x="644.8" y="322.5" font-size="8.6" fill="#111" transform="rotate(51 644.8 322.5)" stroke="#111" stroke-width="0.14">coupling</text>
<text x="-0.1" y="7.9" font-size="13.5" text-anchor="start" fill="#111"  stroke="#111" stroke-width="0.14">a</text>
<text x="0" y="69" font-size="13.5" text-anchor="start" fill="#111"  stroke="#111" stroke-width="0.14">b</text>
<text x="1" y="243.1" font-size="13.5" text-anchor="start" fill="#111"  stroke="#111" stroke-width="0.14">c</text>
<text x="-0.1" y="317.1" font-size="13.5" text-anchor="start" fill="#111"  stroke="#111" stroke-width="0.14">d</text>
<text x="182.8" y="315.5" font-size="13.5" text-anchor="start" fill="#111"  stroke="#111" stroke-width="0.14">e</text>
<text x="355" y="317.6" font-size="13.5" text-anchor="start" fill="#111"  stroke="#111" stroke-width="0.14">f</text>
<text x="1" y="458.8" font-size="13.5" text-anchor="start" fill="#111"  stroke="#111" stroke-width="0.14">g</text>
<text x="239" y="459.5" font-size="13.5" text-anchor="start" fill="#111"  stroke="#111" stroke-width="0.14">h</text>
<text x="471.1" y="462.3" font-size="13.5" text-anchor="start" fill="#111"  stroke="#111" stroke-width="0.14">i</text>
<text x="529.6" y="11.3" font-size="13.5" text-anchor="start" fill="#111"  stroke="#111" stroke-width="0.14">j</text>
<text x="527.7" y="289.5" font-size="13.5" text-anchor="start" fill="#111"  stroke="#111" stroke-width="0.14">k</text>
</svg></body></html>
